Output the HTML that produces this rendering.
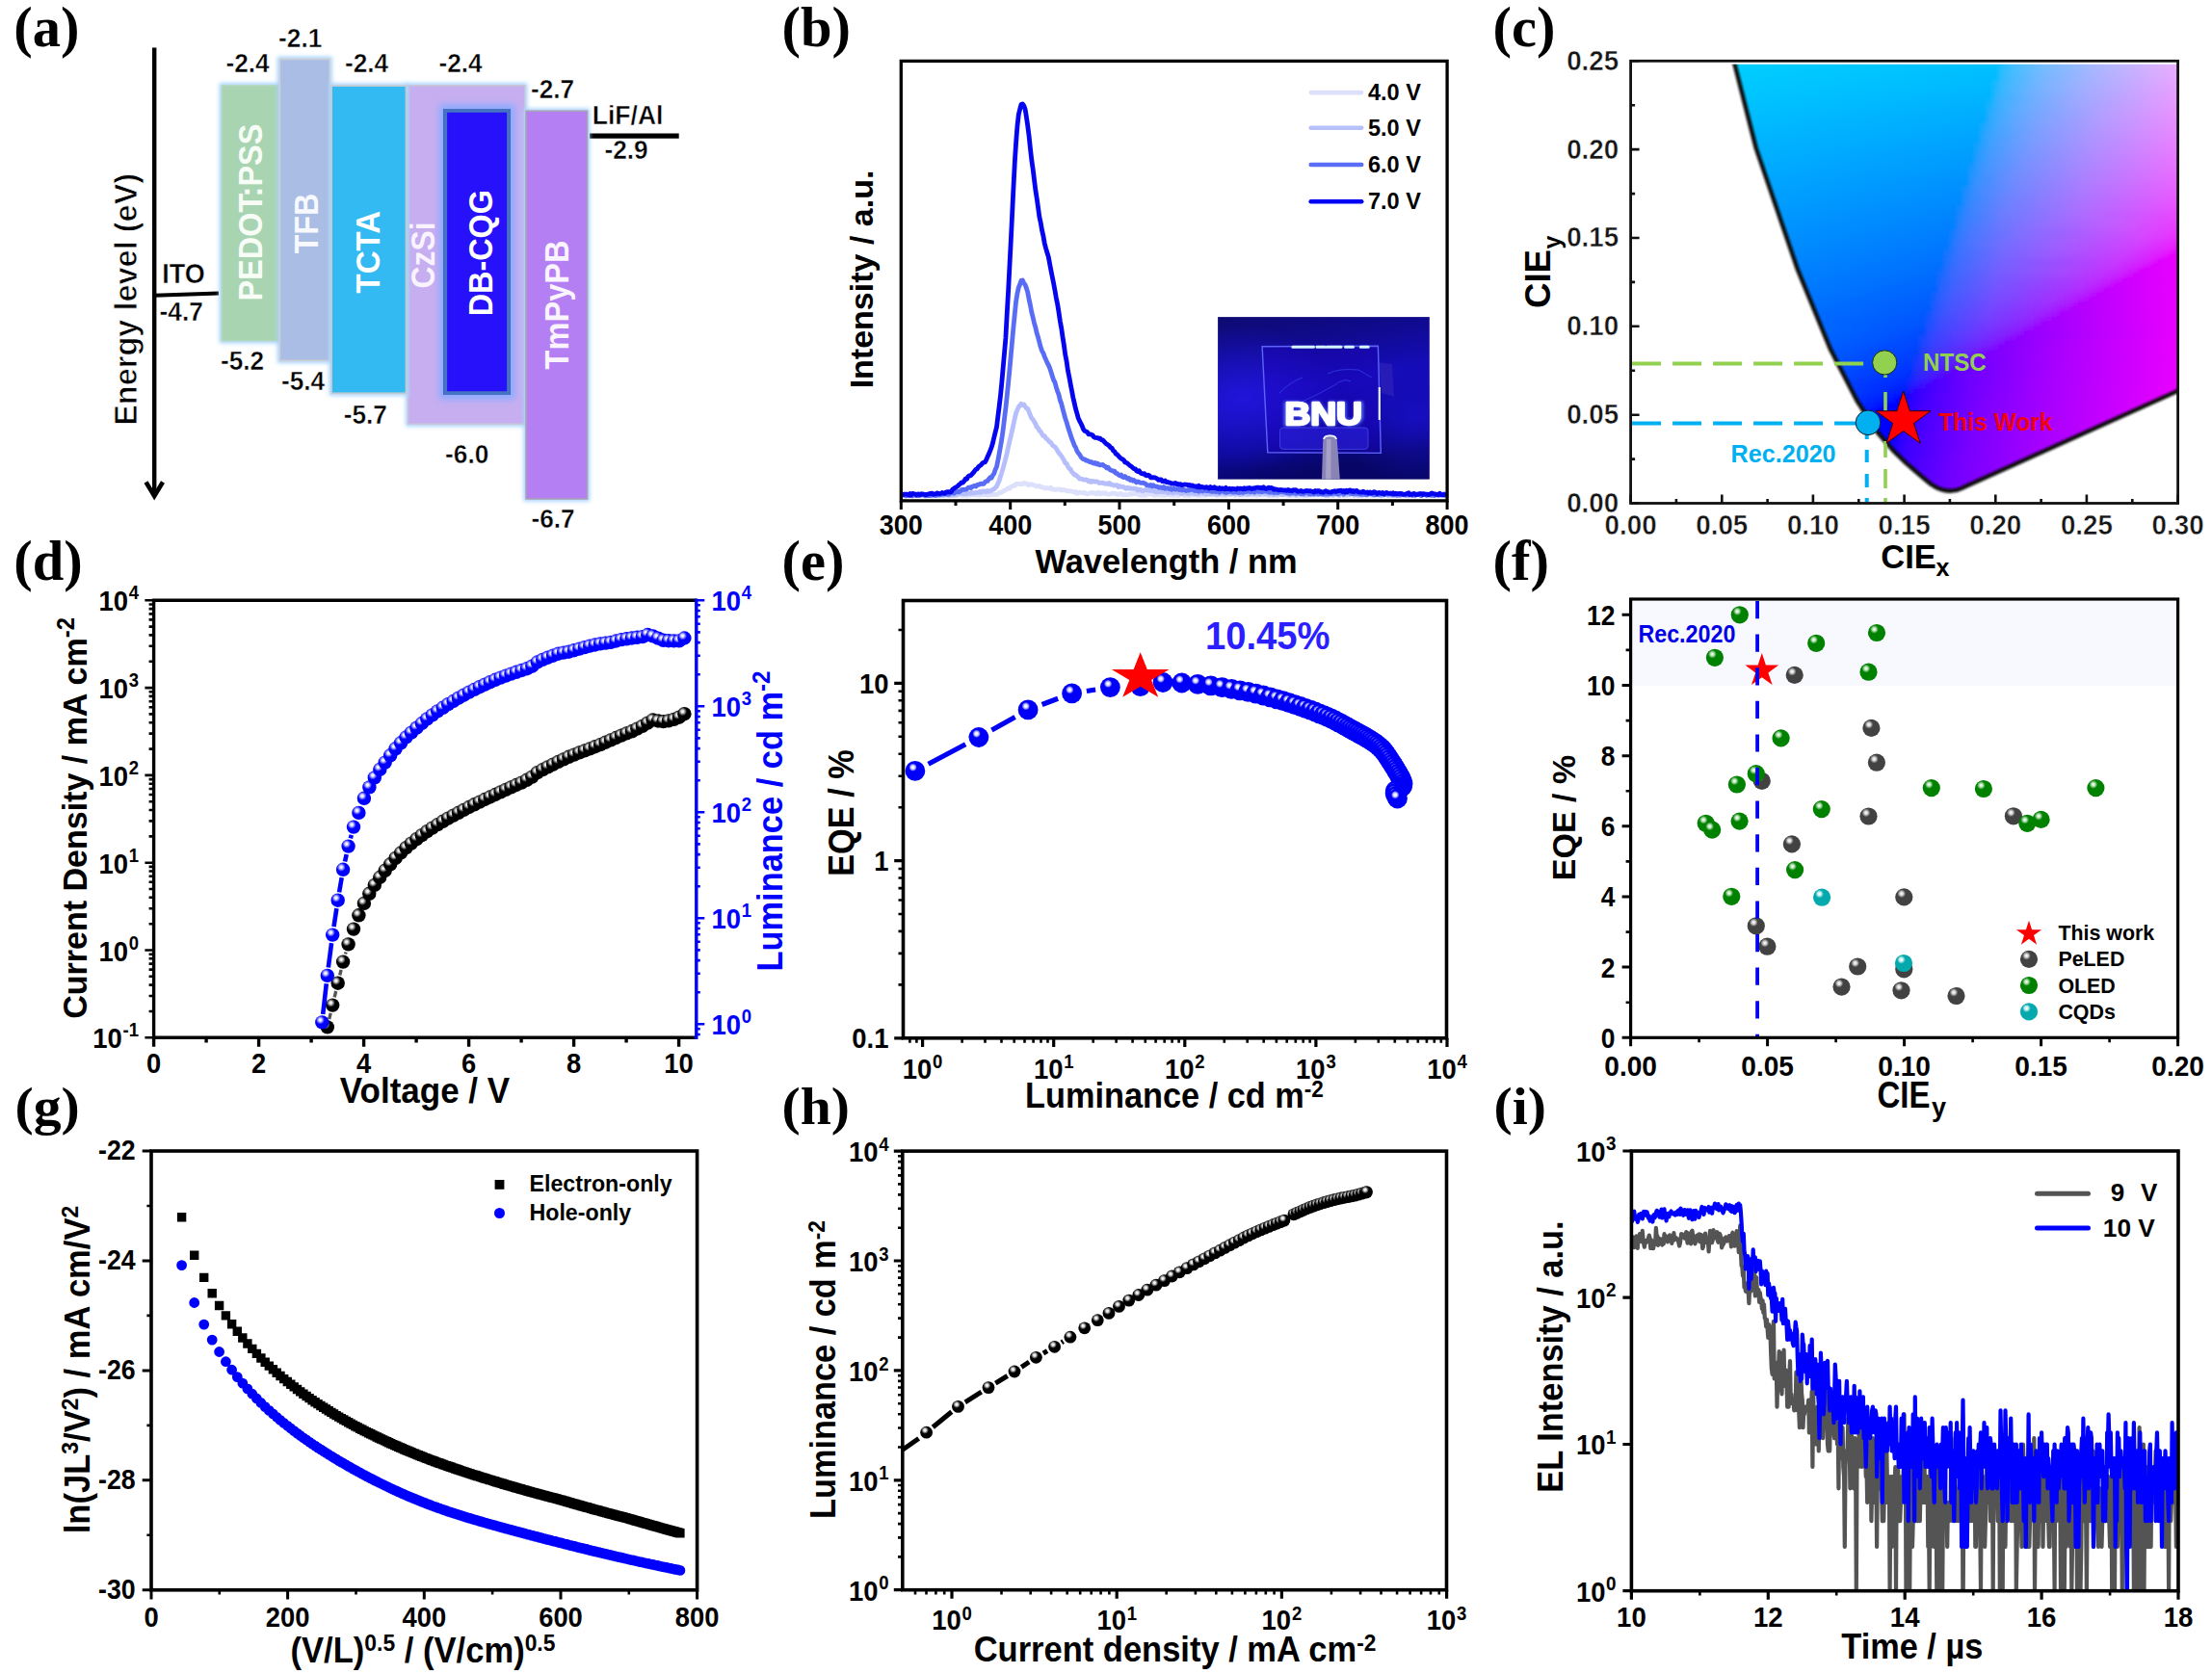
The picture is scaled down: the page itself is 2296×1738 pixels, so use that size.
<!DOCTYPE html>
<html><head><meta charset="utf-8"><title>Figure</title>
<style>
html,body{margin:0;padding:0;background:#fff;}
body{width:2296px;height:1738px;overflow:hidden;}
svg{display:block;font-family:"Liberation Sans", sans-serif;font-weight:bold;}
line{stroke:#000;}
</style></head><body>
<svg xmlns="http://www.w3.org/2000/svg" width="2296" height="1738" viewBox="0 0 2296 1738" text-anchor="middle">
<defs>
<filter id="glow" x="-20%" y="-20%" width="140%" height="140%"><feGaussianBlur stdDeviation="2.2"/></filter>
<filter id="glow2" x="-30%" y="-30%" width="160%" height="160%"><feGaussianBlur stdDeviation="3.5"/></filter>
<linearGradient id="ph" x1="0" y1="0" x2="0.25" y2="1"><stop offset="0" stop-color="#0e0b72"/><stop offset="0.18" stop-color="#0f0a86"/><stop offset="0.5" stop-color="#150cb6"/><stop offset="0.8" stop-color="#0d0896"/><stop offset="1" stop-color="#070666"/></linearGradient>
<radialGradient id="ph2" cx="0.12" cy="0.5" r="0.45"><stop offset="0" stop-color="#2418e6" stop-opacity="0.75"/><stop offset="1" stop-color="#2418e6" stop-opacity="0"/></radialGradient>
<radialGradient id="ph3" cx="0.95" cy="0.62" r="0.4"><stop offset="0" stop-color="#1c10d2" stop-opacity="0.7"/><stop offset="1" stop-color="#1c10d2" stop-opacity="0"/></radialGradient>
<filter id="b2" x="-20%" y="-20%" width="140%" height="140%"><feGaussianBlur stdDeviation="1.6"/></filter>
<filter id="b1" x="-20%" y="-20%" width="140%" height="140%"><feGaussianBlur stdDeviation="0.7"/></filter>
<filter id="vb" x="-2%" y="-2%" width="104%" height="104%"><feGaussianBlur stdDeviation="0 2.2"/></filter>
<filter id="eb" x="-5%" y="-5%" width="110%" height="110%"><feGaussianBlur stdDeviation="1.3"/></filter>
<clipPath id="cie"><path d="M2038.2 506.1Q2021.2 514.8 2003.9 502.5L1997.6 497.2L1989.1 490L1978.5 480.8L1965.2 467.9L1949.1 449.2L1927.6 416.3L1900.1 363.1L1865.5 278.8L1822.7 153.9L1778.6 -19.4L2300.6 -19.4L2300.6 387.9Z"/></clipPath>
<clipPath id="cfr"><rect x="1692.6" y="66.8" width="568" height="455.7"/></clipPath>
<linearGradient id="cg0"><stop offset="0" stop-color="#00d4ff"/><stop offset="0.607" stop-color="#00c3ff"/><stop offset="0.619" stop-color="#0cc3ff"/><stop offset="0.631" stop-color="#2fc2ff"/><stop offset="0.643" stop-color="#40c2ff"/><stop offset="0.714" stop-color="#7abfff"/><stop offset="0.81" stop-color="#abbbff"/><stop offset="1" stop-color="#f7b0ff"/></linearGradient>
<linearGradient id="cg1"><stop offset="0" stop-color="#00d2ff"/><stop offset="0.607" stop-color="#00c1ff"/><stop offset="0.631" stop-color="#34c0ff"/><stop offset="0.643" stop-color="#43c0ff"/><stop offset="0.702" stop-color="#74bdff"/><stop offset="0.821" stop-color="#b1b8ff"/><stop offset="1" stop-color="#f7adff"/></linearGradient>
<linearGradient id="cg2"><stop offset="0" stop-color="#00d1ff"/><stop offset="0.607" stop-color="#00bfff"/><stop offset="0.619" stop-color="#22bfff"/><stop offset="0.643" stop-color="#46beff"/><stop offset="0.702" stop-color="#75bbff"/><stop offset="0.798" stop-color="#a7b7ff"/><stop offset="1" stop-color="#f7aaff"/></linearGradient>
<linearGradient id="cg3"><stop offset="0" stop-color="#00cfff"/><stop offset="0.607" stop-color="#00bdff"/><stop offset="0.619" stop-color="#28bdff"/><stop offset="0.631" stop-color="#3bbcff"/><stop offset="0.69" stop-color="#6fbaff"/><stop offset="0.821" stop-color="#b2b3ff"/><stop offset="1" stop-color="#f6a7ff"/></linearGradient>
<linearGradient id="cg4"><stop offset="0" stop-color="#00ceff"/><stop offset="0.607" stop-color="#00bbff"/><stop offset="0.619" stop-color="#2dbbff"/><stop offset="0.631" stop-color="#3ebaff"/><stop offset="0.69" stop-color="#70b7ff"/><stop offset="0.798" stop-color="#a8b2ff"/><stop offset="1" stop-color="#f6a5ff"/></linearGradient>
<linearGradient id="cg5"><stop offset="0" stop-color="#00ccff"/><stop offset="0.595" stop-color="#00baff"/><stop offset="0.619" stop-color="#31b9ff"/><stop offset="0.631" stop-color="#41b8ff"/><stop offset="0.702" stop-color="#79b5ff"/><stop offset="0.774" stop-color="#9eb1ff"/><stop offset="1" stop-color="#f6a2ff"/></linearGradient>
<linearGradient id="cg6"><stop offset="0" stop-color="#00cbff"/><stop offset="0.595" stop-color="#00b8ff"/><stop offset="0.619" stop-color="#35b7ff"/><stop offset="0.631" stop-color="#44b6ff"/><stop offset="0.69" stop-color="#73b3ff"/><stop offset="0.786" stop-color="#a4aeff"/><stop offset="1" stop-color="#f69fff"/></linearGradient>
<linearGradient id="cg7"><stop offset="0" stop-color="#00caff"/><stop offset="0.595" stop-color="#00b6ff"/><stop offset="0.607" stop-color="#25b5ff"/><stop offset="0.619" stop-color="#39b5ff"/><stop offset="0.655" stop-color="#5cb3ff"/><stop offset="0.69" stop-color="#74b1ff"/><stop offset="0.774" stop-color="#9facff"/><stop offset="1" stop-color="#f69cff"/></linearGradient>
<linearGradient id="cg8"><stop offset="0" stop-color="#00c8ff"/><stop offset="0.595" stop-color="#00b4ff"/><stop offset="0.607" stop-color="#2ab3ff"/><stop offset="0.619" stop-color="#3cb2ff"/><stop offset="0.679" stop-color="#6eafff"/><stop offset="0.786" stop-color="#a5a9ff"/><stop offset="1" stop-color="#f699ff"/></linearGradient>
<linearGradient id="cg9"><stop offset="0" stop-color="#00c7ff"/><stop offset="0.583" stop-color="#00b2ff"/><stop offset="0.595" stop-color="#0fb2ff"/><stop offset="0.607" stop-color="#2fb1ff"/><stop offset="0.619" stop-color="#3fb0ff"/><stop offset="0.679" stop-color="#6fadff"/><stop offset="0.762" stop-color="#9ba8ff"/><stop offset="1" stop-color="#f697ff"/></linearGradient>
<linearGradient id="cg10"><stop offset="0" stop-color="#00c5ff"/><stop offset="0.583" stop-color="#00b0ff"/><stop offset="0.607" stop-color="#33afff"/><stop offset="0.631" stop-color="#4eaeff"/><stop offset="0.667" stop-color="#69acff"/><stop offset="0.774" stop-color="#a1a5ff"/><stop offset="1" stop-color="#f694ff"/></linearGradient>
<linearGradient id="cg11"><stop offset="0" stop-color="#00c4ff"/><stop offset="0.583" stop-color="#00aeff"/><stop offset="0.595" stop-color="#22adff"/><stop offset="0.607" stop-color="#36adff"/><stop offset="0.631" stop-color="#50acff"/><stop offset="0.679" stop-color="#72a9ff"/><stop offset="0.833" stop-color="#ba9fff"/><stop offset="1" stop-color="#f691ff"/></linearGradient>
<linearGradient id="cg12"><stop offset="0" stop-color="#00c2ff"/><stop offset="0.583" stop-color="#00acff"/><stop offset="0.595" stop-color="#27abff"/><stop offset="0.607" stop-color="#3aabff"/><stop offset="0.667" stop-color="#6ca7ff"/><stop offset="0.81" stop-color="#b19eff"/><stop offset="1" stop-color="#f68eff"/></linearGradient>
<linearGradient id="cg13"><stop offset="0" stop-color="#00c1ff"/><stop offset="0.583" stop-color="#01aaff"/><stop offset="0.595" stop-color="#2ca9ff"/><stop offset="0.607" stop-color="#3da9ff"/><stop offset="0.643" stop-color="#5da7ff"/><stop offset="0.69" stop-color="#7ba4ff"/><stop offset="0.821" stop-color="#b69bff"/><stop offset="1" stop-color="#f58bff"/></linearGradient>
<linearGradient id="cg14"><stop offset="0" stop-color="#00bfff"/><stop offset="0.571" stop-color="#00a9ff"/><stop offset="0.595" stop-color="#30a7ff"/><stop offset="0.607" stop-color="#40a7ff"/><stop offset="0.643" stop-color="#5fa5ff"/><stop offset="0.69" stop-color="#7ca2ff"/><stop offset="0.81" stop-color="#b299ff"/><stop offset="1" stop-color="#f588ff"/></linearGradient>
<linearGradient id="cg15"><stop offset="0" stop-color="#00beff"/><stop offset="0.571" stop-color="#00a7ff"/><stop offset="0.583" stop-color="#1fa6ff"/><stop offset="0.607" stop-color="#42a5ff"/><stop offset="0.69" stop-color="#7d9fff"/><stop offset="0.821" stop-color="#b796ff"/><stop offset="1" stop-color="#f585ff"/></linearGradient>
<linearGradient id="cg16"><stop offset="0" stop-color="#00bcff"/><stop offset="0.571" stop-color="#00a5ff"/><stop offset="0.583" stop-color="#25a4ff"/><stop offset="0.595" stop-color="#38a3ff"/><stop offset="0.667" stop-color="#719fff"/><stop offset="0.798" stop-color="#ae95ff"/><stop offset="1" stop-color="#f582ff"/></linearGradient>
<linearGradient id="cg17"><stop offset="0" stop-color="#00bbff"/><stop offset="0.571" stop-color="#00a3ff"/><stop offset="0.583" stop-color="#2aa2ff"/><stop offset="0.595" stop-color="#3ba1ff"/><stop offset="0.667" stop-color="#729dff"/><stop offset="0.786" stop-color="#aa94ff"/><stop offset="1" stop-color="#f57fff"/></linearGradient>
<linearGradient id="cg18"><stop offset="0" stop-color="#00b9ff"/><stop offset="0.56" stop-color="#00a1ff"/><stop offset="0.595" stop-color="#3e9fff"/><stop offset="0.631" stop-color="#5d9dff"/><stop offset="0.679" stop-color="#7a9aff"/><stop offset="0.798" stop-color="#af90ff"/><stop offset="1" stop-color="#f57bff"/></linearGradient>
<linearGradient id="cg19"><stop offset="0" stop-color="#00b8ff"/><stop offset="0.56" stop-color="#009fff"/><stop offset="0.583" stop-color="#329eff"/><stop offset="0.595" stop-color="#409dff"/><stop offset="0.679" stop-color="#7b97ff"/><stop offset="0.81" stop-color="#b48dff"/><stop offset="1" stop-color="#f578ff"/></linearGradient>
<linearGradient id="cg20"><stop offset="0" stop-color="#00b6ff"/><stop offset="0.56" stop-color="#009dff"/><stop offset="0.571" stop-color="#229cff"/><stop offset="0.595" stop-color="#439bff"/><stop offset="0.655" stop-color="#6f97ff"/><stop offset="0.798" stop-color="#b08bff"/><stop offset="1" stop-color="#f575ff"/></linearGradient>
<linearGradient id="cg21"><stop offset="0" stop-color="#00b5ff"/><stop offset="0.56" stop-color="#009bff"/><stop offset="0.571" stop-color="#279aff"/><stop offset="0.583" stop-color="#3999ff"/><stop offset="0.655" stop-color="#7094ff"/><stop offset="0.774" stop-color="#a78bff"/><stop offset="1" stop-color="#f571ff"/></linearGradient>
<linearGradient id="cg22"><stop offset="0" stop-color="#00b3ff"/><stop offset="0.548" stop-color="#009aff"/><stop offset="0.56" stop-color="#0a99ff"/><stop offset="0.571" stop-color="#2c98ff"/><stop offset="0.595" stop-color="#4897ff"/><stop offset="0.679" stop-color="#7e90ff"/><stop offset="0.81" stop-color="#b585ff"/><stop offset="1" stop-color="#f56eff"/></linearGradient>
<linearGradient id="cg23"><stop offset="0" stop-color="#00b2ff"/><stop offset="0.548" stop-color="#0098ff"/><stop offset="0.571" stop-color="#3096ff"/><stop offset="0.583" stop-color="#3e95ff"/><stop offset="0.655" stop-color="#7290ff"/><stop offset="0.774" stop-color="#a886ff"/><stop offset="1" stop-color="#f56bff"/></linearGradient>
<linearGradient id="cg24"><stop offset="0" stop-color="#00b0ff"/><stop offset="0.548" stop-color="#0096ff"/><stop offset="0.56" stop-color="#1f95ff"/><stop offset="0.583" stop-color="#4193ff"/><stop offset="0.643" stop-color="#6d8fff"/><stop offset="0.762" stop-color="#a484ff"/><stop offset="1" stop-color="#f567ff"/></linearGradient>
<linearGradient id="cg25"><stop offset="0" stop-color="#00afff"/><stop offset="0.548" stop-color="#0093ff"/><stop offset="0.56" stop-color="#2593ff"/><stop offset="0.571" stop-color="#3792ff"/><stop offset="0.643" stop-color="#6e8cff"/><stop offset="0.774" stop-color="#a981ff"/><stop offset="1" stop-color="#f563ff"/></linearGradient>
<linearGradient id="cg26"><stop offset="0" stop-color="#00adff"/><stop offset="0.548" stop-color="#0091ff"/><stop offset="0.56" stop-color="#2991ff"/><stop offset="0.571" stop-color="#3a90ff"/><stop offset="0.643" stop-color="#6f8aff"/><stop offset="0.786" stop-color="#ae7dff"/><stop offset="1" stop-color="#f45fff"/></linearGradient>
<linearGradient id="cg27"><stop offset="0" stop-color="#00acff"/><stop offset="0.536" stop-color="#0090ff"/><stop offset="0.56" stop-color="#2e8eff"/><stop offset="0.571" stop-color="#3c8dff"/><stop offset="0.643" stop-color="#7088ff"/><stop offset="0.774" stop-color="#aa7bff"/><stop offset="1" stop-color="#f45bff"/></linearGradient>
<linearGradient id="cg28"><stop offset="0" stop-color="#00aaff"/><stop offset="0.536" stop-color="#008eff"/><stop offset="0.548" stop-color="#1c8dff"/><stop offset="0.571" stop-color="#3f8bff"/><stop offset="0.631" stop-color="#6b86ff"/><stop offset="0.786" stop-color="#af77ff"/><stop offset="1" stop-color="#f457ff"/></linearGradient>
<linearGradient id="cg29"><stop offset="0" stop-color="#00a9ff"/><stop offset="0.536" stop-color="#008cff"/><stop offset="0.548" stop-color="#228bff"/><stop offset="0.56" stop-color="#358aff"/><stop offset="0.631" stop-color="#6c84ff"/><stop offset="0.774" stop-color="#ab76ff"/><stop offset="1" stop-color="#f453ff"/></linearGradient>
<linearGradient id="cg30"><stop offset="0" stop-color="#00a7ff"/><stop offset="0.536" stop-color="#008aff"/><stop offset="0.548" stop-color="#2789ff"/><stop offset="0.56" stop-color="#3888ff"/><stop offset="0.631" stop-color="#6d82ff"/><stop offset="0.762" stop-color="#a774ff"/><stop offset="1" stop-color="#f44eff"/></linearGradient>
<linearGradient id="cg31"><stop offset="0" stop-color="#00a6ff"/><stop offset="0.524" stop-color="#0088ff"/><stop offset="0.536" stop-color="#0d88ff"/><stop offset="0.548" stop-color="#2b87ff"/><stop offset="0.56" stop-color="#3b86ff"/><stop offset="0.631" stop-color="#6e7fff"/><stop offset="0.786" stop-color="#b06fff"/><stop offset="1" stop-color="#f449ff"/></linearGradient>
<linearGradient id="cg32"><stop offset="0" stop-color="#00a4ff"/><stop offset="0.524" stop-color="#0086ff"/><stop offset="0.548" stop-color="#2f84ff"/><stop offset="0.56" stop-color="#3d83ff"/><stop offset="0.619" stop-color="#697eff"/><stop offset="0.762" stop-color="#a86fff"/><stop offset="1" stop-color="#f444ff"/></linearGradient>
<linearGradient id="cg33"><stop offset="0" stop-color="#00a3ff"/><stop offset="0.524" stop-color="#0084ff"/><stop offset="0.536" stop-color="#1f83ff"/><stop offset="0.548" stop-color="#3382ff"/><stop offset="0.619" stop-color="#6a7cff"/><stop offset="0.786" stop-color="#b169ff"/><stop offset="1" stop-color="#f43eff"/></linearGradient>
<linearGradient id="cg34"><stop offset="0" stop-color="#00a1ff"/><stop offset="0.524" stop-color="#0082ff"/><stop offset="0.536" stop-color="#2581ff"/><stop offset="0.548" stop-color="#3680ff"/><stop offset="0.619" stop-color="#6b79ff"/><stop offset="0.714" stop-color="#976fff"/><stop offset="0.845" stop-color="#c55dff"/><stop offset="1" stop-color="#f438ff"/></linearGradient>
<linearGradient id="cg35"><stop offset="0" stop-color="#00a0ff"/><stop offset="0.524" stop-color="#0080ff"/><stop offset="0.536" stop-color="#297fff"/><stop offset="0.548" stop-color="#397eff"/><stop offset="0.607" stop-color="#6678ff"/><stop offset="0.69" stop-color="#8e6fff"/><stop offset="0.857" stop-color="#c957ff"/><stop offset="1" stop-color="#f431ff"/></linearGradient>
<linearGradient id="cg36"><stop offset="0" stop-color="#009eff"/><stop offset="0.512" stop-color="#007fff"/><stop offset="0.536" stop-color="#2d7cff"/><stop offset="0.56" stop-color="#477aff"/><stop offset="0.655" stop-color="#7f70ff"/><stop offset="0.857" stop-color="#c953ff"/><stop offset="0.952" stop-color="#e63cff"/><stop offset="1" stop-color="#f428ff"/></linearGradient>
<linearGradient id="cg37"><stop offset="0" stop-color="#009dff"/><stop offset="0.512" stop-color="#007cff"/><stop offset="0.536" stop-color="#317aff"/><stop offset="0.56" stop-color="#4978ff"/><stop offset="0.655" stop-color="#806eff"/><stop offset="0.881" stop-color="#d14aff"/><stop offset="0.952" stop-color="#e635ff"/><stop offset="1" stop-color="#f41dff"/></linearGradient>
<linearGradient id="cg38"><stop offset="0" stop-color="#009bff"/><stop offset="0.512" stop-color="#007aff"/><stop offset="0.524" stop-color="#2279ff"/><stop offset="0.536" stop-color="#3478ff"/><stop offset="0.56" stop-color="#4b75ff"/><stop offset="0.619" stop-color="#706fff"/><stop offset="0.738" stop-color="#a260ff"/><stop offset="0.893" stop-color="#d442ff"/><stop offset="0.976" stop-color="#ed21ff"/><stop offset="0.988" stop-color="#f018ff"/><stop offset="1" stop-color="#f400ff"/></linearGradient>
<linearGradient id="cg39"><stop offset="0" stop-color="#009aff"/><stop offset="0.512" stop-color="#0078ff"/><stop offset="0.524" stop-color="#2777ff"/><stop offset="0.536" stop-color="#3775ff"/><stop offset="0.571" stop-color="#5572ff"/><stop offset="0.619" stop-color="#716dff"/><stop offset="0.726" stop-color="#9e5eff"/><stop offset="0.881" stop-color="#d140ff"/><stop offset="0.952" stop-color="#e625ff"/><stop offset="0.988" stop-color="#f000ff"/><stop offset="1" stop-color="#f400ff"/></linearGradient>
<linearGradient id="cg40"><stop offset="0" stop-color="#0098ff"/><stop offset="0.5" stop-color="#0077ff"/><stop offset="0.536" stop-color="#3a73ff"/><stop offset="0.619" stop-color="#726aff"/><stop offset="0.738" stop-color="#a359ff"/><stop offset="0.869" stop-color="#cd3eff"/><stop offset="0.94" stop-color="#e321ff"/><stop offset="0.952" stop-color="#e618ff"/><stop offset="0.964" stop-color="#e900ff"/><stop offset="1" stop-color="#f400ff"/></linearGradient>
<linearGradient id="cg41"><stop offset="0" stop-color="#0097ff"/><stop offset="0.5" stop-color="#0074ff"/><stop offset="0.524" stop-color="#2f72ff"/><stop offset="0.536" stop-color="#3c71ff"/><stop offset="0.619" stop-color="#7367ff"/><stop offset="0.714" stop-color="#9b5aff"/><stop offset="0.857" stop-color="#ca3cff"/><stop offset="0.929" stop-color="#df1dff"/><stop offset="0.952" stop-color="#e600ff"/><stop offset="1" stop-color="#f400ff"/></linearGradient>
<linearGradient id="cg42"><stop offset="0" stop-color="#0095ff"/><stop offset="0.5" stop-color="#0072ff"/><stop offset="0.512" stop-color="#2071ff"/><stop offset="0.536" stop-color="#3f6eff"/><stop offset="0.619" stop-color="#7464ff"/><stop offset="0.845" stop-color="#c73aff"/><stop offset="0.905" stop-color="#d821ff"/><stop offset="0.917" stop-color="#dc18ff"/><stop offset="0.929" stop-color="#df00ff"/><stop offset="1" stop-color="#f300ff"/></linearGradient>
<linearGradient id="cg43"><stop offset="0" stop-color="#0094ff"/><stop offset="0.5" stop-color="#006fff"/><stop offset="0.512" stop-color="#256eff"/><stop offset="0.536" stop-color="#416cff"/><stop offset="0.619" stop-color="#7561ff"/><stop offset="0.833" stop-color="#c338ff"/><stop offset="0.893" stop-color="#d51dff"/><stop offset="0.917" stop-color="#dc00ff"/><stop offset="1" stop-color="#f300ff"/></linearGradient>
<linearGradient id="cg44"><stop offset="0" stop-color="#0092ff"/><stop offset="0.488" stop-color="#006eff"/><stop offset="0.5" stop-color="#086dff"/><stop offset="0.512" stop-color="#296cff"/><stop offset="0.536" stop-color="#4369ff"/><stop offset="0.619" stop-color="#765fff"/><stop offset="0.738" stop-color="#a54bff"/><stop offset="0.845" stop-color="#c72dff"/><stop offset="0.881" stop-color="#d218ff"/><stop offset="0.893" stop-color="#d500ff"/><stop offset="1" stop-color="#f300ff"/></linearGradient>
<linearGradient id="cg45"><stop offset="0" stop-color="#0090ff"/><stop offset="0.488" stop-color="#006cff"/><stop offset="0.512" stop-color="#2d69ff"/><stop offset="0.524" stop-color="#3b68ff"/><stop offset="0.607" stop-color="#715dff"/><stop offset="0.75" stop-color="#a944ff"/><stop offset="0.821" stop-color="#c02fff"/><stop offset="0.857" stop-color="#cb1dff"/><stop offset="0.881" stop-color="#d200ff"/><stop offset="1" stop-color="#f300ff"/></linearGradient>
<linearGradient id="cg46"><stop offset="0" stop-color="#008fff"/><stop offset="0.488" stop-color="#0069ff"/><stop offset="0.5" stop-color="#1d68ff"/><stop offset="0.524" stop-color="#3d65ff"/><stop offset="0.607" stop-color="#725aff"/><stop offset="0.798" stop-color="#b931ff"/><stop offset="0.845" stop-color="#c718ff"/><stop offset="0.857" stop-color="#cb04ff"/><stop offset="0.869" stop-color="#ce00ff"/><stop offset="1" stop-color="#f300ff"/></linearGradient>
<linearGradient id="cg47"><stop offset="0" stop-color="#008dff"/><stop offset="0.488" stop-color="#0067ff"/><stop offset="0.5" stop-color="#2265ff"/><stop offset="0.524" stop-color="#3f63ff"/><stop offset="0.607" stop-color="#7357ff"/><stop offset="0.774" stop-color="#b233ff"/><stop offset="0.821" stop-color="#c11dff"/><stop offset="0.845" stop-color="#c800ff"/><stop offset="1" stop-color="#f300ff"/></linearGradient>
<linearGradient id="cg48"><stop offset="0" stop-color="#008cff"/><stop offset="0.488" stop-color="#0064ff"/><stop offset="0.5" stop-color="#2763ff"/><stop offset="0.524" stop-color="#4260ff"/><stop offset="0.607" stop-color="#7454ff"/><stop offset="0.774" stop-color="#b22cff"/><stop offset="0.81" stop-color="#bd18ff"/><stop offset="0.821" stop-color="#c106ff"/><stop offset="0.833" stop-color="#c400ff"/><stop offset="1" stop-color="#f300ff"/></linearGradient>
<linearGradient id="cg49"><stop offset="0" stop-color="#008aff"/><stop offset="0.476" stop-color="#0063ff"/><stop offset="0.5" stop-color="#2b60ff"/><stop offset="0.524" stop-color="#445dff"/><stop offset="0.607" stop-color="#7550ff"/><stop offset="0.75" stop-color="#ab2eff"/><stop offset="0.786" stop-color="#b61dff"/><stop offset="0.81" stop-color="#bd00ff"/><stop offset="1" stop-color="#f300ff"/></linearGradient>
<linearGradient id="cg50"><stop offset="0" stop-color="#0088ff"/><stop offset="0.476" stop-color="#0060ff"/><stop offset="0.5" stop-color="#2e5dff"/><stop offset="0.524" stop-color="#465aff"/><stop offset="0.607" stop-color="#764dff"/><stop offset="0.726" stop-color="#a330ff"/><stop offset="0.762" stop-color="#af20ff"/><stop offset="0.798" stop-color="#ba00ff"/><stop offset="1" stop-color="#f300ff"/></linearGradient>
<linearGradient id="cg51"><stop offset="0" stop-color="#0087ff"/><stop offset="0.476" stop-color="#005eff"/><stop offset="0.488" stop-color="#205cff"/><stop offset="0.512" stop-color="#3e59ff"/><stop offset="0.595" stop-color="#714bff"/><stop offset="0.714" stop-color="#a02eff"/><stop offset="0.75" stop-color="#ab1cff"/><stop offset="0.774" stop-color="#b300ff"/><stop offset="1" stop-color="#f300ff"/></linearGradient>
<linearGradient id="cg52"><stop offset="0" stop-color="#0085ff"/><stop offset="0.476" stop-color="#005bff"/><stop offset="0.488" stop-color="#2559ff"/><stop offset="0.512" stop-color="#4056ff"/><stop offset="0.595" stop-color="#7248ff"/><stop offset="0.714" stop-color="#a026ff"/><stop offset="0.762" stop-color="#b000ff"/><stop offset="1" stop-color="#f300ff"/></linearGradient>
<linearGradient id="cg53"><stop offset="0" stop-color="#0083ff"/><stop offset="0.464" stop-color="#005aff"/><stop offset="0.476" stop-color="#0c58ff"/><stop offset="0.488" stop-color="#2956ff"/><stop offset="0.512" stop-color="#4253ff"/><stop offset="0.595" stop-color="#7344ff"/><stop offset="0.69" stop-color="#9829ff"/><stop offset="0.726" stop-color="#a513ff"/><stop offset="0.738" stop-color="#a800ff"/><stop offset="1" stop-color="#f300ff"/></linearGradient>
<linearGradient id="cg54"><stop offset="0" stop-color="#0082ff"/><stop offset="0.464" stop-color="#0057ff"/><stop offset="0.488" stop-color="#2c53ff"/><stop offset="0.5" stop-color="#3a51ff"/><stop offset="0.536" stop-color="#554bff"/><stop offset="0.595" stop-color="#7440ff"/><stop offset="0.679" stop-color="#9526ff"/><stop offset="0.726" stop-color="#a500ff"/><stop offset="1" stop-color="#f300ff"/></linearGradient>
<linearGradient id="cg55"><stop offset="0" stop-color="#0080ff"/><stop offset="0.464" stop-color="#0054ff"/><stop offset="0.476" stop-color="#1d52ff"/><stop offset="0.5" stop-color="#3c4eff"/><stop offset="0.595" stop-color="#753bff"/><stop offset="0.667" stop-color="#9123ff"/><stop offset="0.69" stop-color="#9a13ff"/><stop offset="0.702" stop-color="#9e00ff"/><stop offset="1" stop-color="#f300ff"/></linearGradient>
<linearGradient id="cg56"><stop offset="0" stop-color="#007eff"/><stop offset="0.25" stop-color="#006bff"/><stop offset="0.464" stop-color="#0051ff"/><stop offset="0.476" stop-color="#224fff"/><stop offset="0.5" stop-color="#3e4bff"/><stop offset="0.595" stop-color="#7636ff"/><stop offset="0.655" stop-color="#8d20ff"/><stop offset="0.69" stop-color="#9a00ff"/><stop offset="1" stop-color="#f300ff"/></linearGradient>
<linearGradient id="cg57"><stop offset="0" stop-color="#007dff"/><stop offset="0.286" stop-color="#0065ff"/><stop offset="0.464" stop-color="#004dff"/><stop offset="0.476" stop-color="#274bff"/><stop offset="0.488" stop-color="#3549ff"/><stop offset="0.524" stop-color="#5243ff"/><stop offset="0.571" stop-color="#6c37ff"/><stop offset="0.631" stop-color="#8523ff"/><stop offset="0.655" stop-color="#8e13ff"/><stop offset="0.667" stop-color="#9200ff"/><stop offset="1" stop-color="#f300ff"/></linearGradient>
<linearGradient id="cg58"><stop offset="0" stop-color="#007bff"/><stop offset="0.274" stop-color="#0064ff"/><stop offset="0.452" stop-color="#004cff"/><stop offset="0.476" stop-color="#2a48ff"/><stop offset="0.5" stop-color="#4343ff"/><stop offset="0.571" stop-color="#6d32ff"/><stop offset="0.619" stop-color="#8120ff"/><stop offset="0.655" stop-color="#8f00ff"/><stop offset="1" stop-color="#f300ff"/></linearGradient>
<linearGradient id="cg59"><stop offset="0" stop-color="#0079ff"/><stop offset="0.262" stop-color="#0063ff"/><stop offset="0.452" stop-color="#0049ff"/><stop offset="0.464" stop-color="#1b47ff"/><stop offset="0.488" stop-color="#3a42ff"/><stop offset="0.571" stop-color="#6e2cff"/><stop offset="0.607" stop-color="#7d1cff"/><stop offset="0.631" stop-color="#8600ff"/><stop offset="0.774" stop-color="#b600ff"/><stop offset="1" stop-color="#f300ff"/></linearGradient>
<linearGradient id="cg60"><stop offset="0" stop-color="#0077ff"/><stop offset="0.238" stop-color="#0063ff"/><stop offset="0.452" stop-color="#0045ff"/><stop offset="0.464" stop-color="#2043ff"/><stop offset="0.488" stop-color="#3d3eff"/><stop offset="0.571" stop-color="#6f25ff"/><stop offset="0.595" stop-color="#7918ff"/><stop offset="0.619" stop-color="#8300ff"/><stop offset="0.75" stop-color="#af00ff"/><stop offset="1" stop-color="#f300ff"/></linearGradient>
<linearGradient id="cg61"><stop offset="0" stop-color="#0076ff"/><stop offset="0.262" stop-color="#005eff"/><stop offset="0.452" stop-color="#0041ff"/><stop offset="0.464" stop-color="#253fff"/><stop offset="0.476" stop-color="#343cff"/><stop offset="0.512" stop-color="#5033ff"/><stop offset="0.571" stop-color="#701cff"/><stop offset="0.595" stop-color="#7a00ff"/><stop offset="0.738" stop-color="#ac00ff"/><stop offset="1" stop-color="#f200ff"/></linearGradient>
<linearGradient id="cg62"><stop offset="0" stop-color="#0074ff"/><stop offset="0.25" stop-color="#005dff"/><stop offset="0.44" stop-color="#0040ff"/><stop offset="0.452" stop-color="#0e3dff"/><stop offset="0.464" stop-color="#293bff"/><stop offset="0.488" stop-color="#4135ff"/><stop offset="0.548" stop-color="#6520ff"/><stop offset="0.571" stop-color="#710dff"/><stop offset="0.583" stop-color="#7600ff"/><stop offset="0.714" stop-color="#a500ff"/><stop offset="1" stop-color="#f200ff"/></linearGradient>
<linearGradient id="cg63"><stop offset="0" stop-color="#0072ff"/><stop offset="0.238" stop-color="#005cff"/><stop offset="0.44" stop-color="#003cff"/><stop offset="0.464" stop-color="#2c36ff"/><stop offset="0.488" stop-color="#4330ff"/><stop offset="0.536" stop-color="#601cff"/><stop offset="0.548" stop-color="#6614ff"/><stop offset="0.56" stop-color="#6c00ff"/><stop offset="0.583" stop-color="#7700ff"/><stop offset="0.726" stop-color="#a900ff"/><stop offset="1" stop-color="#f200ff"/></linearGradient>
<linearGradient id="cg64"><stop offset="0" stop-color="#0070ff"/><stop offset="0.274" stop-color="#0055ff"/><stop offset="0.44" stop-color="#0037ff"/><stop offset="0.452" stop-color="#1e34ff"/><stop offset="0.476" stop-color="#3b2eff"/><stop offset="0.524" stop-color="#5b18ff"/><stop offset="0.548" stop-color="#6800ff"/><stop offset="0.738" stop-color="#ad00ff"/><stop offset="1" stop-color="#f200ff"/></linearGradient>
<linearGradient id="cg65"><stop offset="0" stop-color="#006eff"/><stop offset="0.238" stop-color="#0057ff"/><stop offset="0.44" stop-color="#0033ff"/><stop offset="0.452" stop-color="#232fff"/><stop offset="0.464" stop-color="#322bff"/><stop offset="0.512" stop-color="#5614ff"/><stop offset="0.524" stop-color="#5d00ff"/><stop offset="0.548" stop-color="#6900ff"/><stop offset="0.714" stop-color="#a600ff"/><stop offset="1" stop-color="#f200ff"/></linearGradient>
<linearGradient id="cg66"><stop offset="0" stop-color="#006cff"/><stop offset="0.262" stop-color="#0051ff"/><stop offset="0.429" stop-color="#0031ff"/><stop offset="0.44" stop-color="#072dff"/><stop offset="0.452" stop-color="#2729ff"/><stop offset="0.464" stop-color="#3525ff"/><stop offset="0.488" stop-color="#4819ff"/><stop offset="0.512" stop-color="#5700ff"/><stop offset="0.548" stop-color="#6a00ff"/><stop offset="0.702" stop-color="#a300ff"/><stop offset="1" stop-color="#f200ff"/></linearGradient>
<linearGradient id="cg67"><stop offset="0" stop-color="#006bff"/><stop offset="0.25" stop-color="#0050ff"/><stop offset="0.429" stop-color="#002bff"/><stop offset="0.452" stop-color="#2a22ff"/><stop offset="0.464" stop-color="#371cff"/><stop offset="0.476" stop-color="#4114ff"/><stop offset="0.488" stop-color="#4a00ff"/><stop offset="0.548" stop-color="#6b00ff"/><stop offset="0.714" stop-color="#a700ff"/><stop offset="1" stop-color="#f200ff"/></linearGradient>
<linearGradient id="cg68"><stop offset="0" stop-color="#0069ff"/><stop offset="0.25" stop-color="#004dff"/><stop offset="0.429" stop-color="#0025ff"/><stop offset="0.44" stop-color="#1b1fff"/><stop offset="0.464" stop-color="#3a0eff"/><stop offset="0.476" stop-color="#4300ff"/><stop offset="0.548" stop-color="#6c00ff"/><stop offset="0.69" stop-color="#a000ff"/><stop offset="1" stop-color="#f200ff"/></linearGradient>
<linearGradient id="cg69"><stop offset="0" stop-color="#0067ff"/><stop offset="0.298" stop-color="#0042ff"/><stop offset="0.381" stop-color="#002fff"/><stop offset="0.429" stop-color="#001cff"/><stop offset="0.44" stop-color="#2014ff"/><stop offset="0.452" stop-color="#3000ff"/><stop offset="0.464" stop-color="#3c00ff"/><stop offset="0.56" stop-color="#7200ff"/><stop offset="0.75" stop-color="#b200ff"/><stop offset="1" stop-color="#f200ff"/></linearGradient>
<linearGradient id="cg70"><stop offset="0" stop-color="#0065ff"/><stop offset="0.31" stop-color="#003cff"/><stop offset="0.381" stop-color="#0029ff"/><stop offset="0.429" stop-color="#000eff"/><stop offset="0.44" stop-color="#2500ff"/><stop offset="0.452" stop-color="#3300ff"/><stop offset="0.488" stop-color="#4f00ff"/><stop offset="0.536" stop-color="#6800ff"/><stop offset="0.69" stop-color="#a100ff"/><stop offset="1" stop-color="#f200ff"/></linearGradient>
<linearGradient id="cg71"><stop offset="0" stop-color="#0063ff"/><stop offset="0.19" stop-color="#004dff"/><stop offset="0.321" stop-color="#0035ff"/><stop offset="0.393" stop-color="#001cff"/><stop offset="0.405" stop-color="#0014ff"/><stop offset="0.417" stop-color="#0000ff"/><stop offset="0.44" stop-color="#2800ff"/><stop offset="0.476" stop-color="#4900ff"/><stop offset="0.583" stop-color="#7d00ff"/><stop offset="0.726" stop-color="#ac00ff"/><stop offset="1" stop-color="#f200ff"/></linearGradient>
<linearGradient id="cg72"><stop offset="0" stop-color="#0060ff"/><stop offset="0.286" stop-color="#0039ff"/><stop offset="0.369" stop-color="#001fff"/><stop offset="0.405" stop-color="#0000ff"/><stop offset="0.417" stop-color="#0000ff"/><stop offset="0.44" stop-color="#2c00ff"/><stop offset="0.464" stop-color="#4200ff"/><stop offset="0.571" stop-color="#7900ff"/><stop offset="0.75" stop-color="#b300ff"/><stop offset="1" stop-color="#f200ff"/></linearGradient>
<linearGradient id="cg73"><stop offset="0" stop-color="#005eff"/><stop offset="0.262" stop-color="#003aff"/><stop offset="0.345" stop-color="#0022ff"/><stop offset="0.369" stop-color="#0015ff"/><stop offset="0.381" stop-color="#0000ff"/><stop offset="0.417" stop-color="#0000ff"/><stop offset="0.429" stop-color="#1e00ff"/><stop offset="0.464" stop-color="#4400ff"/><stop offset="0.571" stop-color="#7a00ff"/><stop offset="0.738" stop-color="#b000ff"/><stop offset="1" stop-color="#f200ff"/></linearGradient>
<linearGradient id="cg74"><stop offset="0" stop-color="#005cff"/><stop offset="0.238" stop-color="#003bff"/><stop offset="0.333" stop-color="#001fff"/><stop offset="0.369" stop-color="#0000ff"/><stop offset="0.417" stop-color="#0000ff"/><stop offset="0.429" stop-color="#2300ff"/><stop offset="0.452" stop-color="#3d00ff"/><stop offset="0.56" stop-color="#7600ff"/><stop offset="0.726" stop-color="#ad00ff"/><stop offset="1" stop-color="#f200ff"/></linearGradient>
<linearGradient id="cg75"><stop offset="0" stop-color="#005aff"/><stop offset="0.238" stop-color="#0037ff"/><stop offset="0.31" stop-color="#0022ff"/><stop offset="0.357" stop-color="#0000ff"/><stop offset="0.405" stop-color="#0000ff"/><stop offset="0.417" stop-color="#0b00ff"/><stop offset="0.429" stop-color="#2700ff"/><stop offset="0.452" stop-color="#3f00ff"/><stop offset="0.56" stop-color="#7700ff"/><stop offset="0.75" stop-color="#b400ff"/><stop offset="1" stop-color="#f200ff"/></linearGradient>
<linearGradient id="cg76"><stop offset="0" stop-color="#0058ff"/><stop offset="0.262" stop-color="#002cff"/><stop offset="0.31" stop-color="#0019ff"/><stop offset="0.333" stop-color="#0000ff"/><stop offset="0.405" stop-color="#0000ff"/><stop offset="0.429" stop-color="#2a00ff"/><stop offset="0.44" stop-color="#3700ff"/><stop offset="0.488" stop-color="#5700ff"/><stop offset="0.548" stop-color="#7300ff"/><stop offset="0.738" stop-color="#b100ff"/><stop offset="1" stop-color="#f200ff"/></linearGradient>
<linearGradient id="cg77"><stop offset="0" stop-color="#0055ff"/><stop offset="0.226" stop-color="#0031ff"/><stop offset="0.286" stop-color="#001cff"/><stop offset="0.321" stop-color="#0000ff"/><stop offset="0.405" stop-color="#0000ff"/><stop offset="0.417" stop-color="#1c00ff"/><stop offset="0.44" stop-color="#3900ff"/><stop offset="0.536" stop-color="#6f00ff"/><stop offset="0.726" stop-color="#ae00ff"/><stop offset="1" stop-color="#f200ff"/></linearGradient>
<linearGradient id="cg78"><stop offset="0" stop-color="#0053ff"/><stop offset="0.226" stop-color="#002cff"/><stop offset="0.274" stop-color="#0019ff"/><stop offset="0.298" stop-color="#0000ff"/><stop offset="0.405" stop-color="#0000ff"/><stop offset="0.417" stop-color="#2100ff"/><stop offset="0.44" stop-color="#3b00ff"/><stop offset="0.488" stop-color="#5a00ff"/><stop offset="0.56" stop-color="#7900ff"/><stop offset="0.714" stop-color="#ab00ff"/><stop offset="1" stop-color="#f200ff"/></linearGradient>
<linearGradient id="cg79"><stop offset="0" stop-color="#0051ff"/><stop offset="0.214" stop-color="#002aff"/><stop offset="0.25" stop-color="#001cff"/><stop offset="0.286" stop-color="#0000ff"/><stop offset="0.405" stop-color="#0000ff"/><stop offset="0.417" stop-color="#2500ff"/><stop offset="0.44" stop-color="#3d00ff"/><stop offset="0.488" stop-color="#5b00ff"/><stop offset="0.56" stop-color="#7a00ff"/><stop offset="0.75" stop-color="#b500ff"/><stop offset="1" stop-color="#f200ff"/></linearGradient>
<linearGradient id="cg80"><stop offset="0" stop-color="#004eff"/><stop offset="0.202" stop-color="#0028ff"/><stop offset="0.238" stop-color="#0019ff"/><stop offset="0.262" stop-color="#0000ff"/><stop offset="0.393" stop-color="#0000ff"/><stop offset="0.417" stop-color="#2800ff"/><stop offset="0.44" stop-color="#3f00ff"/><stop offset="0.548" stop-color="#7600ff"/><stop offset="0.69" stop-color="#a500ff"/><stop offset="1" stop-color="#f200ff"/></linearGradient>
<linearGradient id="cg81"><stop offset="0" stop-color="#004bff"/><stop offset="0.179" stop-color="#002aff"/><stop offset="0.214" stop-color="#001cff"/><stop offset="0.25" stop-color="#0000ff"/><stop offset="0.393" stop-color="#0000ff"/><stop offset="0.417" stop-color="#2b00ff"/><stop offset="0.44" stop-color="#4100ff"/><stop offset="0.548" stop-color="#7700ff"/><stop offset="0.714" stop-color="#ac00ff"/><stop offset="1" stop-color="#f200ff"/></linearGradient>
<linearGradient id="cg82"><stop offset="0" stop-color="#0049ff"/><stop offset="0.167" stop-color="#0028ff"/><stop offset="0.202" stop-color="#0019ff"/><stop offset="0.226" stop-color="#0000ff"/><stop offset="0.393" stop-color="#0000ff"/><stop offset="0.405" stop-color="#1e00ff"/><stop offset="0.429" stop-color="#3a00ff"/><stop offset="0.536" stop-color="#7300ff"/><stop offset="0.702" stop-color="#a900ff"/><stop offset="1" stop-color="#f200ff"/></linearGradient>
<linearGradient id="cg83"><stop offset="0" stop-color="#0046ff"/><stop offset="0.155" stop-color="#0026ff"/><stop offset="0.19" stop-color="#0015ff"/><stop offset="0.214" stop-color="#0000ff"/><stop offset="0.393" stop-color="#0000ff"/><stop offset="0.405" stop-color="#2300ff"/><stop offset="0.429" stop-color="#3c00ff"/><stop offset="0.536" stop-color="#7400ff"/><stop offset="0.738" stop-color="#b300ff"/><stop offset="1" stop-color="#f200ff"/></linearGradient>
<linearGradient id="cg84"><stop offset="0" stop-color="#0043ff"/><stop offset="0.155" stop-color="#001fff"/><stop offset="0.179" stop-color="#0011ff"/><stop offset="0.19" stop-color="#0000ff"/><stop offset="0.381" stop-color="#0000ff"/><stop offset="0.393" stop-color="#0d00ff"/><stop offset="0.405" stop-color="#2600ff"/><stop offset="0.429" stop-color="#3e00ff"/><stop offset="0.524" stop-color="#7000ff"/><stop offset="0.714" stop-color="#ad00ff"/><stop offset="1" stop-color="#f100ff"/></linearGradient>
<linearGradient id="cg85"><stop offset="0" stop-color="#0040ff"/><stop offset="0.131" stop-color="#0021ff"/><stop offset="0.179" stop-color="#0000ff"/><stop offset="0.381" stop-color="#0000ff"/><stop offset="0.405" stop-color="#2a00ff"/><stop offset="0.429" stop-color="#4000ff"/><stop offset="0.548" stop-color="#7a00ff"/><stop offset="0.702" stop-color="#aa00ff"/><stop offset="1" stop-color="#f100ff"/></linearGradient>
<linearGradient id="cg86"><stop offset="0" stop-color="#003dff"/><stop offset="0.119" stop-color="#001fff"/><stop offset="0.143" stop-color="#0011ff"/><stop offset="0.155" stop-color="#0000ff"/><stop offset="0.381" stop-color="#0000ff"/><stop offset="0.393" stop-color="#1c00ff"/><stop offset="0.417" stop-color="#3800ff"/><stop offset="0.512" stop-color="#6d00ff"/><stop offset="0.69" stop-color="#a700ff"/><stop offset="1" stop-color="#f100ff"/></linearGradient>
<linearGradient id="cg87"><stop offset="0" stop-color="#0039ff"/><stop offset="0.095" stop-color="#0021ff"/><stop offset="0.143" stop-color="#0000ff"/><stop offset="0.381" stop-color="#0000ff"/><stop offset="0.393" stop-color="#2100ff"/><stop offset="0.417" stop-color="#3a00ff"/><stop offset="0.452" stop-color="#5200ff"/><stop offset="0.536" stop-color="#7700ff"/><stop offset="0.726" stop-color="#b100ff"/><stop offset="1" stop-color="#f100ff"/></linearGradient>
<linearGradient id="cg88"><stop offset="0" stop-color="#0036ff"/><stop offset="0.083" stop-color="#001fff"/><stop offset="0.107" stop-color="#0011ff"/><stop offset="0.119" stop-color="#0000ff"/><stop offset="0.369" stop-color="#0000ff"/><stop offset="0.381" stop-color="#0500ff"/><stop offset="0.393" stop-color="#2500ff"/><stop offset="0.429" stop-color="#4500ff"/><stop offset="0.524" stop-color="#7300ff"/><stop offset="0.702" stop-color="#ab00ff"/><stop offset="1" stop-color="#f100ff"/></linearGradient>
<linearGradient id="cg89"><stop offset="0" stop-color="#0032ff"/><stop offset="0.071" stop-color="#001cff"/><stop offset="0.107" stop-color="#0000ff"/><stop offset="0.369" stop-color="#0000ff"/><stop offset="0.393" stop-color="#2800ff"/><stop offset="0.417" stop-color="#3e00ff"/><stop offset="0.524" stop-color="#7400ff"/><stop offset="0.69" stop-color="#a800ff"/><stop offset="1" stop-color="#f100ff"/></linearGradient>
<linearGradient id="cg90"><stop offset="0" stop-color="#002dff"/><stop offset="0.06" stop-color="#0019ff"/><stop offset="0.083" stop-color="#0000ff"/><stop offset="0.369" stop-color="#0000ff"/><stop offset="0.381" stop-color="#1a00ff"/><stop offset="0.405" stop-color="#3700ff"/><stop offset="0.512" stop-color="#7000ff"/><stop offset="0.738" stop-color="#b500ff"/><stop offset="1" stop-color="#f100ff"/></linearGradient>
<linearGradient id="cg91"><stop offset="0" stop-color="#0029ff"/><stop offset="0.048" stop-color="#0016ff"/><stop offset="0.071" stop-color="#0000ff"/><stop offset="0.369" stop-color="#0000ff"/><stop offset="0.381" stop-color="#1f00ff"/><stop offset="0.405" stop-color="#3900ff"/><stop offset="0.452" stop-color="#5700ff"/><stop offset="0.512" stop-color="#7100ff"/><stop offset="0.702" stop-color="#ac00ff"/><stop offset="1" stop-color="#f100ff"/></linearGradient>
<linearGradient id="cg92"><stop offset="0" stop-color="#0025ff"/><stop offset="0.036" stop-color="#0016ff"/><stop offset="0.06" stop-color="#0000ff"/><stop offset="0.369" stop-color="#0000ff"/><stop offset="0.381" stop-color="#2100ff"/><stop offset="0.405" stop-color="#3a00ff"/><stop offset="0.5" stop-color="#6d00ff"/><stop offset="0.69" stop-color="#a900ff"/><stop offset="1" stop-color="#f100ff"/></linearGradient>
<linearGradient id="cg93"><stop offset="0" stop-color="#0025ff"/><stop offset="0.036" stop-color="#0016ff"/><stop offset="0.06" stop-color="#0000ff"/><stop offset="0.369" stop-color="#0000ff"/><stop offset="0.381" stop-color="#2100ff"/><stop offset="0.405" stop-color="#3a00ff"/><stop offset="0.5" stop-color="#6d00ff"/><stop offset="0.69" stop-color="#a900ff"/><stop offset="1" stop-color="#f100ff"/></linearGradient>
<radialGradient id="sk" cx="0.37" cy="0.33" r="0.31"><stop offset="0" stop-color="#fff"/><stop offset="0.3" stop-color="#e4e4e4"/><stop offset="1" stop-color="#000"/></radialGradient>
<radialGradient id="sb" cx="0.37" cy="0.33" r="0.31"><stop offset="0" stop-color="#fff"/><stop offset="0.3" stop-color="#e6e6ff"/><stop offset="1" stop-color="#0000ff"/></radialGradient>
<circle id="mk" r="7.2" fill="url(#sk)"/>
<circle id="mb" r="7.2" fill="url(#sb)"/>
<radialGradient id="se" cx="0.39" cy="0.32" r="0.2"><stop offset="0" stop-color="#fff"/><stop offset="0.35" stop-color="#ececff"/><stop offset="0.7" stop-color="#8c8cff"/><stop offset="1" stop-color="#0000f8"/></radialGradient>
<circle id="me" r="10.4" fill="url(#se)"/>
<radialGradient id="fg" cx="0.36" cy="0.3" r="0.24"><stop offset="0" stop-color="#fff"/><stop offset="0.4" stop-color="#bfe6bf"/><stop offset="1" stop-color="#008200"/></radialGradient>
<radialGradient id="fk" cx="0.36" cy="0.3" r="0.24"><stop offset="0" stop-color="#fff"/><stop offset="0.4" stop-color="#d8d8d8"/><stop offset="1" stop-color="#424242"/></radialGradient>
<radialGradient id="fc" cx="0.36" cy="0.3" r="0.24"><stop offset="0" stop-color="#fff"/><stop offset="0.4" stop-color="#d0f2f4"/><stop offset="1" stop-color="#04a9ad"/></radialGradient>
<circle id="bg" r="9.1" fill="url(#fg)"/>
<circle id="bk" r="9.1" fill="url(#fk)"/>
<circle id="bc" r="9.1" fill="url(#fc)"/>
<radialGradient id="sh" cx="0.38" cy="0.32" r="0.3"><stop offset="0" stop-color="#fff"/><stop offset="0.35" stop-color="#e0e0e0"/><stop offset="1" stop-color="#000"/></radialGradient>
<circle id="mh" r="6.4" fill="url(#sh)"/>
<clipPath id="ci"><rect x="1693.4" y="1195" width="567.6" height="456.7"/></clipPath>
</defs>
<line x1="160.2" y1="49.5" x2="160.2" y2="514" stroke-width="4.4"/>
<path d="M151.5 500.5L160.2 515L169 500.5" fill="none" stroke="#000" stroke-width="4.6" stroke-linejoin="miter"/>
<path d="M160 306.8L227 304.6" stroke="#000" stroke-width="4" fill="none"/>
<line x1="612" y1="141.2" x2="704.7" y2="141.2" stroke-width="5.2"/>
<rect x="227.7" y="86.3" width="64.4" height="270" fill="#a5d2ff" filter="url(#glow)"/>
<rect x="230.2" y="88.8" width="59.4" height="265" fill="#a9d4b1" stroke="#b5d9c2" stroke-width="1.6"/>
<rect x="421.1" y="86.3" width="126.2" height="356.4" fill="#a5d2ff" filter="url(#glow)"/>
<rect x="423.6" y="88.8" width="121.2" height="351.4" fill="#c6aef0" stroke="#c9c6d8" stroke-width="1.6"/>
<rect x="287.9" y="58.9" width="56.8" height="318" fill="#a5d2ff" filter="url(#glow)"/>
<rect x="290.4" y="61.4" width="51.8" height="313" fill="#a9bde5" stroke="#d0d0d4" stroke-width="1.6"/>
<rect x="341.7" y="86.7" width="82.2" height="324" fill="#a5d2ff" filter="url(#glow)"/>
<rect x="344.2" y="89.2" width="77.2" height="319" fill="#33baf3" stroke="#c2c9cf" stroke-width="1.6"/>
<rect x="543.5" y="112.7" width="68.6" height="407.8" fill="#a5d2ff" filter="url(#glow)"/>
<rect x="546" y="115.2" width="63.6" height="402.8" fill="#b57ff4" stroke="#a9a3b5" stroke-width="1.6"/>
<rect x="456" y="108.5" width="78.5" height="306" fill="#8aabff" filter="url(#glow2)"/>
<rect x="460.3" y="113" width="69.6" height="297" fill="#2710fa" stroke="#4a70c4" stroke-width="0"/>
<rect x="462.2" y="114.9" width="65.8" height="293.2" fill="#2710fa" stroke="#4672c2" stroke-width="3.8"/>
<text x="257" y="75" font-size="28" textLength="45.2" lengthAdjust="spacingAndGlyphs" stroke="#fff" stroke-width="0.45">-2.4</text>
<text x="311.7" y="49" font-size="28" textLength="45.2" lengthAdjust="spacingAndGlyphs" stroke="#fff" stroke-width="0.45">-2.1</text>
<text x="380.5" y="75" font-size="28" textLength="45.2" lengthAdjust="spacingAndGlyphs" stroke="#fff" stroke-width="0.45">-2.4</text>
<text x="478" y="75" font-size="28" textLength="45.2" lengthAdjust="spacingAndGlyphs" stroke="#fff" stroke-width="0.45">-2.4</text>
<text x="573.5" y="101.5" font-size="28" textLength="45.2" lengthAdjust="spacingAndGlyphs" stroke="#fff" stroke-width="0.45">-2.7</text>
<text x="650" y="164.8" font-size="28" textLength="45.2" lengthAdjust="spacingAndGlyphs" stroke="#fff" stroke-width="0.45">-2.9</text>
<text x="188.2" y="332.5" font-size="28" textLength="45.2" lengthAdjust="spacingAndGlyphs" stroke="#fff" stroke-width="0.45">-4.7</text>
<text x="251.5" y="384" font-size="28" textLength="45.2" lengthAdjust="spacingAndGlyphs" stroke="#fff" stroke-width="0.45">-5.2</text>
<text x="314.5" y="405.2" font-size="28" textLength="45.2" lengthAdjust="spacingAndGlyphs" stroke="#fff" stroke-width="0.45">-5.4</text>
<text x="379.3" y="440" font-size="28" textLength="45.2" lengthAdjust="spacingAndGlyphs" stroke="#fff" stroke-width="0.45">-5.7</text>
<text x="484.7" y="480.8" font-size="28" textLength="45.2" lengthAdjust="spacingAndGlyphs" stroke="#fff" stroke-width="0.45">-6.0</text>
<text x="574" y="547.6" font-size="28" textLength="45.2" lengthAdjust="spacingAndGlyphs" stroke="#fff" stroke-width="0.45">-6.7</text>
<text x="190.4" y="294.2" font-size="30" textLength="44.5" lengthAdjust="spacingAndGlyphs" stroke="#fff" stroke-width="0.45">ITO</text>
<text x="651.6" y="128.6" font-size="27" textLength="73.6" lengthAdjust="spacingAndGlyphs" stroke="#fff" stroke-width="0.45">LiF/Al</text>
<text x="142.2" y="310.8" font-size="33.5" transform="rotate(-90 142.2 310.8)" textLength="262" lengthAdjust="spacingAndGlyphs" stroke="#fff" stroke-width="0.8">Energy level (eV)</text>
<text x="272.3" y="220.6" font-size="34.6" fill="#f7fcf7" transform="rotate(-90 272.3 220.6)" textLength="184" lengthAdjust="spacingAndGlyphs">PEDOT:PSS</text>
<text x="329.6" y="232" font-size="35" fill="#f8f9fe" transform="rotate(-90 329.6 232)" textLength="62.6" lengthAdjust="spacingAndGlyphs">TFB</text>
<text x="393.8" y="261.6" font-size="35" fill="#ffffff" transform="rotate(-90 393.8 261.6)" textLength="85.7" lengthAdjust="spacingAndGlyphs">TCTA</text>
<text x="450.8" y="265" font-size="35" fill="#f8f3fe" transform="rotate(-90 450.8 265)" textLength="69" lengthAdjust="spacingAndGlyphs">CzSi</text>
<text x="510.6" y="262.7" font-size="35" fill="#ffffff" transform="rotate(-90 510.6 262.7)" textLength="131.3" lengthAdjust="spacingAndGlyphs">DB-CQG</text>
<text x="590.2" y="316.4" font-size="35" fill="#faf4ff" transform="rotate(-90 590.2 316.4)" textLength="134" lengthAdjust="spacingAndGlyphs">TmPyPB</text>
<text x="14.2" y="48.4" font-size="58.5" text-anchor="start" font-family='"Liberation Serif", serif'>(a)</text>
<text x="811.5" y="48.4" font-size="58.5" text-anchor="start" font-family='"Liberation Serif", serif'>(b)</text>
<text x="1549.5" y="48.4" font-size="58.5" text-anchor="start" font-family='"Liberation Serif", serif'>(c)</text>
<text x="14.2" y="602" font-size="58.5" text-anchor="start" font-family='"Liberation Serif", serif'>(d)</text>
<text x="811.5" y="602" font-size="58.5" text-anchor="start" font-family='"Liberation Serif", serif'>(e)</text>
<text x="1549.5" y="602" font-size="58.5" text-anchor="start" font-family='"Liberation Serif", serif'>(f)</text>
<text x="15.5" y="1167.4" font-size="55.5" text-anchor="start" font-family='"Liberation Serif", serif' textLength="67.3" lengthAdjust="spacingAndGlyphs">(g)</text>
<text x="811.5" y="1167.4" font-size="55.5" text-anchor="start" font-family='"Liberation Serif", serif' textLength="70.5" lengthAdjust="spacingAndGlyphs">(h)</text>
<text x="1550.5" y="1167.4" font-size="55.5" text-anchor="start" font-family='"Liberation Serif", serif' textLength="54.5" lengthAdjust="spacingAndGlyphs">(i)</text>
<path d="M936.3 513.7L937.6 513.4L939 514.3L940.3 513.3L941.7 514.1L943 513.8L944.4 513.2L945.7 514.1L947.1 513.2L948.4 513.9L949.7 513.3L951.1 513.3L952.4 513.9L953.8 514.6L955.1 513.4L956.5 513.5L957.8 514.3L959.2 514.8L960.5 514.2L961.9 513.9L963.2 514.9L964.5 513.2L965.9 514.7L967.2 513.7L968.6 513.4L969.9 513.3L971.3 513.7L972.6 514.6L974 513.5L975.3 514.2L976.6 514.3L978 513.8L979.3 514.1L980.7 513.2L982 513.2L983.4 513.5L984.7 514.3L986.1 513.9L987.4 513.7L988.7 514.1L990.1 513.9L991.4 513.6L992.8 514.5L994.1 514.3L995.5 513.4L996.8 514L998.2 513.9L999.5 514.5L1000.8 514.2L1002.2 513.4L1003.5 514.7L1004.9 513.1L1006.2 513.6L1007.6 514.2L1008.9 513.1L1010.3 513.7L1011.6 512.9L1013 514L1014.3 514.1L1015.6 513.8L1017 514.3L1018.3 513.3L1019.7 513.9L1021 513.7L1022.4 513.7L1023.7 513.4L1025.1 514.1L1026.4 514.2L1027.7 513.3L1029.1 513.6L1030.4 512.5L1031.8 513.5L1033.1 513.2L1034.5 513.6L1035.8 513L1037.2 511.6L1038.5 511.4L1039.8 511.4L1041.2 509.6L1042.5 509.7L1043.9 508.6L1045.2 507.7L1046.6 506.9L1047.9 507.4L1049.3 505.5L1050.6 504.9L1051.9 504.3L1053.3 504.4L1054.6 502.3L1056 502.5L1057.3 502.3L1058.7 502.7L1060 502.5L1061.4 502.5L1062.7 501.5L1064.1 501.9L1065.4 502L1066.7 503.2L1068.1 503.7L1069.4 502.6L1070.8 503L1072.1 503.4L1073.5 503.7L1074.8 504.5L1076.2 505L1077.5 504.7L1078.8 504.5L1080.2 505.5L1081.5 505.6L1082.9 506.1L1084.2 507L1085.6 506.7L1086.9 506.5L1088.3 506.9L1089.6 507.2L1090.9 506.3L1092.3 508L1093.6 508L1095 508.4L1096.3 508.4L1097.7 507.9L1099 508.2L1100.4 507.9L1101.7 509.1L1103.1 508.4L1104.4 508.6L1105.7 509.1L1107.1 509.3L1108.4 509.9L1109.8 509.6L1111.1 509.7L1112.5 510.2L1113.8 510.3L1115.2 511L1116.5 510.5L1117.8 512.2L1119.2 511.9L1120.5 511.1L1121.9 511.4L1123.2 511.6L1124.6 511.8L1125.9 511.4L1127.3 512.7L1128.6 513L1129.9 512.1L1131.3 512.1L1132.6 511.4L1134 511.5L1135.3 512L1136.7 511.8L1138 512.9L1139.4 511.7L1140.7 511.4L1142 513.1L1143.4 512.4L1144.7 511.7L1146.1 512.5L1147.4 511.6L1148.8 512.5L1150.1 513.4L1151.5 513.2L1152.8 512.9L1154.2 512.2L1155.5 512.4L1156.8 512.1L1158.2 513.2L1159.5 512.9L1160.9 513.4L1162.2 512.6L1163.6 512.4L1164.9 513.5L1166.3 513.9L1167.6 513.7L1168.9 513.6L1170.3 513.7L1171.6 513.6L1173 512.7L1174.3 513.2L1175.7 512.9L1177 512.4L1178.4 512.4L1179.7 512.9L1181 512.9L1182.4 513.7L1183.7 514.2L1185.1 513.3L1186.4 514.2L1187.8 514.3L1189.1 514.2L1190.5 513.2L1191.8 513L1193.1 513L1194.5 512.9L1195.8 513L1197.2 513.7L1198.5 514.3L1199.9 514.2L1201.2 513.5L1202.6 513.9L1203.9 514.1L1205.3 512.9L1206.6 513.9L1207.9 514.4L1209.3 514.1L1210.6 514.1L1212 513.6L1213.3 513.1L1214.7 514.2L1216 513.4L1217.4 514.2L1218.7 514.5L1220 513.5L1221.4 513.5L1222.7 514.5L1224.1 514.1L1225.4 513.1L1226.8 513.1L1228.1 513.1L1229.5 514.5L1230.8 514.3L1232.1 513.1L1233.5 514.4L1234.8 514.6L1236.2 514.1L1237.5 513.5L1238.9 513.9L1240.2 513.1L1241.6 512.9L1242.9 514.6L1244.3 514.1L1245.6 513.8L1246.9 514.6L1248.3 513.7L1249.6 514.5L1251 514.4L1252.3 513.3L1253.7 513.4L1255 513.5L1256.4 513.4L1257.7 514L1259 513.4L1260.4 513.7L1261.7 513.2L1263.1 514.6L1264.4 513.6L1265.8 513.8L1267.1 514L1268.5 514.6L1269.8 513.7L1271.1 514.6L1272.5 513.9L1273.8 513.9L1275.2 513.9L1276.5 513L1277.9 513.8L1279.2 513.3L1280.6 513L1281.9 514.4L1283.2 513.3L1284.6 513.8L1285.9 514.3L1287.3 514L1288.6 513.5L1290 513.9L1291.3 514L1292.7 514.4L1294 513.1L1295.4 514L1296.7 513.4L1298 513.4L1299.4 514.3L1300.7 513.9L1302.1 514L1303.4 514.3L1304.8 514.6L1306.1 513.7L1307.5 514L1308.8 513.8L1310.1 513.9L1311.5 514.2L1312.8 513.8L1314.2 513.9L1315.5 513.8L1316.9 514.6L1318.2 514.2L1319.6 514.5L1320.9 514.7L1322.2 513.4L1323.6 514L1324.9 514.7L1326.3 514.5L1327.6 513.2L1329 513.2L1330.3 513.8L1331.7 513.1L1333 513.4L1334.3 513.1L1335.7 514.2L1337 514.4L1338.4 514.6L1339.7 513.3L1341.1 514.3L1342.4 514.2L1343.8 513.3L1345.1 514.6L1346.5 514.8L1347.8 513.4L1349.1 514.7L1350.5 513.7L1351.8 513.9L1353.2 514.8L1354.5 514.5L1355.9 513.3L1357.2 513.8L1358.6 514L1359.9 513.7L1361.2 513.4L1362.6 513.6L1363.9 514.3L1365.3 513.1L1366.6 514L1368 513.8L1369.3 513.1L1370.7 513.7L1372 514.2L1373.3 514L1374.7 513.2L1376 514.8L1377.4 514.5L1378.7 514.8L1380.1 513.2L1381.4 513.5L1382.8 513.1L1384.1 514.5L1385.5 513.5L1386.8 513.3L1388.1 513.8L1389.5 514.7L1390.8 514.5L1392.2 513.5L1393.5 513.3L1394.9 514.7L1396.2 514.1L1397.6 514.3L1398.9 513.2L1400.2 513.1L1401.6 514.3L1402.9 513.8L1404.3 513.2L1405.6 514.7L1407 514.2L1408.3 514.5L1409.7 513.2L1411 514.6L1412.3 513.2L1413.7 514.6L1415 513.9L1416.4 513.7L1417.7 514.1L1419.1 514.7L1420.4 513.6L1421.8 513.3L1423.1 514L1424.4 513.5L1425.8 513.3L1427.1 513.4L1428.5 513.2L1429.8 513.5L1431.2 513.7L1432.5 513.7L1433.9 514.5L1435.2 513.6L1436.6 514L1437.9 513.4L1439.2 513.7L1440.6 513.1L1441.9 513.6L1443.3 513.1L1444.6 514.4L1446 514.1L1447.3 513.5L1448.7 514L1450 514.8L1451.3 513.3L1452.7 514.6L1454 513.9L1455.4 514L1456.7 514.6L1458.1 513.8L1459.4 514L1460.8 514.4L1462.1 514.9L1463.4 513.7L1464.8 514.6L1466.1 514.4L1467.5 514.3L1468.8 513.9L1470.2 513.8L1471.5 513.2L1472.9 513.4L1474.2 513.3L1475.5 514.5L1476.9 513.6L1478.2 513.4L1479.6 513.3L1480.9 514.6L1482.3 514.7L1483.6 514.3L1485 513.6L1486.3 513.6L1487.7 513.7L1489 514L1490.3 513.4L1491.7 513.9L1493 513.6L1494.4 514.9L1495.7 514.9L1497.1 514.1L1498.4 513.6L1499.8 514.9L1501.1 513.7" fill="none" stroke="#dde0fb" stroke-width="4.8" stroke-linejoin="round"/>
<path d="M936.3 513.8L937.6 513.1L939 513.8L940.3 514L941.7 514L943 513.5L944.4 514L945.7 513.1L947.1 513.6L948.4 513.3L949.7 513.8L951.1 513.2L952.4 513.2L953.8 513.7L955.1 513.5L956.5 514.2L957.8 514.1L959.2 514.5L960.5 514.3L961.9 514.4L963.2 514.7L964.5 513.8L965.9 513.7L967.2 514.8L968.6 513.3L969.9 514.4L971.3 514.2L972.6 513.1L974 514.5L975.3 514.6L976.6 514.1L978 514.3L979.3 514.5L980.7 513.2L982 513.9L983.4 513.8L984.7 514.4L986.1 514.3L987.4 514.3L988.7 513.7L990.1 514.2L991.4 513.7L992.8 513.6L994.1 512.7L995.5 512.2L996.8 512.2L998.2 512.5L999.5 511.9L1000.8 513.1L1002.2 512.5L1003.5 512.5L1004.9 512.4L1006.2 512.4L1007.6 511.9L1008.9 510.9L1010.3 512.2L1011.6 512L1013 511.4L1014.3 511.3L1015.6 511.4L1017 510.2L1018.3 511.3L1019.7 510.3L1021 509.8L1022.4 510.1L1023.7 510.7L1025.1 509.4L1026.4 510.1L1027.7 510.2L1029.1 509L1030.4 508.3L1031.8 507.8L1033.1 506.5L1034.5 504.9L1035.8 502.1L1037.2 499L1038.5 494.5L1039.8 490.7L1041.2 485.8L1042.5 481.1L1043.9 475.8L1045.2 470.7L1046.6 464.1L1047.9 458.3L1049.3 452.4L1050.6 446.9L1051.9 440.7L1053.3 434.4L1054.6 428.9L1056 425.4L1057.3 422.5L1058.7 421L1060 419.3L1061.4 420.6L1062.7 419.9L1064.1 422.1L1065.4 423.9L1066.7 424.3L1068.1 427.6L1069.4 431.1L1070.8 434.2L1072.1 435.6L1073.5 437.7L1074.8 440L1076.2 443.5L1077.5 444.3L1078.8 447L1080.2 448.1L1081.5 450.4L1082.9 452.7L1084.2 452.7L1085.6 455.2L1086.9 455.8L1088.3 457.7L1089.6 458.8L1090.9 459.5L1092.3 462.3L1093.6 463.1L1095 464L1096.3 465.6L1097.7 468.2L1099 470.1L1100.4 471.8L1101.7 473.4L1103.1 475.8L1104.4 477.8L1105.7 480.8L1107.1 481.2L1108.4 484.4L1109.8 486.3L1111.1 486.9L1112.5 489.9L1113.8 491.1L1115.2 493L1116.5 493L1117.8 494.2L1119.2 495.3L1120.5 497.2L1121.9 497.1L1123.2 497.4L1124.6 498.1L1125.9 498.1L1127.3 498L1128.6 498.4L1129.9 500L1131.3 499.2L1132.6 500.5L1134 499.4L1135.3 499.6L1136.7 500.2L1138 499.8L1139.4 500.2L1140.7 501.3L1142 501.3L1143.4 501.3L1144.7 501.2L1146.1 502L1147.4 502.3L1148.8 501.9L1150.1 502.5L1151.5 501.6L1152.8 503.1L1154.2 503L1155.5 503.8L1156.8 504L1158.2 503.7L1159.5 503.6L1160.9 505.6L1162.2 504.5L1163.6 505.4L1164.9 505.4L1166.3 505.5L1167.6 506.6L1168.9 507.3L1170.3 506.2L1171.6 507.2L1173 506.7L1174.3 507.4L1175.7 507.3L1177 507.1L1178.4 507.3L1179.7 507.6L1181 509.1L1182.4 508.5L1183.7 508.1L1185.1 509.5L1186.4 509.9L1187.8 509L1189.1 508.6L1190.5 508.9L1191.8 508.8L1193.1 509.4L1194.5 509L1195.8 509.4L1197.2 509.6L1198.5 510.3L1199.9 510.9L1201.2 510.8L1202.6 510.3L1203.9 510.4L1205.3 510.6L1206.6 510.5L1207.9 510.5L1209.3 510L1210.6 510.5L1212 511.8L1213.3 510.4L1214.7 511.2L1216 511.5L1217.4 511.9L1218.7 510.8L1220 511L1221.4 511L1222.7 511.3L1224.1 511.4L1225.4 512.4L1226.8 512.2L1228.1 512.3L1229.5 510.9L1230.8 510.9L1232.1 512.2L1233.5 512.6L1234.8 511.9L1236.2 512.1L1237.5 511.1L1238.9 511.8L1240.2 512.8L1241.6 512.6L1242.9 512.7L1244.3 513L1245.6 511.7L1246.9 511.5L1248.3 511.6L1249.6 512.3L1251 512.6L1252.3 513.1L1253.7 512.7L1255 512.6L1256.4 512.9L1257.7 512.3L1259 512.5L1260.4 511.6L1261.7 513L1263.1 512L1264.4 513.3L1265.8 512.8L1267.1 512.2L1268.5 511.9L1269.8 512.1L1271.1 512.8L1272.5 513L1273.8 511.9L1275.2 511.9L1276.5 512.7L1277.9 512.8L1279.2 512.5L1280.6 512.2L1281.9 512.9L1283.2 511.8L1284.6 512.3L1285.9 512.6L1287.3 513.5L1288.6 512.9L1290 513.3L1291.3 512.5L1292.7 512.1L1294 512.1L1295.4 513.4L1296.7 512.9L1298 512.2L1299.4 511.6L1300.7 512.5L1302.1 512.8L1303.4 512.3L1304.8 512L1306.1 512.7L1307.5 513.2L1308.8 511.9L1310.1 511.6L1311.5 512.1L1312.8 512.3L1314.2 512.8L1315.5 512L1316.9 513.1L1318.2 513L1319.6 512.6L1320.9 512.1L1322.2 513.5L1323.6 512.4L1324.9 513.3L1326.3 512.3L1327.6 512.3L1329 513.3L1330.3 512.5L1331.7 513.7L1333 512.9L1334.3 512.4L1335.7 512.5L1337 512.9L1338.4 513.4L1339.7 513.9L1341.1 512.4L1342.4 512.9L1343.8 512.6L1345.1 514L1346.5 512.5L1347.8 512.3L1349.1 512.4L1350.5 513L1351.8 513.9L1353.2 513.9L1354.5 513.6L1355.9 514.1L1357.2 514L1358.6 512.9L1359.9 512.7L1361.2 514L1362.6 513.7L1363.9 512.4L1365.3 513.6L1366.6 513.1L1368 513.1L1369.3 513L1370.7 512.8L1372 512.5L1373.3 513L1374.7 513.1L1376 514.2L1377.4 512.7L1378.7 514.2L1380.1 512.8L1381.4 513.1L1382.8 513.9L1384.1 513.9L1385.5 513.2L1386.8 512.5L1388.1 513.2L1389.5 513.1L1390.8 514L1392.2 512.7L1393.5 513L1394.9 514L1396.2 512.4L1397.6 513.1L1398.9 513.8L1400.2 513.7L1401.6 512.4L1402.9 512.4L1404.3 512.5L1405.6 514L1407 512.9L1408.3 513.8L1409.7 514.1L1411 513.1L1412.3 513L1413.7 514.2L1415 513.6L1416.4 513L1417.7 513.9L1419.1 513.2L1420.4 513.1L1421.8 512.7L1423.1 514L1424.4 514.3L1425.8 513.9L1427.1 514.4L1428.5 512.8L1429.8 513.2L1431.2 513.7L1432.5 514.5L1433.9 514.5L1435.2 513.5L1436.6 513.3L1437.9 513.6L1439.2 513.7L1440.6 514.5L1441.9 513.2L1443.3 514.3L1444.6 514.2L1446 514.4L1447.3 514.3L1448.7 514L1450 513.5L1451.3 513.5L1452.7 513.6L1454 514.3L1455.4 513.1L1456.7 513.3L1458.1 514.3L1459.4 513.4L1460.8 513.1L1462.1 513L1463.4 514L1464.8 513.6L1466.1 514.7L1467.5 514.6L1468.8 514.8L1470.2 513.5L1471.5 513.1L1472.9 513.2L1474.2 513.9L1475.5 514.3L1476.9 513.8L1478.2 513.4L1479.6 513.8L1480.9 514.1L1482.3 514.2L1483.6 514.4L1485 514.5L1486.3 514.2L1487.7 513.2L1489 514.5L1490.3 513.6L1491.7 514.1L1493 513.7L1494.4 514.4L1495.7 513.4L1497.1 513.5L1498.4 513.5L1499.8 513.3L1501.1 514.7" fill="none" stroke="#b6bffb" stroke-width="4.8" stroke-linejoin="round"/>
<path d="M936.3 514.2L937.6 513.7L939 513.8L940.3 514.9L941.7 514L943 513.5L944.4 514.6L945.7 514.3L947.1 514.9L948.4 513.3L949.7 513.9L951.1 514.5L952.4 514.6L953.8 514.7L955.1 513.1L956.5 513.6L957.8 513.2L959.2 513.4L960.5 514.8L961.9 514L963.2 514.6L964.5 513.6L965.9 514.5L967.2 513.7L968.6 513.3L969.9 514.2L971.3 514.5L972.6 512.9L974 513.8L975.3 513.8L976.6 513L978 513.3L979.3 512.8L980.7 512.9L982 512.8L983.4 513.4L984.7 513.4L986.1 512.4L987.4 511.8L988.7 512L990.1 512.2L991.4 510.9L992.8 510.8L994.1 510.2L995.5 510.8L996.8 509.9L998.2 508.6L999.5 508.2L1000.8 508.3L1002.2 508.1L1003.5 507.8L1004.9 506.4L1006.2 506L1007.6 506.5L1008.9 505.5L1010.3 504.8L1011.6 504.4L1013 505.1L1014.3 503.4L1015.6 503.4L1017 502.6L1018.3 502.2L1019.7 502.5L1021 502.3L1022.4 500.7L1023.7 499.6L1025.1 499.4L1026.4 497.3L1027.7 495.8L1029.1 496.3L1030.4 493.5L1031.8 491.8L1033.1 487.6L1034.5 484.7L1035.8 478.2L1037.2 470.8L1038.5 463.3L1039.8 456L1041.2 445.7L1042.5 435.1L1043.9 423.8L1045.2 411.5L1046.6 397.8L1047.9 384.2L1049.3 368.8L1050.6 354.4L1051.9 340L1053.3 326L1054.6 313.1L1056 304.5L1057.3 298.5L1058.7 295.2L1060 291.4L1061.4 291L1062.7 293.8L1064.1 295.7L1065.4 299.2L1066.7 303.2L1068.1 310.9L1069.4 316.6L1070.8 324.1L1072.1 329.2L1073.5 335.3L1074.8 339.8L1076.2 346.1L1077.5 350L1078.8 355.2L1080.2 360.5L1081.5 364.1L1082.9 366.7L1084.2 370.2L1085.6 373.4L1086.9 376.4L1088.3 379L1089.6 382L1090.9 385.9L1092.3 390.5L1093.6 394.5L1095 397L1096.3 401.9L1097.7 406.3L1099 409.6L1100.4 415.7L1101.7 419L1103.1 424.6L1104.4 429.4L1105.7 434.3L1107.1 438.3L1108.4 442.8L1109.8 447.3L1111.1 451.3L1112.5 455.4L1113.8 458.7L1115.2 462.4L1116.5 464.5L1117.8 468L1119.2 470.2L1120.5 471.7L1121.9 474.2L1123.2 475.8L1124.6 476.7L1125.9 476.9L1127.3 478.1L1128.6 478.1L1129.9 478.8L1131.3 479.7L1132.6 479.5L1134 480.5L1135.3 481L1136.7 480.5L1138 481.9L1139.4 481.1L1140.7 482.5L1142 482.8L1143.4 482.6L1144.7 482.4L1146.1 483.8L1147.4 484.2L1148.8 485.9L1150.1 485.2L1151.5 487.2L1152.8 488.2L1154.2 488.5L1155.5 489.4L1156.8 489.1L1158.2 491.4L1159.5 491.4L1160.9 493L1162.2 493.8L1163.6 493L1164.9 494.8L1166.3 495.6L1167.6 494.6L1168.9 495.7L1170.3 497.1L1171.6 496.5L1173 498.4L1174.3 497.7L1175.7 499.2L1177 498.5L1178.4 499.7L1179.7 500.9L1181 500L1182.4 500.5L1183.7 501.3L1185.1 501.3L1186.4 501.2L1187.8 501.8L1189.1 502.2L1190.5 503.9L1191.8 503.8L1193.1 504.4L1194.5 503.4L1195.8 504.8L1197.2 503.8L1198.5 504.8L1199.9 505.3L1201.2 505.1L1202.6 506.2L1203.9 505.8L1205.3 506L1206.6 506.8L1207.9 505.6L1209.3 507.3L1210.6 506.9L1212 506.6L1213.3 507.5L1214.7 506.8L1216 508.3L1217.4 507.6L1218.7 507.4L1220 508.2L1221.4 507.7L1222.7 507.4L1224.1 508.5L1225.4 507.4L1226.8 508.9L1228.1 508L1229.5 508.8L1230.8 509.5L1232.1 508.9L1233.5 509.2L1234.8 508.7L1236.2 508.2L1237.5 508.3L1238.9 508.6L1240.2 509.5L1241.6 509.2L1242.9 509.5L1244.3 510.2L1245.6 508.9L1246.9 509.2L1248.3 510L1249.6 508.9L1251 509L1252.3 509.7L1253.7 509.3L1255 509.8L1256.4 509.7L1257.7 510.3L1259 510.4L1260.4 509.7L1261.7 510.5L1263.1 510.3L1264.4 509.7L1265.8 511.2L1267.1 510L1268.5 509.9L1269.8 509.8L1271.1 510.9L1272.5 511.3L1273.8 511.2L1275.2 510.6L1276.5 510.4L1277.9 509.9L1279.2 511.1L1280.6 511L1281.9 510.6L1283.2 511.1L1284.6 510.7L1285.9 511.5L1287.3 511.1L1288.6 510.2L1290 511.4L1291.3 509.8L1292.7 510.6L1294 510.4L1295.4 510L1296.7 509.7L1298 510.9L1299.4 509.5L1300.7 510.4L1302.1 511.1L1303.4 509.6L1304.8 509.7L1306.1 510.4L1307.5 510.2L1308.8 510.4L1310.1 510.7L1311.5 509.7L1312.8 510L1314.2 510L1315.5 509.7L1316.9 511.2L1318.2 511.1L1319.6 511.1L1320.9 509.9L1322.2 511.5L1323.6 511.3L1324.9 510.9L1326.3 511.5L1327.6 511L1329 510.7L1330.3 510.6L1331.7 510.9L1333 510.6L1334.3 511.2L1335.7 512L1337 512L1338.4 512.3L1339.7 512.1L1341.1 511.3L1342.4 511.9L1343.8 511.7L1345.1 512.4L1346.5 511.9L1347.8 511.5L1349.1 512.2L1350.5 512.8L1351.8 511.5L1353.2 512.7L1354.5 511.2L1355.9 511.7L1357.2 511.6L1358.6 512.6L1359.9 513L1361.2 512.6L1362.6 511.9L1363.9 512.9L1365.3 512L1366.6 511.8L1368 513.1L1369.3 512.6L1370.7 512.8L1372 512.7L1373.3 513.3L1374.7 512.4L1376 513.1L1377.4 512.8L1378.7 513L1380.1 512.3L1381.4 512.8L1382.8 512.5L1384.1 512L1385.5 511.8L1386.8 512.5L1388.1 511.5L1389.5 513L1390.8 511.6L1392.2 511.4L1393.5 511.5L1394.9 513L1396.2 511.9L1397.6 511.5L1398.9 511.3L1400.2 511.3L1401.6 512.4L1402.9 512.3L1404.3 512.5L1405.6 512.6L1407 511.5L1408.3 512.5L1409.7 512.1L1411 513L1412.3 513.1L1413.7 513.3L1415 511.8L1416.4 513.3L1417.7 513.5L1419.1 513.6L1420.4 512.1L1421.8 512.3L1423.1 512.2L1424.4 512.2L1425.8 513.7L1427.1 513.7L1428.5 513.4L1429.8 513.8L1431.2 513.5L1432.5 512.9L1433.9 512.6L1435.2 512.6L1436.6 513.8L1437.9 512.8L1439.2 513L1440.6 513.2L1441.9 512.5L1443.3 513L1444.6 513L1446 513.8L1447.3 513.2L1448.7 513.1L1450 514.3L1451.3 513.5L1452.7 514.1L1454 513.7L1455.4 512.7L1456.7 513.4L1458.1 513.4L1459.4 514.1L1460.8 513.3L1462.1 514L1463.4 513.7L1464.8 513.1L1466.1 514.3L1467.5 512.9L1468.8 514.2L1470.2 513.1L1471.5 512.8L1472.9 513.1L1474.2 514.2L1475.5 514.6L1476.9 512.8L1478.2 513.7L1479.6 513.7L1480.9 514.3L1482.3 513.2L1483.6 513.7L1485 513.5L1486.3 514.4L1487.7 513.3L1489 514.6L1490.3 513.4L1491.7 513.3L1493 514.2L1494.4 513.8L1495.7 513.1L1497.1 514.1L1498.4 513.1L1499.8 514.4L1501.1 514.2" fill="none" stroke="#586cf6" stroke-width="4.8" stroke-linejoin="round"/>
<path d="M936.3 513.9L937.6 513.6L939 513.1L940.3 513.2L941.7 513.2L943 514L944.4 512.6L945.7 514L947.1 512.4L948.4 512.7L949.7 512.8L951.1 513.9L952.4 513.2L953.8 513L955.1 513.9L956.5 512.7L957.8 513.1L959.2 513.2L960.5 513.6L961.9 513.5L963.2 513.2L964.5 512.6L965.9 512.5L967.2 512.1L968.6 513.3L969.9 512.9L971.3 512.9L972.6 511.8L974 512.2L975.3 512.7L976.6 512.3L978 511.4L979.3 511.9L980.7 512.4L982 511L983.4 510.6L984.7 510.6L986.1 511L987.4 510.5L988.7 508.2L990.1 507.2L991.4 506.3L992.8 505.5L994.1 504.8L995.5 503.1L996.8 502.2L998.2 500.8L999.5 501L1000.8 499.4L1002.2 497.1L1003.5 497.4L1004.9 494.7L1006.2 493.9L1007.6 493.8L1008.9 492.2L1010.3 490.8L1011.6 489L1013 487.3L1014.3 486.9L1015.6 484.7L1017 483.6L1018.3 482.7L1019.7 480.9L1021 480.3L1022.4 479.8L1023.7 477.5L1025.1 474.1L1026.4 471.4L1027.7 468.1L1029.1 464.5L1030.4 460.3L1031.8 454.2L1033.1 448.9L1034.5 443.4L1035.8 432.8L1037.2 421.6L1038.5 410.6L1039.8 397.5L1041.2 381.5L1042.5 366.7L1043.9 350.9L1045.2 326.5L1046.6 302.1L1047.9 277.2L1049.3 250L1050.6 223L1051.9 195.8L1053.3 168.6L1054.6 148.2L1056 130.4L1057.3 118.9L1058.7 113.2L1060 108.5L1061.4 107.9L1062.7 109.6L1064.1 113.4L1065.4 121.4L1066.7 130.4L1068.1 141.2L1069.4 153.8L1070.8 166.2L1072.1 175.2L1073.5 186.4L1074.8 197L1076.2 205.8L1077.5 215L1078.8 224.8L1080.2 231.2L1081.5 238.9L1082.9 244.9L1084.2 252.5L1085.6 257.9L1086.9 262.3L1088.3 266.8L1089.6 273.9L1090.9 280.6L1092.3 287.6L1093.6 294.1L1095 301.6L1096.3 309.2L1097.7 316L1099 324.2L1100.4 333.6L1101.7 340.7L1103.1 350.3L1104.4 358.5L1105.7 368L1107.1 375.2L1108.4 384.5L1109.8 391.2L1111.1 398.4L1112.5 405.6L1113.8 412.5L1115.2 418.6L1116.5 424.4L1117.8 428.9L1119.2 433.9L1120.5 436.8L1121.9 439.5L1123.2 442.2L1124.6 445.8L1125.9 447.4L1127.3 448L1128.6 448.7L1129.9 450.9L1131.3 450.9L1132.6 451.2L1134 451.7L1135.3 453.6L1136.7 454.3L1138 454.5L1139.4 454.6L1140.7 455.3L1142 455.1L1143.4 456.9L1144.7 456.9L1146.1 458.5L1147.4 459.9L1148.8 461.2L1150.1 461.9L1151.5 463L1152.8 464.8L1154.2 465.3L1155.5 468L1156.8 468.7L1158.2 471.2L1159.5 471.7L1160.9 473.4L1162.2 474.7L1163.6 476.1L1164.9 476.7L1166.3 477.5L1167.6 479.8L1168.9 480.1L1170.3 481.1L1171.6 482.3L1173 483.5L1174.3 484.3L1175.7 485.6L1177 486.6L1178.4 486.9L1179.7 488.9L1181 489.5L1182.4 488.7L1183.7 490.8L1185.1 491.6L1186.4 492L1187.8 491.6L1189.1 493.5L1190.5 493.8L1191.8 493.2L1193.1 493.7L1194.5 495.9L1195.8 495.8L1197.2 495.6L1198.5 495.8L1199.9 496.4L1201.2 497.1L1202.6 498.4L1203.9 498L1205.3 498L1206.6 499.7L1207.9 499.8L1209.3 499L1210.6 500.6L1212 500.5L1213.3 501.1L1214.7 501.2L1216 502L1217.4 502L1218.7 502.3L1220 501.4L1221.4 502.5L1222.7 502.4L1224.1 503L1225.4 502.7L1226.8 503.7L1228.1 503.3L1229.5 503L1230.8 503.2L1232.1 503.2L1233.5 504.1L1234.8 503.4L1236.2 504.3L1237.5 503.9L1238.9 504.6L1240.2 504.8L1241.6 505L1242.9 505.7L1244.3 504.3L1245.6 505.9L1246.9 505.4L1248.3 505.7L1249.6 506L1251 506.4L1252.3 505.7L1253.7 506L1255 507.1L1256.4 505.6L1257.7 506.7L1259 506.7L1260.4 505.7L1261.7 506.8L1263.1 507L1264.4 507.6L1265.8 506.6L1267.1 507.8L1268.5 507L1269.8 507.1L1271.1 507.9L1272.5 506.4L1273.8 507.7L1275.2 507.6L1276.5 507.2L1277.9 508.2L1279.2 507.4L1280.6 507.7L1281.9 507.7L1283.2 508.1L1284.6 507L1285.9 507.3L1287.3 507.2L1288.6 507.4L1290 507.8L1291.3 506.8L1292.7 507.7L1294 506.9L1295.4 507L1296.7 506.5L1298 506.8L1299.4 507.6L1300.7 507L1302.1 507.2L1303.4 506.3L1304.8 506.2L1306.1 506.1L1307.5 506.5L1308.8 506.5L1310.1 506.9L1311.5 505.7L1312.8 507L1314.2 507.5L1315.5 507L1316.9 506.2L1318.2 506.8L1319.6 506.4L1320.9 506.9L1322.2 508.3L1323.6 507.9L1324.9 508.1L1326.3 508.5L1327.6 508.9L1329 508.5L1330.3 508.6L1331.7 508.8L1333 509L1334.3 509L1335.7 509.3L1337 508.5L1338.4 509.5L1339.7 509.1L1341.1 509.7L1342.4 508.6L1343.8 508.8L1345.1 508.6L1346.5 510L1347.8 510.3L1349.1 509.9L1350.5 509.4L1351.8 510.3L1353.2 510.3L1354.5 509.9L1355.9 509.4L1357.2 509.6L1358.6 509.8L1359.9 509.7L1361.2 510L1362.6 510.4L1363.9 511L1365.3 509.4L1366.6 510.4L1368 509.5L1369.3 509.7L1370.7 511L1372 510.6L1373.3 511.3L1374.7 510.5L1376 509.6L1377.4 510.3L1378.7 510.6L1380.1 511.2L1381.4 511.2L1382.8 510.3L1384.1 510.2L1385.5 509.6L1386.8 510.5L1388.1 509.7L1389.5 509.6L1390.8 509.3L1392.2 509.2L1393.5 510.4L1394.9 509.4L1396.2 510.9L1397.6 509.2L1398.9 510.6L1400.2 509.2L1401.6 509L1402.9 510.3L1404.3 509.5L1405.6 510.5L1407 509.6L1408.3 509.5L1409.7 510.9L1411 510.9L1412.3 511.2L1413.7 511.1L1415 510.1L1416.4 511.1L1417.7 511.4L1419.1 511L1420.4 512L1421.8 510.9L1423.1 512.3L1424.4 511.9L1425.8 510.7L1427.1 510.8L1428.5 512.1L1429.8 512.5L1431.2 511.3L1432.5 511.7L1433.9 512.5L1435.2 511.5L1436.6 512.8L1437.9 512.1L1439.2 511.4L1440.6 512L1441.9 512.4L1443.3 512.1L1444.6 512.6L1446 511.7L1447.3 512.9L1448.7 512.1L1450 512.7L1451.3 512.7L1452.7 512.3L1454 512.3L1455.4 513L1456.7 513.3L1458.1 513.1L1459.4 512.7L1460.8 512.2L1462.1 511.8L1463.4 513.5L1464.8 513.1L1466.1 513.3L1467.5 512.4L1468.8 512.9L1470.2 513.6L1471.5 513.4L1472.9 513L1474.2 512.5L1475.5 512.7L1476.9 513.5L1478.2 512.6L1479.6 513.2L1480.9 513.1L1482.3 513.6L1483.6 513.5L1485 512.5L1486.3 512L1487.7 512.5L1489 512.8L1490.3 513.1L1491.7 513.6L1493 513.7L1494.4 512.2L1495.7 513.6L1497.1 513.6L1498.4 513.7L1499.8 513.2L1501.1 512.7" fill="none" stroke="#0505f0" stroke-width="4.8" stroke-linejoin="round"/>
<rect x="1264.1" y="329.1" width="219.7" height="168.5" fill="url(#ph)"/>
<rect x="1264.1" y="329.1" width="219.7" height="168.5" fill="url(#ph2)"/>
<rect x="1264.1" y="329.1" width="219.7" height="168.5" fill="url(#ph3)"/>
<g filter="url(#b1)">
<path d="M1431 376L1445 378L1447 412L1434 408Z" fill="#3424b8" fill-opacity="0.55"/>
<path d="M1310.1 359.7L1430.4 359.2L1433.3 470.4L1315.8 469.8Z" fill="#1a10c4" fill-opacity="0.3" stroke="#5e62fa" stroke-width="1.4"/>
<rect x="1328.5" y="444" width="91.5" height="22.4" rx="3.5" fill="#2a22da" fill-opacity="0.6" stroke="#4644ea" stroke-width="0.8"/>
<path d="M1328 408Q1340 396 1352 392M1345 420Q1368 410 1385 400Q1395 392 1402 396M1378 388Q1390 382 1410 384L1424 392" stroke="#3c3cf0" stroke-width="1" fill="none" stroke-opacity="0.7"/>
<path d="M1341.8 360.3H1363.5M1367 360.3H1375M1377.2 360.3H1392M1396.5 360.3H1404.5M1412.3 360.3H1420.2" stroke="#d4f6ff" stroke-width="3" stroke-linecap="round"/>
<path d="M1431.8 402V436" stroke="#e8ecff" stroke-width="2.2"/>
<path d="M1373.2 458Q1373 451.5 1380.5 451.5Q1388 451.5 1387.9 458L1390.8 497.6H1372Z" fill="#8a84b6"/>
<path d="M1377 456L1376 497.6H1381.5L1381.5 456Z" fill="#b2aed2" fill-opacity="0.7"/>
<path d="M1374 456Q1374.5 452.3 1380.5 452.3Q1386.5 452.3 1387 456" stroke="#eef4ff" stroke-width="1.8" fill="none"/>
</g>
<text x="1373.7" y="440.9" font-size="34" text-anchor="middle" fill="#5f7cff" filter="url(#b2)" textLength="84" lengthAdjust="spacingAndGlyphs" stroke="#5f7cff" stroke-width="3" stroke-linejoin="round" fill-opacity="0.8" stroke-opacity="0.8">BNU</text>
<text x="1373.7" y="440.9" font-size="34" text-anchor="middle" fill="#fff" textLength="80.5" lengthAdjust="spacingAndGlyphs" stroke="#fff" stroke-width="2.4" stroke-linejoin="round" filter="url(#b1)">BNU</text>
<rect x="935.3" y="63.4" width="566.8" height="456.5" fill="none" stroke="#000" stroke-width="3.3"/>
<text x="935.3" y="555.2" font-size="30" textLength="45" lengthAdjust="spacingAndGlyphs">300</text>
<text x="1048.7" y="555.2" font-size="30" textLength="45" lengthAdjust="spacingAndGlyphs">400</text>
<text x="1162" y="555.2" font-size="30" textLength="45" lengthAdjust="spacingAndGlyphs">500</text>
<text x="1275.4" y="555.2" font-size="30" textLength="45" lengthAdjust="spacingAndGlyphs">600</text>
<text x="1388.7" y="555.2" font-size="30" textLength="45" lengthAdjust="spacingAndGlyphs">700</text>
<text x="1502.1" y="555.2" font-size="30" textLength="45" lengthAdjust="spacingAndGlyphs">800</text>
<path d="M935.3 519.9L935.3 528.9M992 519.9L992 524.9M1048.7 519.9L1048.7 528.9M1105.3 519.9L1105.3 524.9M1162 519.9L1162 528.9M1218.7 519.9L1218.7 524.9M1275.4 519.9L1275.4 528.9M1332.1 519.9L1332.1 524.9M1388.7 519.9L1388.7 528.9M1445.4 519.9L1445.4 524.9M1502.1 519.9L1502.1 528.9" stroke="#000" stroke-width="3" fill="none"/>
<text x="1210.5" y="595.3" font-size="34.4">Wavelength / nm</text>
<text x="905.8" y="290" font-size="34" transform="rotate(-90 905.8 290)">Intensity / a.u.</text>
<path d="M1360.7 96.1H1413.2" stroke="#dde0fb" stroke-width="4.6" stroke-linecap="round"/>
<text x="1420" y="104.1" font-size="23.5" text-anchor="start">4.0 V</text>
<path d="M1360.7 132.8H1413.2" stroke="#b8c0fb" stroke-width="4.6" stroke-linecap="round"/>
<text x="1420" y="140.6" font-size="23.5" text-anchor="start">5.0 V</text>
<path d="M1360.7 171H1413.2" stroke="#596df6" stroke-width="4.6" stroke-linecap="round"/>
<text x="1420" y="178.9" font-size="23.5" text-anchor="start">6.0 V</text>
<path d="M1360.7 209.2H1413.2" stroke="#0000f5" stroke-width="4.6" stroke-linecap="round"/>
<text x="1420" y="217.1" font-size="23.5" text-anchor="start">7.0 V</text>
<g clip-path="url(#cfr)"><g clip-path="url(#cie)"><g filter="url(#vb)"><rect x="1749.4" y="57.8" width="530.1" height="6" fill="url(#cg0)"/><rect x="1749.4" y="62.8" width="530.1" height="6" fill="url(#cg1)"/><rect x="1749.4" y="67.8" width="530.1" height="6" fill="url(#cg2)"/><rect x="1749.4" y="72.8" width="530.1" height="6" fill="url(#cg3)"/><rect x="1749.4" y="77.8" width="530.1" height="6" fill="url(#cg4)"/><rect x="1749.4" y="82.8" width="530.1" height="6" fill="url(#cg5)"/><rect x="1749.4" y="87.8" width="530.1" height="6" fill="url(#cg6)"/><rect x="1749.4" y="92.8" width="530.1" height="6" fill="url(#cg7)"/><rect x="1749.4" y="97.8" width="530.1" height="6" fill="url(#cg8)"/><rect x="1749.4" y="102.8" width="530.1" height="6" fill="url(#cg9)"/><rect x="1749.4" y="107.8" width="530.1" height="6" fill="url(#cg10)"/><rect x="1749.4" y="112.8" width="530.1" height="6" fill="url(#cg11)"/><rect x="1749.4" y="117.8" width="530.1" height="6" fill="url(#cg12)"/><rect x="1749.4" y="122.8" width="530.1" height="6" fill="url(#cg13)"/><rect x="1749.4" y="127.8" width="530.1" height="6" fill="url(#cg14)"/><rect x="1749.4" y="132.8" width="530.1" height="6" fill="url(#cg15)"/><rect x="1749.4" y="137.8" width="530.1" height="6" fill="url(#cg16)"/><rect x="1749.4" y="142.8" width="530.1" height="6" fill="url(#cg17)"/><rect x="1749.4" y="147.8" width="530.1" height="6" fill="url(#cg18)"/><rect x="1749.4" y="152.8" width="530.1" height="6" fill="url(#cg19)"/><rect x="1749.4" y="157.8" width="530.1" height="6" fill="url(#cg20)"/><rect x="1749.4" y="162.8" width="530.1" height="6" fill="url(#cg21)"/><rect x="1749.4" y="167.8" width="530.1" height="6" fill="url(#cg22)"/><rect x="1749.4" y="172.8" width="530.1" height="6" fill="url(#cg23)"/><rect x="1749.4" y="177.8" width="530.1" height="6" fill="url(#cg24)"/><rect x="1749.4" y="182.8" width="530.1" height="6" fill="url(#cg25)"/><rect x="1749.4" y="187.8" width="530.1" height="6" fill="url(#cg26)"/><rect x="1749.4" y="192.8" width="530.1" height="6" fill="url(#cg27)"/><rect x="1749.4" y="197.8" width="530.1" height="6" fill="url(#cg28)"/><rect x="1749.4" y="202.8" width="530.1" height="6" fill="url(#cg29)"/><rect x="1749.4" y="207.8" width="530.1" height="6" fill="url(#cg30)"/><rect x="1749.4" y="212.8" width="530.1" height="6" fill="url(#cg31)"/><rect x="1749.4" y="217.8" width="530.1" height="6" fill="url(#cg32)"/><rect x="1749.4" y="222.8" width="530.1" height="6" fill="url(#cg33)"/><rect x="1749.4" y="227.8" width="530.1" height="6" fill="url(#cg34)"/><rect x="1749.4" y="232.8" width="530.1" height="6" fill="url(#cg35)"/><rect x="1749.4" y="237.8" width="530.1" height="6" fill="url(#cg36)"/><rect x="1749.4" y="242.8" width="530.1" height="6" fill="url(#cg37)"/><rect x="1749.4" y="247.8" width="530.1" height="6" fill="url(#cg38)"/><rect x="1749.4" y="252.8" width="530.1" height="6" fill="url(#cg39)"/><rect x="1749.4" y="257.8" width="530.1" height="6" fill="url(#cg40)"/><rect x="1749.4" y="262.8" width="530.1" height="6" fill="url(#cg41)"/><rect x="1749.4" y="267.8" width="530.1" height="6" fill="url(#cg42)"/><rect x="1749.4" y="272.8" width="530.1" height="6" fill="url(#cg43)"/><rect x="1749.4" y="277.8" width="530.1" height="6" fill="url(#cg44)"/><rect x="1749.4" y="282.8" width="530.1" height="6" fill="url(#cg45)"/><rect x="1749.4" y="287.8" width="530.1" height="6" fill="url(#cg46)"/><rect x="1749.4" y="292.8" width="530.1" height="6" fill="url(#cg47)"/><rect x="1749.4" y="297.8" width="530.1" height="6" fill="url(#cg48)"/><rect x="1749.4" y="302.8" width="530.1" height="6" fill="url(#cg49)"/><rect x="1749.4" y="307.8" width="530.1" height="6" fill="url(#cg50)"/><rect x="1749.4" y="312.8" width="530.1" height="6" fill="url(#cg51)"/><rect x="1749.4" y="317.8" width="530.1" height="6" fill="url(#cg52)"/><rect x="1749.4" y="322.8" width="530.1" height="6" fill="url(#cg53)"/><rect x="1749.4" y="327.8" width="530.1" height="6" fill="url(#cg54)"/><rect x="1749.4" y="332.8" width="530.1" height="6" fill="url(#cg55)"/><rect x="1749.4" y="337.8" width="530.1" height="6" fill="url(#cg56)"/><rect x="1749.4" y="342.8" width="530.1" height="6" fill="url(#cg57)"/><rect x="1749.4" y="347.8" width="530.1" height="6" fill="url(#cg58)"/><rect x="1749.4" y="352.8" width="530.1" height="6" fill="url(#cg59)"/><rect x="1749.4" y="357.8" width="530.1" height="6" fill="url(#cg60)"/><rect x="1749.4" y="362.8" width="530.1" height="6" fill="url(#cg61)"/><rect x="1749.4" y="367.8" width="530.1" height="6" fill="url(#cg62)"/><rect x="1749.4" y="372.8" width="530.1" height="6" fill="url(#cg63)"/><rect x="1749.4" y="377.8" width="530.1" height="6" fill="url(#cg64)"/><rect x="1749.4" y="382.8" width="530.1" height="6" fill="url(#cg65)"/><rect x="1749.4" y="387.8" width="530.1" height="6" fill="url(#cg66)"/><rect x="1749.4" y="392.8" width="530.1" height="6" fill="url(#cg67)"/><rect x="1749.4" y="397.8" width="530.1" height="6" fill="url(#cg68)"/><rect x="1749.4" y="402.8" width="530.1" height="6" fill="url(#cg69)"/><rect x="1749.4" y="407.8" width="530.1" height="6" fill="url(#cg70)"/><rect x="1749.4" y="412.8" width="530.1" height="6" fill="url(#cg71)"/><rect x="1749.4" y="417.8" width="530.1" height="6" fill="url(#cg72)"/><rect x="1749.4" y="422.8" width="530.1" height="6" fill="url(#cg73)"/><rect x="1749.4" y="427.8" width="530.1" height="6" fill="url(#cg74)"/><rect x="1749.4" y="432.8" width="530.1" height="6" fill="url(#cg75)"/><rect x="1749.4" y="437.8" width="530.1" height="6" fill="url(#cg76)"/><rect x="1749.4" y="442.8" width="530.1" height="6" fill="url(#cg77)"/><rect x="1749.4" y="447.8" width="530.1" height="6" fill="url(#cg78)"/><rect x="1749.4" y="452.8" width="530.1" height="6" fill="url(#cg79)"/><rect x="1749.4" y="457.8" width="530.1" height="6" fill="url(#cg80)"/><rect x="1749.4" y="462.8" width="530.1" height="6" fill="url(#cg81)"/><rect x="1749.4" y="467.8" width="530.1" height="6" fill="url(#cg82)"/><rect x="1749.4" y="472.8" width="530.1" height="6" fill="url(#cg83)"/><rect x="1749.4" y="477.8" width="530.1" height="6" fill="url(#cg84)"/><rect x="1749.4" y="482.8" width="530.1" height="6" fill="url(#cg85)"/><rect x="1749.4" y="487.8" width="530.1" height="6" fill="url(#cg86)"/><rect x="1749.4" y="492.8" width="530.1" height="6" fill="url(#cg87)"/><rect x="1749.4" y="497.8" width="530.1" height="6" fill="url(#cg88)"/><rect x="1749.4" y="502.8" width="530.1" height="6" fill="url(#cg89)"/><rect x="1749.4" y="507.8" width="530.1" height="6" fill="url(#cg90)"/><rect x="1749.4" y="512.8" width="530.1" height="6" fill="url(#cg91)"/><rect x="1749.4" y="517.8" width="530.1" height="6" fill="url(#cg92)"/><rect x="1749.4" y="522.8" width="530.1" height="6" fill="url(#cg93)"/></g></g>
<path d="M2280.6 396.9L2038.2 506.1Q2021.2 514.8 2003.9 502.5L1997.6 497.2L1989.1 490L1978.5 480.8L1965.2 467.9L1949.1 449.2L1927.6 416.3L1900.1 363.1L1865.5 278.8L1822.7 153.9L1778.6 -19.4" fill="none" stroke="#111" stroke-width="4.4" filter="url(#eb)" stroke-linejoin="round"/>
</g>
<path d="M1694.1 377.6H1944" stroke="#92d050" stroke-width="4" stroke-dasharray="30 12" fill="none"/>
<path d="M1694.1 439.4H1927" stroke="#00b0f0" stroke-width="4" stroke-dasharray="30 12" fill="none"/>
<path d="M1957 389V522" stroke="#92d050" stroke-width="3.6" stroke-dasharray="3 15 24 27 17 12 20 10 4 99" fill="none"/>
<path d="M1937.7 451V522" stroke="#00b0f0" stroke-width="4" stroke-dasharray="5 11 13 12 14 11 4 99" fill="none"/>
<circle cx="1956.2" cy="376.4" r="12.6" fill="#92d050" stroke="#1a2a10" stroke-width="1"/>
<circle cx="1939" cy="438.8" r="12.8" fill="#00b0f0" stroke="#10202a" stroke-width="1"/>
<polygon points="1975.6,406 1982.3,426.7 2004.1,426.7 1986.5,439.5 1993.2,460.3 1975.6,447.5 1958,460.3 1964.7,439.5 1947.1,426.7 1968.9,426.7" fill="#ff0000" stroke="#300" stroke-width="1"/>
<text x="1996" y="384.6" font-size="25" text-anchor="start" fill="#92d050" textLength="65.8" lengthAdjust="spacingAndGlyphs">NTSC</text>
<text x="2012" y="447.4" font-size="25.4" text-anchor="start" fill="#f0000c" textLength="118.5" lengthAdjust="spacingAndGlyphs">This Work</text>
<text x="1796.6" y="480.2" font-size="25.4" text-anchor="start" fill="#00b0f0" textLength="109" lengthAdjust="spacingAndGlyphs">Rec.2020</text>
<rect x="1692.6" y="63.3" width="568" height="459.2" fill="none" stroke="#111" stroke-width="2.8"/>
<text x="1692.6" y="555.4" font-size="30" fill="#151515" textLength="54" lengthAdjust="spacingAndGlyphs" stroke="#fff" stroke-width="0.5">0.00</text>
<text x="1787.3" y="555.4" font-size="30" fill="#151515" textLength="54" lengthAdjust="spacingAndGlyphs" stroke="#fff" stroke-width="0.5">0.05</text>
<text x="1881.9" y="555.4" font-size="30" fill="#151515" textLength="54" lengthAdjust="spacingAndGlyphs" stroke="#fff" stroke-width="0.5">0.10</text>
<text x="1976.6" y="555.4" font-size="30" fill="#151515" textLength="54" lengthAdjust="spacingAndGlyphs" stroke="#fff" stroke-width="0.5">0.15</text>
<text x="2071.3" y="555.4" font-size="30" fill="#151515" textLength="54" lengthAdjust="spacingAndGlyphs" stroke="#fff" stroke-width="0.5">0.20</text>
<text x="2165.9" y="555.4" font-size="30" fill="#151515" textLength="54" lengthAdjust="spacingAndGlyphs" stroke="#fff" stroke-width="0.5">0.25</text>
<text x="2260.6" y="555.4" font-size="30" fill="#151515" textLength="54" lengthAdjust="spacingAndGlyphs" stroke="#fff" stroke-width="0.5">0.30</text>
<text x="1680.2" y="531.9" font-size="30" text-anchor="end" fill="#151515" textLength="54" lengthAdjust="spacingAndGlyphs" stroke="#fff" stroke-width="0.5">0.00</text>
<text x="1680.2" y="440.1" font-size="30" text-anchor="end" fill="#151515" textLength="54" lengthAdjust="spacingAndGlyphs" stroke="#fff" stroke-width="0.5">0.05</text>
<text x="1680.2" y="348.2" font-size="30" text-anchor="end" fill="#151515" textLength="54" lengthAdjust="spacingAndGlyphs" stroke="#fff" stroke-width="0.5">0.10</text>
<text x="1680.2" y="256.4" font-size="30" text-anchor="end" fill="#151515" textLength="54" lengthAdjust="spacingAndGlyphs" stroke="#fff" stroke-width="0.5">0.15</text>
<text x="1680.2" y="164.5" font-size="30" text-anchor="end" fill="#151515" textLength="54" lengthAdjust="spacingAndGlyphs" stroke="#fff" stroke-width="0.5">0.20</text>
<text x="1680.2" y="72.7" font-size="30" text-anchor="end" fill="#151515" textLength="54" lengthAdjust="spacingAndGlyphs" stroke="#fff" stroke-width="0.5">0.25</text>
<path d="M1692.6 522.5L1692.6 513.5M1739.9 522.5L1739.9 518M1787.3 522.5L1787.3 513.5M1834.6 522.5L1834.6 518M1881.9 522.5L1881.9 513.5M1929.3 522.5L1929.3 518M1976.6 522.5L1976.6 513.5M2023.9 522.5L2023.9 518M2071.3 522.5L2071.3 513.5M2118.6 522.5L2118.6 518M2165.9 522.5L2165.9 513.5M2213.3 522.5L2213.3 518M2260.6 522.5L2260.6 513.5M1692.6 522.5L1701.6 522.5M1692.6 476.6L1697.1 476.6M1692.6 430.7L1701.6 430.7M1692.6 384.7L1697.1 384.7M1692.6 338.8L1701.6 338.8M1692.6 292.9L1697.1 292.9M1692.6 247L1701.6 247M1692.6 201.1L1697.1 201.1M1692.6 155.1L1701.6 155.1M1692.6 109.2L1697.1 109.2M1692.6 63.3L1701.6 63.3" stroke="#111" stroke-width="2.6" fill="none"/>
<text x="1608.5" y="289.5" font-size="36" transform="rotate(-90 1608.5 289.5)" textLength="61" lengthAdjust="spacingAndGlyphs">CIE</text>
<text x="1619.5" y="251.5" font-size="25" transform="rotate(-90 1619.5 251.5)">y</text>
<text x="1981" y="590" font-size="35" textLength="57.5" lengthAdjust="spacingAndGlyphs">CIE</text>
<text x="2016.5" y="598" font-size="25">x</text>
<clipPath id="cd"><rect x="159.6" y="623.3" width="563.2" height="454"/></clipPath>
<path d="M341.7 1058.2L343.2 1051.8M347.2 1035.3L348.7 1029M352.7 1012.5L354.1 1006.9M358.5 990.5L359.1 988.5" fill="none" stroke="#555" stroke-width="3.4"/>
<use href="#mk" x="339.8" y="1066.4"/><use href="#mk" x="345.2" y="1043.6"/><use href="#mk" x="350.7" y="1020.7"/><use href="#mk" x="356.1" y="998.6"/><use href="#mk" x="361.6" y="980.4"/><use href="#mk" x="367" y="964.6"/><use href="#mk" x="372.4" y="950.3"/><use href="#mk" x="377.9" y="937.9"/><use href="#mk" x="383.3" y="927.8"/><use href="#mk" x="388.8" y="918.9"/><use href="#mk" x="394.2" y="911"/><use href="#mk" x="399.7" y="903.8"/><use href="#mk" x="405.2" y="897.3"/><use href="#mk" x="410.6" y="890.9"/><use href="#mk" x="416.1" y="885.5"/><use href="#mk" x="421.5" y="880.2"/><use href="#mk" x="426.9" y="875.6"/><use href="#mk" x="432.4" y="871.2"/><use href="#mk" x="437.8" y="867.2"/><use href="#mk" x="443.3" y="863.2"/><use href="#mk" x="448.7" y="859.6"/><use href="#mk" x="454.2" y="856.1"/><use href="#mk" x="459.7" y="852.8"/><use href="#mk" x="465.1" y="849.6"/><use href="#mk" x="470.6" y="846.7"/><use href="#mk" x="476" y="843.8"/><use href="#mk" x="481.4" y="840.9"/><use href="#mk" x="486.9" y="838"/><use href="#mk" x="492.3" y="835.3"/><use href="#mk" x="497.8" y="832.6"/><use href="#mk" x="503.2" y="830"/><use href="#mk" x="508.7" y="827.5"/><use href="#mk" x="514.1" y="825"/><use href="#mk" x="519.6" y="822.4"/><use href="#mk" x="525" y="819.9"/><use href="#mk" x="530.5" y="817.4"/><use href="#mk" x="535.9" y="815"/><use href="#mk" x="541.4" y="812.6"/><use href="#mk" x="546.8" y="809.8"/><use href="#mk" x="552.3" y="806.6"/><use href="#mk" x="557.7" y="802.2"/><use href="#mk" x="563.2" y="799.1"/><use href="#mk" x="568.6" y="796.4"/><use href="#mk" x="574.1" y="793.7"/><use href="#mk" x="579.5" y="790.9"/><use href="#mk" x="585" y="788.4"/><use href="#mk" x="590.4" y="785.8"/><use href="#mk" x="595.9" y="783.6"/><use href="#mk" x="601.4" y="781.4"/><use href="#mk" x="606.8" y="779.4"/><use href="#mk" x="612.2" y="777.4"/><use href="#mk" x="617.7" y="775.2"/><use href="#mk" x="623.1" y="773.1"/><use href="#mk" x="628.6" y="770.7"/><use href="#mk" x="634" y="768.4"/><use href="#mk" x="639.5" y="766"/><use href="#mk" x="644.9" y="763.6"/><use href="#mk" x="650.4" y="761.4"/><use href="#mk" x="655.9" y="759.3"/><use href="#mk" x="661.3" y="756.6"/><use href="#mk" x="666.8" y="753.9"/><use href="#mk" x="672.2" y="750.6"/><use href="#mk" x="677.6" y="747.5"/><use href="#mk" x="683.1" y="748.5"/><use href="#mk" x="688.5" y="749.1"/><use href="#mk" x="694" y="748.4"/><use href="#mk" x="699.5" y="746.9"/><use href="#mk" x="704.9" y="744.7"/><use href="#mk" x="710.4" y="741.2"/>
<path d="M335.2 1052.9L338.8 1021.3M340.8 1004.5L344.1 979.1M346.5 962.2L349.4 943.1M352.1 926.3L354.7 911.2M358 894.6L359.7 886.9M363.8 870.4L364.8 866.8" fill="none" stroke="#0000ff" stroke-width="4.6"/>
<use href="#mb" x="334.3" y="1061.4"/><use href="#mb" x="339.8" y="1012.9"/><use href="#mb" x="345.2" y="970.6"/><use href="#mb" x="350.7" y="934.7"/><use href="#mb" x="356.1" y="902.8"/><use href="#mb" x="361.6" y="878.6"/><use href="#mb" x="367" y="858.6"/><use href="#mb" x="372.4" y="843.9"/><use href="#mb" x="377.9" y="828.8"/><use href="#mb" x="383.4" y="817.4"/><use href="#mb" x="388.8" y="807.4"/><use href="#mb" x="394.3" y="798.9"/><use href="#mb" x="399.7" y="791.6"/><use href="#mb" x="405.2" y="784.3"/><use href="#mb" x="410.6" y="777.3"/><use href="#mb" x="416.1" y="771.3"/><use href="#mb" x="421.5" y="765.5"/><use href="#mb" x="426.9" y="760.6"/><use href="#mb" x="432.4" y="755.7"/><use href="#mb" x="437.9" y="751"/><use href="#mb" x="443.3" y="746.4"/><use href="#mb" x="448.8" y="742.4"/><use href="#mb" x="454.2" y="738.4"/><use href="#mb" x="459.7" y="734.8"/><use href="#mb" x="465.1" y="731.2"/><use href="#mb" x="470.6" y="728"/><use href="#mb" x="476" y="724.7"/><use href="#mb" x="481.4" y="721.7"/><use href="#mb" x="486.9" y="718.6"/><use href="#mb" x="492.4" y="715.9"/><use href="#mb" x="497.8" y="713.2"/><use href="#mb" x="503.3" y="710.7"/><use href="#mb" x="508.7" y="708.2"/><use href="#mb" x="514.1" y="705.8"/><use href="#mb" x="519.6" y="703.6"/><use href="#mb" x="525" y="701.6"/><use href="#mb" x="530.5" y="699.6"/><use href="#mb" x="535.9" y="697.8"/><use href="#mb" x="541.4" y="696"/><use href="#mb" x="546.9" y="694.2"/><use href="#mb" x="552.3" y="691.7"/><use href="#mb" x="557.8" y="687.5"/><use href="#mb" x="563.2" y="684.9"/><use href="#mb" x="568.6" y="682.7"/><use href="#mb" x="574.1" y="680.7"/><use href="#mb" x="579.5" y="678.7"/><use href="#mb" x="585" y="677.6"/><use href="#mb" x="590.4" y="676.7"/><use href="#mb" x="595.9" y="675.2"/><use href="#mb" x="601.4" y="673.6"/><use href="#mb" x="606.8" y="672.1"/><use href="#mb" x="612.2" y="670.6"/><use href="#mb" x="617.7" y="669.5"/><use href="#mb" x="623.1" y="668.4"/><use href="#mb" x="628.6" y="667.6"/><use href="#mb" x="634" y="666.9"/><use href="#mb" x="639.5" y="665.5"/><use href="#mb" x="644.9" y="664.1"/><use href="#mb" x="650.4" y="663.3"/><use href="#mb" x="655.9" y="662.5"/><use href="#mb" x="661.3" y="661.8"/><use href="#mb" x="666.8" y="661.1"/><use href="#mb" x="672.2" y="659"/><use href="#mb" x="677.6" y="660.4"/><use href="#mb" x="683.1" y="662.6"/><use href="#mb" x="688.5" y="664.8"/><use href="#mb" x="694" y="665.2"/><use href="#mb" x="699.5" y="665.4"/><use href="#mb" x="704.9" y="665.4"/><use href="#mb" x="710.4" y="662.5"/>
<text x="159.6" y="1113.8" font-size="30.1" textLength="15.2" lengthAdjust="spacingAndGlyphs">0</text>
<text x="268.6" y="1113.8" font-size="30.1" textLength="15.2" lengthAdjust="spacingAndGlyphs">2</text>
<text x="377.6" y="1113.8" font-size="30.1" textLength="15.2" lengthAdjust="spacingAndGlyphs">4</text>
<text x="486.6" y="1113.8" font-size="30.1" textLength="15.2" lengthAdjust="spacingAndGlyphs">6</text>
<text x="595.6" y="1113.8" font-size="30.1" textLength="15.2" lengthAdjust="spacingAndGlyphs">8</text>
<text x="704.6" y="1113.8" font-size="30.1" textLength="30.5" lengthAdjust="spacingAndGlyphs">10</text>
<path d="M159.6 623.3L159.6 1079M157.9 1077.3L722.8 1077.3M157.9 623.3L722.8 623.3M159.6 1077.3L159.6 1086.8M214.1 1077.3L214.1 1082.5M268.6 1077.3L268.6 1086.8M323.1 1077.3L323.1 1082.5M377.6 1077.3L377.6 1086.8M432.1 1077.3L432.1 1082.5M486.6 1077.3L486.6 1086.8M541.1 1077.3L541.1 1082.5M595.6 1077.3L595.6 1086.8M650.1 1077.3L650.1 1082.5M704.6 1077.3L704.6 1086.8" stroke="#000" stroke-width="3.4" fill="none"/>
<text x="96.2" y="1088.3" font-size="29.6" text-anchor="start" textLength="30.5" lengthAdjust="spacingAndGlyphs">10</text>
<text x="127.5" y="1076.3" font-size="20.1" text-anchor="start" textLength="16.5" lengthAdjust="spacingAndGlyphs">-1</text>
<text x="102.4" y="997.5" font-size="29.6" text-anchor="start" textLength="30.5" lengthAdjust="spacingAndGlyphs">10</text>
<text x="133.7" y="985.5" font-size="20.1" text-anchor="start" textLength="10.3" lengthAdjust="spacingAndGlyphs">0</text>
<text x="102.4" y="906.7" font-size="29.6" text-anchor="start" textLength="30.5" lengthAdjust="spacingAndGlyphs">10</text>
<text x="133.7" y="894.7" font-size="20.1" text-anchor="start" textLength="10.3" lengthAdjust="spacingAndGlyphs">1</text>
<text x="102.4" y="815.9" font-size="29.6" text-anchor="start" textLength="30.5" lengthAdjust="spacingAndGlyphs">10</text>
<text x="133.7" y="803.9" font-size="20.1" text-anchor="start" textLength="10.3" lengthAdjust="spacingAndGlyphs">2</text>
<text x="102.4" y="725.1" font-size="29.6" text-anchor="start" textLength="30.5" lengthAdjust="spacingAndGlyphs">10</text>
<text x="133.7" y="713.1" font-size="20.1" text-anchor="start" textLength="10.3" lengthAdjust="spacingAndGlyphs">3</text>
<text x="102.4" y="634.3" font-size="29.6" text-anchor="start" textLength="30.5" lengthAdjust="spacingAndGlyphs">10</text>
<text x="133.7" y="622.3" font-size="20.1" text-anchor="start" textLength="10.3" lengthAdjust="spacingAndGlyphs">4</text>
<path d="M150.4 1077.3L159.6 1077.3M154.6 1050L159.6 1050M154.6 1034L159.6 1034M154.6 1022.6L159.6 1022.6M154.6 1013.8L159.6 1013.8M154.6 1006.6L159.6 1006.6M154.6 1000.6L159.6 1000.6M154.6 995.3L159.6 995.3M154.6 990.7L159.6 990.7M150.4 986.5L159.6 986.5M154.6 959.2L159.6 959.2M154.6 943.2L159.6 943.2M154.6 931.8L159.6 931.8M154.6 923L159.6 923M154.6 915.8L159.6 915.8M154.6 909.8L159.6 909.8M154.6 904.5L159.6 904.5M154.6 899.9L159.6 899.9M150.4 895.7L159.6 895.7M154.6 868.4L159.6 868.4M154.6 852.4L159.6 852.4M154.6 841L159.6 841M154.6 832.2L159.6 832.2M154.6 825L159.6 825M154.6 819L159.6 819M154.6 813.7L159.6 813.7M154.6 809.1L159.6 809.1M150.4 804.9L159.6 804.9M154.6 777.6L159.6 777.6M154.6 761.6L159.6 761.6M154.6 750.2L159.6 750.2M154.6 741.4L159.6 741.4M154.6 734.2L159.6 734.2M154.6 728.2L159.6 728.2M154.6 722.9L159.6 722.9M154.6 718.3L159.6 718.3M150.4 714.1L159.6 714.1M154.6 686.8L159.6 686.8M154.6 670.8L159.6 670.8M154.6 659.4L159.6 659.4M154.6 650.6L159.6 650.6M154.6 643.4L159.6 643.4M154.6 637.4L159.6 637.4M154.6 632.1L159.6 632.1M154.6 627.5L159.6 627.5M150.4 623.3L159.6 623.3" stroke="#000" stroke-width="2.6" fill="none"/>
<path d="M722.8 621.6L722.8 1079" stroke="#0000ff" stroke-width="3.4" fill="none"/>
<text x="738.4" y="1074.3" font-size="29.6" text-anchor="start" fill="#0000ff" textLength="30.5" lengthAdjust="spacingAndGlyphs">10</text>
<text x="769.7" y="1062.2" font-size="20.1" text-anchor="start" fill="#0000ff" textLength="10.3" lengthAdjust="spacingAndGlyphs">0</text>
<text x="738.4" y="964.3" font-size="29.6" text-anchor="start" fill="#0000ff" textLength="30.5" lengthAdjust="spacingAndGlyphs">10</text>
<text x="769.7" y="952.2" font-size="20.1" text-anchor="start" fill="#0000ff" textLength="10.3" lengthAdjust="spacingAndGlyphs">1</text>
<text x="738.4" y="854.3" font-size="29.6" text-anchor="start" fill="#0000ff" textLength="30.5" lengthAdjust="spacingAndGlyphs">10</text>
<text x="769.7" y="842.2" font-size="20.1" text-anchor="start" fill="#0000ff" textLength="10.3" lengthAdjust="spacingAndGlyphs">2</text>
<text x="738.4" y="744.3" font-size="29.6" text-anchor="start" fill="#0000ff" textLength="30.5" lengthAdjust="spacingAndGlyphs">10</text>
<text x="769.7" y="732.2" font-size="20.1" text-anchor="start" fill="#0000ff" textLength="10.3" lengthAdjust="spacingAndGlyphs">3</text>
<text x="738.4" y="634.3" font-size="29.6" text-anchor="start" fill="#0000ff" textLength="30.5" lengthAdjust="spacingAndGlyphs">10</text>
<text x="769.7" y="622.2" font-size="20.1" text-anchor="start" fill="#0000ff" textLength="10.3" lengthAdjust="spacingAndGlyphs">4</text>
<path d="M722.8 1063.3L731.3 1063.3M722.8 1030.2L726.8 1030.2M722.8 1010.8L726.8 1010.8M722.8 997.1L726.8 997.1M722.8 986.4L726.8 986.4M722.8 977.7L726.8 977.7M722.8 970.3L726.8 970.3M722.8 964L726.8 964M722.8 958.3L726.8 958.3M722.8 953.3L731.3 953.3M722.8 920.2L726.8 920.2M722.8 900.8L726.8 900.8M722.8 887.1L726.8 887.1M722.8 876.4L726.8 876.4M722.8 867.7L726.8 867.7M722.8 860.3L726.8 860.3M722.8 854L726.8 854M722.8 848.3L726.8 848.3M722.8 843.3L731.3 843.3M722.8 810.2L726.8 810.2M722.8 790.8L726.8 790.8M722.8 777.1L726.8 777.1M722.8 766.4L726.8 766.4M722.8 757.7L726.8 757.7M722.8 750.3L726.8 750.3M722.8 744L726.8 744M722.8 738.3L726.8 738.3M722.8 733.3L731.3 733.3M722.8 700.2L726.8 700.2M722.8 680.8L726.8 680.8M722.8 667.1L726.8 667.1M722.8 656.4L726.8 656.4M722.8 647.7L726.8 647.7M722.8 640.3L726.8 640.3M722.8 634L726.8 634M722.8 628.3L726.8 628.3M722.8 623.3L731.3 623.3M722.8 1074L726.8 1074M722.8 1068.3L726.8 1068.3" stroke="#0000ff" stroke-width="2.6" fill="none"/>
<text x="441" y="1145.2" font-size="36.1" textLength="176.3" lengthAdjust="spacingAndGlyphs">Voltage / V</text>
<text x="89.6" y="849.4" font-size="35.7" transform="rotate(-90 89.6 849.4)" textLength="416.7" lengthAdjust="spacingAndGlyphs">Current Density / mA cm<tspan dy="-12.9" font-size="25">-2</tspan></text>
<text x="811.6" y="852.5" font-size="36.1" fill="#0000ff" transform="rotate(-90 811.6 852.5)" textLength="312" lengthAdjust="spacingAndGlyphs">Luminance / cd m<tspan dy="-13" font-size="25.3">-2</tspan></text>
<path d="M963.6 793.2L1002.2 772.7M1029.4 757.9L1053.6 744.5M1081.6 731.5L1098.1 725.3M1127.9 717.5L1137.1 716" fill="none" stroke="#0000f5" stroke-width="5.2"/>
<use href="#me" x="949.9" y="800.4"/><use href="#me" x="1015.9" y="765.5"/><use href="#me" x="1067.1" y="736.9"/><use href="#me" x="1112.6" y="719.9"/><use href="#me" x="1152.4" y="713.6"/><use href="#me" x="1183.7" y="712.6"/><use href="#me" x="1207.1" y="708.5"/><use href="#me" x="1226.7" y="709"/><use href="#me" x="1243.2" y="710.3"/><use href="#me" x="1256.8" y="711.8"/><use href="#me" x="1268.3" y="713.6"/><use href="#me" x="1278.3" y="715.3"/><use href="#me" x="1287.1" y="716.9"/><use href="#me" x="1295.6" y="718.4"/><use href="#me" x="1303.6" y="720.1"/><use href="#me" x="1311.2" y="722"/><use href="#me" x="1318.5" y="723.9"/><use href="#me" x="1325.4" y="725.8"/><use href="#me" x="1331.9" y="727.7"/><use href="#me" x="1338.1" y="729.6"/><use href="#me" x="1344.1" y="731.6"/><use href="#me" x="1349.7" y="733.5"/><use href="#me" x="1355.1" y="735.3"/><use href="#me" x="1360.2" y="737.2"/><use href="#me" x="1365" y="739"/><use href="#me" x="1369.6" y="740.8"/><use href="#me" x="1374" y="742.6"/><use href="#me" x="1378.1" y="744.4"/><use href="#me" x="1382.1" y="746.2"/><use href="#me" x="1385.8" y="748"/><use href="#me" x="1389.2" y="749.8"/><use href="#me" x="1392.5" y="751.5"/><use href="#me" x="1395.7" y="753.3"/><use href="#me" x="1398.7" y="755"/><use href="#me" x="1401.5" y="756.6"/><use href="#me" x="1404.2" y="758.1"/><use href="#me" x="1406.8" y="759.5"/><use href="#me" x="1409.4" y="760.9"/><use href="#me" x="1411.9" y="762.3"/><use href="#me" x="1414.5" y="763.7"/><use href="#me" x="1417" y="765.1"/><use href="#me" x="1419.5" y="766.6"/><use href="#me" x="1422" y="768.1"/><use href="#me" x="1424.4" y="769.7"/><use href="#me" x="1426.8" y="771.3"/><use href="#me" x="1429.2" y="773"/><use href="#me" x="1431.4" y="774.8"/><use href="#me" x="1433.6" y="776.8"/><use href="#me" x="1435.5" y="778.9"/><use href="#me" x="1437.3" y="781.2"/><use href="#me" x="1439" y="783.5"/><use href="#me" x="1440.6" y="785.9"/><use href="#me" x="1442.2" y="788.4"/><use href="#me" x="1443.8" y="790.8"/><use href="#me" x="1445.4" y="793.2"/><use href="#me" x="1446.9" y="795.7"/><use href="#me" x="1448.4" y="798.2"/><use href="#me" x="1449.9" y="800.7"/><use href="#me" x="1451.4" y="803.2"/><use href="#me" x="1452.8" y="805.7"/><use href="#me" x="1454.2" y="808.2"/><use href="#me" x="1455.3" y="810.9"/><use href="#me" x="1456.1" y="813.7"/><use href="#me" x="1455.6" y="816.5"/><use href="#me" x="1453.3" y="818.2"/><use href="#me" x="1450.7" y="819.5"/><use href="#me" x="1448.3" y="821"/><use href="#me" x="1448.1" y="823.7"/><use href="#me" x="1449.2" y="826.4"/><use href="#me" x="1450.5" y="829"/>
<polygon points="0,-31.4 7.1,-9.7 29.9,-9.7 11.4,3.7 18.5,25.4 0,12 -18.5,25.4 -11.4,3.7 -29.9,-9.7 -7.1,-9.7" fill="#ff0000" transform="translate(1183.7 703) scale(1 0.82)"/>
<text x="1251" y="673.6" font-size="40.9" text-anchor="start" fill="#2b1fff" textLength="129.6" lengthAdjust="spacingAndGlyphs">10.45%</text>
<rect x="937.5" y="623.5" width="564" height="454.3" fill="none" stroke="#000" stroke-width="3.6"/>
<text x="936.8" y="1119.5" font-size="30.1" text-anchor="start" textLength="30.5" lengthAdjust="spacingAndGlyphs">10</text>
<text x="968.1" y="1108.5" font-size="20.5" text-anchor="start" textLength="10.3" lengthAdjust="spacingAndGlyphs">0</text>
<text x="1072.9" y="1119.5" font-size="30.1" text-anchor="start" textLength="30.5" lengthAdjust="spacingAndGlyphs">10</text>
<text x="1104.2" y="1108.5" font-size="20.5" text-anchor="start" textLength="10.3" lengthAdjust="spacingAndGlyphs">1</text>
<text x="1209" y="1119.5" font-size="30.1" text-anchor="start" textLength="30.5" lengthAdjust="spacingAndGlyphs">10</text>
<text x="1240.3" y="1108.5" font-size="20.5" text-anchor="start" textLength="10.3" lengthAdjust="spacingAndGlyphs">2</text>
<text x="1345.1" y="1119.5" font-size="30.1" text-anchor="start" textLength="30.5" lengthAdjust="spacingAndGlyphs">10</text>
<text x="1376.4" y="1108.5" font-size="20.5" text-anchor="start" textLength="10.3" lengthAdjust="spacingAndGlyphs">3</text>
<text x="1481.2" y="1119.5" font-size="30.1" text-anchor="start" textLength="30.5" lengthAdjust="spacingAndGlyphs">10</text>
<text x="1512.5" y="1108.5" font-size="20.5" text-anchor="start" textLength="10.3" lengthAdjust="spacingAndGlyphs">4</text>
<text x="922.4" y="1088" font-size="30.1" text-anchor="end" textLength="38.1" lengthAdjust="spacingAndGlyphs">0.1</text>
<text x="922.4" y="903.8" font-size="30.1" text-anchor="end" textLength="15.2" lengthAdjust="spacingAndGlyphs">1</text>
<text x="922.4" y="719.6" font-size="30.1" text-anchor="end" textLength="30.5" lengthAdjust="spacingAndGlyphs">10</text>
<path d="M957.6 1077.8L957.6 1087.1M1093.7 1077.8L1093.7 1087.1M1229.8 1077.8L1229.8 1087.1M1365.9 1077.8L1365.9 1087.1M1502 1077.8L1502 1087.1M928.2 1077.8L937.5 1077.8M928.2 893.6L937.5 893.6M928.2 709.4L937.5 709.4" stroke="#000" stroke-width="3.2" fill="none"/>
<path d="M944.4 1077.8L944.4 1082.8M951.4 1077.8L951.4 1082.8M998.6 1077.8L998.6 1082.8M1022.5 1077.8L1022.5 1082.8M1039.5 1077.8L1039.5 1082.8M1052.7 1077.8L1052.7 1082.8M1063.5 1077.8L1063.5 1082.8M1072.6 1077.8L1072.6 1082.8M1080.5 1077.8L1080.5 1082.8M1087.5 1077.8L1087.5 1082.8M1134.7 1077.8L1134.7 1082.8M1158.6 1077.8L1158.6 1082.8M1175.6 1077.8L1175.6 1082.8M1188.8 1077.8L1188.8 1082.8M1199.6 1077.8L1199.6 1082.8M1208.7 1077.8L1208.7 1082.8M1216.6 1077.8L1216.6 1082.8M1223.6 1077.8L1223.6 1082.8M1270.8 1077.8L1270.8 1082.8M1294.7 1077.8L1294.7 1082.8M1311.7 1077.8L1311.7 1082.8M1324.9 1077.8L1324.9 1082.8M1335.7 1077.8L1335.7 1082.8M1344.8 1077.8L1344.8 1082.8M1352.7 1077.8L1352.7 1082.8M1359.7 1077.8L1359.7 1082.8M1406.9 1077.8L1406.9 1082.8M1430.8 1077.8L1430.8 1082.8M1447.8 1077.8L1447.8 1082.8M1461 1077.8L1461 1082.8M1471.8 1077.8L1471.8 1082.8M1480.9 1077.8L1480.9 1082.8M1488.8 1077.8L1488.8 1082.8M1495.8 1077.8L1495.8 1082.8M932.5 1022.4L937.5 1022.4M932.5 989.9L937.5 989.9M932.5 966.9L937.5 966.9M932.5 949L937.5 949M932.5 934.5L937.5 934.5M932.5 922.1L937.5 922.1M932.5 911.5L937.5 911.5M932.5 902L937.5 902M932.5 838.2L937.5 838.2M932.5 805.7L937.5 805.7M932.5 782.7L937.5 782.7M932.5 764.8L937.5 764.8M932.5 750.3L937.5 750.3M932.5 737.9L937.5 737.9M932.5 727.3L937.5 727.3M932.5 717.8L937.5 717.8M932.5 654L937.5 654" stroke="#000" stroke-width="2.6" fill="none"/>
<text x="1219" y="1150.4" font-size="36.7" textLength="309.8" lengthAdjust="spacingAndGlyphs">Luminance / cd m<tspan dy="-11" font-size="24.2">-2</tspan></text>
<text x="886.4" y="844" font-size="36" transform="rotate(-90 886.4 844)" textLength="131.5" lengthAdjust="spacingAndGlyphs">EQE / %</text>
<rect x="1692.6" y="622" width="568" height="90" fill="#f8f8ff"/>
<use href="#bk" x="1862.7" y="700.9"/><use href="#bk" x="1942.4" y="755.9"/><use href="#bk" x="1947.9" y="791.7"/><use href="#bk" x="1828.8" y="810.9"/><use href="#bk" x="1939.5" y="847.5"/><use href="#bk" x="2089.9" y="847.3"/><use href="#bk" x="1859.9" y="876.4"/><use href="#bk" x="1976.3" y="931.4"/><use href="#bk" x="1822.8" y="961.3"/><use href="#bk" x="1834.4" y="982.7"/><use href="#bk" x="1928.2" y="1003.5"/><use href="#bk" x="1976.3" y="1006.3"/><use href="#bk" x="1911.5" y="1024.6"/><use href="#bk" x="1973.5" y="1028.3"/><use href="#bk" x="2030.5" y="1034"/>
<use href="#bg" x="1805.8" y="638.3"/><use href="#bg" x="1779.9" y="682.8"/><use href="#bg" x="1885.2" y="667.8"/><use href="#bg" x="1948" y="657"/><use href="#bg" x="1939.5" y="697.7"/><use href="#bg" x="1848.6" y="766.4"/><use href="#bg" x="1822.8" y="803.2"/><use href="#bg" x="1802.9" y="814.5"/><use href="#bg" x="1890.8" y="840.1"/><use href="#bg" x="1770.7" y="854.8"/><use href="#bg" x="1777.2" y="861.6"/><use href="#bg" x="1805.6" y="852.6"/><use href="#bg" x="1863.1" y="903.1"/><use href="#bg" x="1797.3" y="930.8"/><use href="#bg" x="2004.8" y="818.1"/><use href="#bg" x="2058.9" y="819"/><use href="#bg" x="2175.4" y="818.1"/><use href="#bg" x="2118.6" y="850.9"/><use href="#bg" x="2104.3" y="854.8"/>
<use href="#bc" x="1891.1" y="931.7"/><use href="#bc" x="1976" y="1000"/>
<polygon points="1828.8,678 1832.9,690.6 1846.2,690.6 1835.4,698.5 1839.6,711.1 1828.8,703.3 1818,711.1 1822.2,698.5 1811.4,690.6 1824.7,690.6" fill="#ff0000"/>
<path d="M1824.1 624V1076" stroke="#0000ee" stroke-width="3.8" stroke-dasharray="18.2 16.4" fill="none"/>
<text x="1700.4" y="667" font-size="25.3" text-anchor="start" fill="#0000e6" textLength="101" lengthAdjust="spacingAndGlyphs">Rec.2020</text>
<polygon points="2106,955.7 2109.1,965.2 2119.1,965.2 2111,971.1 2114.1,980.7 2106,974.8 2097.9,980.7 2101,971.1 2092.9,965.2 2102.9,965.2" fill="#ff0000"/>
<use href="#bk" x="2106" y="995.9"/><use href="#bg" x="2106" y="1023"/><use href="#bc" x="2106" y="1050.4"/>
<text x="2136.4" y="976.4" font-size="21.4" text-anchor="start">This work</text>
<text x="2136.4" y="1003.3" font-size="21.4" text-anchor="start">PeLED</text>
<text x="2136.4" y="1030.5" font-size="21.4" text-anchor="start">OLED</text>
<text x="2136.4" y="1057.7" font-size="21.4" text-anchor="start">CQDs</text>
<rect x="1692.6" y="622" width="568" height="455.3" fill="none" stroke="#000" stroke-width="3.2"/>
<text x="1692.6" y="1116.6" font-size="30" textLength="54.6" lengthAdjust="spacingAndGlyphs">0.00</text>
<text x="1834.6" y="1116.6" font-size="30" textLength="54.6" lengthAdjust="spacingAndGlyphs">0.05</text>
<text x="1976.6" y="1116.6" font-size="30" textLength="54.6" lengthAdjust="spacingAndGlyphs">0.10</text>
<text x="2118.6" y="1116.6" font-size="30" textLength="54.6" lengthAdjust="spacingAndGlyphs">0.15</text>
<text x="2260.6" y="1116.6" font-size="30" textLength="54.6" lengthAdjust="spacingAndGlyphs">0.20</text>
<text x="1676.4" y="1087.7" font-size="29.5" text-anchor="end" textLength="14.7" lengthAdjust="spacingAndGlyphs">0</text>
<text x="1676.4" y="1014.5" font-size="29.5" text-anchor="end" textLength="14.7" lengthAdjust="spacingAndGlyphs">2</text>
<text x="1676.4" y="941.4" font-size="29.5" text-anchor="end" textLength="14.7" lengthAdjust="spacingAndGlyphs">4</text>
<text x="1676.4" y="868.2" font-size="29.5" text-anchor="end" textLength="14.7" lengthAdjust="spacingAndGlyphs">6</text>
<text x="1676.4" y="795.1" font-size="29.5" text-anchor="end" textLength="14.7" lengthAdjust="spacingAndGlyphs">8</text>
<text x="1676.4" y="721.9" font-size="29.5" text-anchor="end" textLength="29.4" lengthAdjust="spacingAndGlyphs">10</text>
<text x="1676.4" y="648.7" font-size="29.5" text-anchor="end" textLength="29.4" lengthAdjust="spacingAndGlyphs">12</text>
<path d="M1692.6 1077.3L1692.6 1086.3M1834.6 1077.3L1834.6 1086.3M1976.6 1077.3L1976.6 1086.3M2118.6 1077.3L2118.6 1086.3M2260.6 1077.3L2260.6 1086.3M1683.6 1077.3L1692.6 1077.3M1683.6 1004.1L1692.6 1004.1M1683.6 931L1692.6 931M1683.6 857.8L1692.6 857.8M1683.6 784.7L1692.6 784.7M1683.6 711.5L1692.6 711.5M1683.6 638.3L1692.6 638.3" stroke="#000" stroke-width="3" fill="none"/>
<path d="M1763.6 1077.3L1763.6 1082.3M1905.6 1077.3L1905.6 1082.3M2047.6 1077.3L2047.6 1082.3M2189.6 1077.3L2189.6 1082.3M1687.6 1040.7L1692.6 1040.7M1687.6 967.6L1692.6 967.6M1687.6 894.4L1692.6 894.4M1687.6 821.2L1692.6 821.2M1687.6 748.1L1692.6 748.1M1687.6 674.9L1692.6 674.9" stroke="#000" stroke-width="2.6" fill="none"/>
<text x="1976" y="1150.3" font-size="38.5" textLength="55" lengthAdjust="spacingAndGlyphs">CIE</text>
<text x="2012.5" y="1158.6" font-size="27">y</text>
<text x="1634.5" y="849" font-size="34" transform="rotate(-90 1634.5 849)">EQE / %</text>
<path d="M188.6 1263.8h0M201.7 1303.3h0M211.7 1326.4h0M220.2 1342.8h0M227.6 1355.5h0M234.4 1365.9h0M240.6 1374.7h0M246.3 1382.3h0M251.8 1389h0M256.9 1395h0M261.8 1400.4h0M266.4 1405.4h0M270.9 1410h0M275.2 1414.2h0M279.3 1418.1h0M283.4 1421.8h0M287.2 1425.2h0M291 1428.5h0M294.7 1431.6h0M298.3 1434.5h0M301.8 1437.3h0M305.2 1439.9h0M308.5 1442.5h0M311.7 1444.9h0M314.9 1447.2h0M318.1 1449.5h0M321.1 1451.6h0M324.1 1453.7h0M327.1 1455.7h0M330 1457.6h0M332.9 1459.5h0M335.7 1461.3h0M338.5 1463h0M341.2 1464.7h0M343.9 1466.4h0M346.5 1468h0M349.1 1469.6h0M351.7 1471.1h0M354.3 1472.6h0M356.8 1474h0M359.3 1475.4h0M361.7 1476.8h0M364.1 1478.1h0M366.5 1479.4h0M368.9 1480.7h0M371.2 1481.9h0M373.6 1483.2h0M375.8 1484.3h0M378.1 1485.5h0M380.4 1486.6h0M382.6 1487.7h0M384.8 1488.8h0M387 1489.9h0M389.1 1490.9h0M391.3 1492h0M393.4 1493h0M395.5 1494h0M397.6 1494.9h0M399.6 1495.9h0M401.7 1496.8h0M403.7 1497.8h0M405.7 1498.7h0M407.7 1499.6h0M409.7 1500.5h0M411.7 1501.3h0M413.6 1502.2h0M415.6 1503h0M417.5 1503.8h0M419.4 1504.7h0M421.3 1505.5h0M423.2 1506.3h0M425 1507h0M426.9 1507.8h0M428.7 1508.6h0M430.6 1509.3h0M432.4 1510.1h0M434.2 1510.8h0M436 1511.5h0M437.8 1512.2h0M439.5 1512.9h0M441.3 1513.6h0M443 1514.3h0M444.8 1514.9h0M446.5 1515.6h0M448.2 1516.2h0M449.9 1516.8h0M451.6 1517.5h0M453.3 1518.1h0M455 1518.7h0M456.7 1519.3h0M458.3 1519.9h0M460 1520.5h0M461.6 1521.1h0M463.3 1521.6h0M464.9 1522.2h0M466.5 1522.8h0M468.1 1523.3h0M469.7 1523.9h0M471.3 1524.4h0M472.9 1525h0M474.5 1525.5h0M476 1526h0M477.6 1526.6h0M479.1 1527.1h0M480.7 1527.6h0M482.2 1528.1h0M483.7 1528.6h0M485.3 1529.1h0M486.8 1529.6h0M488.3 1530.1h0M489.8 1530.6h0M491.3 1531.1h0M492.8 1531.5h0M494.3 1532h0M495.7 1532.5h0M497.2 1532.9h0M498.7 1533.4h0M500.1 1533.9h0M501.6 1534.3h0M503 1534.8h0M504.5 1535.2h0M505.9 1535.6h0M507.3 1536.1h0M508.7 1536.5h0M510.2 1536.9h0M511.6 1537.4h0M513 1537.8h0M514.4 1538.2h0M515.8 1538.7h0M517.2 1539.1h0M518.5 1539.5h0M519.9 1539.9h0M521.3 1540.3h0M522.7 1540.7h0M524 1541.2h0M525.4 1541.6h0M526.7 1542h0M528.1 1542.4h0M529.4 1542.8h0M530.8 1543.1h0M532.1 1543.5h0M533.4 1543.9h0M534.7 1544.3h0M536.1 1544.7h0M537.4 1545.1h0M538.7 1545.4h0M540 1545.8h0M541.3 1546.2h0M542.6 1546.6h0M543.9 1546.9h0M545.2 1547.3h0M546.4 1547.6h0M547.7 1548h0M549 1548.4h0M550.3 1548.7h0M551.5 1549.1h0M552.8 1549.4h0M554.1 1549.8h0M555.3 1550.1h0M556.6 1550.4h0M557.8 1550.8h0M559 1551.1h0M560.3 1551.5h0M561.5 1551.8h0M562.8 1552.1h0M564 1552.4h0M565.2 1552.8h0M566.4 1553.1h0M567.6 1553.4h0M568.9 1553.7h0M570.1 1554.1h0M571.3 1554.4h0M572.5 1554.7h0M573.7 1555h0M574.9 1555.3h0M576.1 1555.6h0M577.3 1555.9h0M578.4 1556.3h0M579.6 1556.6h0M580.8 1556.9h0M582 1557.2h0M583.1 1557.5h0M584.3 1557.9h0M585.5 1558.2h0M586.6 1558.5h0M587.8 1558.9h0M589 1559.2h0M590.1 1559.6h0M591.3 1559.9h0M592.4 1560.2h0M593.6 1560.6h0M594.7 1560.9h0M595.8 1561.2h0M597 1561.5h0M598.1 1561.9h0M599.2 1562.2h0M600.4 1562.5h0M601.5 1562.8h0M602.6 1563.1h0M603.7 1563.5h0M604.8 1563.8h0M605.9 1564.1h0M607.1 1564.4h0M608.2 1564.7h0M609.3 1565h0M610.4 1565.3h0M611.5 1565.6h0M612.6 1565.9h0M613.7 1566.2h0M614.8 1566.6h0M615.8 1566.9h0M616.9 1567.2h0M618 1567.5h0M619.1 1567.7h0M620.2 1568h0M621.2 1568.3h0M622.3 1568.6h0M623.4 1568.9h0M624.5 1569.2h0M625.5 1569.5h0M626.6 1569.8h0M627.6 1570.1h0M628.7 1570.4h0M629.8 1570.7h0M630.8 1570.9h0M631.9 1571.2h0M632.9 1571.5h0M634 1571.8h0M635 1572.1h0M636.1 1572.3h0M637.1 1572.6h0M638.1 1572.9h0M639.2 1573.2h0M640.2 1573.4h0M641.2 1573.7h0M642.3 1574h0M643.3 1574.2h0M644.3 1574.5h0M645.3 1574.8h0M646.4 1575h0M647.4 1575.3h0M648.4 1575.6h0M649.4 1575.8h0M650.4 1576.1h0M651.4 1576.4h0M652.4 1576.6h0M653.4 1576.9h0M654.4 1577.2h0M655.4 1577.5h0M656.4 1577.8h0M657.4 1578.1h0M658.4 1578.4h0M659.4 1578.7h0M660.4 1579h0M661.4 1579.2h0M662.4 1579.5h0M663.4 1579.8h0M664.4 1580.1h0M665.4 1580.4h0M666.3 1580.7h0M667.3 1580.9h0M668.3 1581.2h0M669.3 1581.5h0M670.2 1581.8h0M671.2 1582.1h0M672.2 1582.3h0M673.2 1582.6h0M674.1 1582.9h0M675.1 1583.2h0M676 1583.4h0M677 1583.7h0M678 1584h0M678.9 1584.3h0M679.9 1584.5h0M680.8 1584.8h0M681.8 1585.1h0M682.7 1585.3h0M683.7 1585.6h0M684.6 1585.9h0M685.6 1586.1h0M686.5 1586.4h0M687.5 1586.7h0M688.4 1586.9h0M689.3 1587.2h0M690.3 1587.4h0M691.2 1587.7h0M692.1 1588h0M693.1 1588.2h0M694 1588.5h0M694.9 1588.7h0M695.9 1589h0M696.8 1589.2h0M697.7 1589.5h0M698.6 1589.7h0M699.5 1590h0M700.5 1590.2h0M701.4 1590.5h0M702.3 1590.7h0M703.2 1591h0M704.1 1591.2h0M705 1591.5h0M705.9 1591.7h0" stroke="#000" stroke-width="9.4" stroke-linecap="square" fill="none"/>
<path d="M188.6 1313.6h0M201.7 1352.5h0M211.7 1375.1h0M220.2 1391.1h0M227.6 1403.5h0M234.4 1413.7h0M240.6 1422.2h0M246.3 1429.6h0M251.8 1436.1h0M256.9 1441.9h0M261.8 1447.2h0M266.4 1452h0M270.9 1456.5h0M275.2 1460.6h0M279.3 1464.4h0M283.4 1467.9h0M287.2 1471.3h0M291 1474.5h0M294.7 1477.5h0M298.3 1480.3h0M301.8 1483h0M305.2 1485.6h0M308.5 1488.1h0M311.7 1490.5h0M314.9 1492.8h0M318.1 1495h0M321.1 1497.1h0M324.1 1499.2h0M327.1 1501.1h0M330 1503.1h0M332.9 1504.9h0M335.7 1506.7h0M338.5 1508.5h0M341.2 1510.2h0M343.9 1511.8h0M346.5 1513.5h0M349.1 1515h0M351.7 1516.6h0M354.3 1518.1h0M356.8 1519.5h0M359.3 1521h0M361.7 1522.4h0M364.1 1523.7h0M366.5 1525.1h0M368.9 1526.4h0M371.2 1527.7h0M373.6 1529h0M375.8 1530.2h0M378.1 1531.4h0M380.4 1532.6h0M382.6 1533.8h0M384.8 1534.9h0M387 1536h0M389.1 1537.1h0M391.3 1538.2h0M393.4 1539.3h0M395.5 1540.3h0M397.6 1541.3h0M399.6 1542.3h0M401.7 1543.3h0M403.7 1544.3h0M405.7 1545.3h0M407.7 1546.2h0M409.7 1547.1h0M411.7 1548h0M413.6 1548.9h0M415.6 1549.8h0M417.5 1550.6h0M419.4 1551.5h0M421.3 1552.3h0M423.2 1553.1h0M425 1553.9h0M426.9 1554.7h0M428.7 1555.5h0M430.6 1556.2h0M432.4 1557h0M434.2 1557.7h0M436 1558.4h0M437.8 1559.1h0M439.5 1559.8h0M441.3 1560.5h0M443 1561.2h0M444.8 1561.9h0M446.5 1562.5h0M448.2 1563.2h0M449.9 1563.8h0M451.6 1564.4h0M453.3 1565h0M455 1565.6h0M456.7 1566.2h0M458.3 1566.8h0M460 1567.4h0M461.6 1568h0M463.3 1568.5h0M464.9 1569.1h0M466.5 1569.6h0M468.1 1570.1h0M469.7 1570.7h0M471.3 1571.2h0M472.9 1571.7h0M474.5 1572.2h0M476 1572.7h0M477.6 1573.2h0M479.1 1573.7h0M480.7 1574.2h0M482.2 1574.7h0M483.7 1575.1h0M485.3 1575.6h0M486.8 1576.1h0M488.3 1576.5h0M489.8 1577h0M491.3 1577.4h0M492.8 1577.9h0M494.3 1578.3h0M495.7 1578.7h0M497.2 1579.2h0M498.7 1579.6h0M500.1 1580h0M501.6 1580.4h0M503 1580.8h0M504.5 1581.3h0M505.9 1581.7h0M507.3 1582.1h0M508.7 1582.5h0M510.2 1582.9h0M511.6 1583.3h0M513 1583.7h0M514.4 1584h0M515.8 1584.4h0M517.2 1584.8h0M518.5 1585.2h0M519.9 1585.6h0M521.3 1586h0M522.7 1586.3h0M524 1586.7h0M525.4 1587.1h0M526.7 1587.4h0M528.1 1587.8h0M529.4 1588.2h0M530.8 1588.5h0M532.1 1588.9h0M533.4 1589.2h0M534.7 1589.6h0M536.1 1590h0M537.4 1590.3h0M538.7 1590.7h0M540 1591h0M541.3 1591.3h0M542.6 1591.7h0M543.9 1592h0M545.2 1592.4h0M546.4 1592.7h0M547.7 1593.1h0M549 1593.4h0M550.3 1593.7h0M551.5 1594.1h0M552.8 1594.4h0M554.1 1594.7h0M555.3 1595.1h0M556.6 1595.4h0M557.8 1595.7h0M559 1596h0M560.3 1596.4h0M561.5 1596.7h0M562.8 1597h0M564 1597.3h0M565.2 1597.6h0M566.4 1598h0M567.6 1598.3h0M568.9 1598.6h0M570.1 1598.9h0M571.3 1599.2h0M572.5 1599.5h0M573.7 1599.8h0M574.9 1600.1h0M576.1 1600.4h0M577.3 1600.7h0M578.4 1601h0M579.6 1601.3h0M580.8 1601.6h0M582 1601.9h0M583.1 1602.2h0M584.3 1602.5h0M585.5 1602.8h0M586.6 1603.1h0M587.8 1603.4h0M589 1603.7h0M590.1 1604h0M591.3 1604.3h0M592.4 1604.6h0M593.6 1604.9h0M594.7 1605.1h0M595.8 1605.4h0M597 1605.7h0M598.1 1606h0M599.2 1606.3h0M600.4 1606.6h0M601.5 1606.8h0M602.6 1607.1h0M603.7 1607.4h0M604.8 1607.7h0M605.9 1607.9h0M607.1 1608.2h0M608.2 1608.5h0M609.3 1608.7h0M610.4 1609h0M611.5 1609.3h0M612.6 1609.6h0M613.7 1609.8h0M614.8 1610.1h0M615.8 1610.3h0M616.9 1610.6h0M618 1610.9h0M619.1 1611.1h0M620.2 1611.4h0M621.2 1611.6h0M622.3 1611.9h0M623.4 1612.2h0M624.5 1612.4h0M625.5 1612.7h0M626.6 1612.9h0M627.6 1613.2h0M628.7 1613.4h0M629.8 1613.7h0M630.8 1613.9h0M631.9 1614.2h0M632.9 1614.4h0M634 1614.7h0M635 1614.9h0M636.1 1615.1h0M637.1 1615.4h0M638.1 1615.6h0M639.2 1615.9h0M640.2 1616.1h0M641.2 1616.3h0M642.3 1616.6h0M643.3 1616.8h0M644.3 1617h0M645.3 1617.3h0M646.4 1617.5h0M647.4 1617.7h0M648.4 1618h0M649.4 1618.2h0M650.4 1618.4h0M651.4 1618.7h0M652.4 1618.9h0M653.4 1619.1h0M654.4 1619.3h0M655.4 1619.6h0M656.4 1619.8h0M657.4 1620h0M658.4 1620.2h0M659.4 1620.5h0M660.4 1620.7h0M661.4 1620.9h0M662.4 1621.1h0M663.4 1621.3h0M664.4 1621.6h0M665.4 1621.8h0M666.3 1622h0M667.3 1622.2h0M668.3 1622.4h0M669.3 1622.6h0M670.2 1622.9h0M671.2 1623.1h0M672.2 1623.3h0M673.2 1623.5h0M674.1 1623.7h0M675.1 1623.9h0M676 1624.1h0M677 1624.3h0M678 1624.5h0M678.9 1624.7h0M679.9 1624.9h0M680.8 1625.1h0M681.8 1625.3h0M682.7 1625.5h0M683.7 1625.8h0M684.6 1626h0M685.6 1626.2h0M686.5 1626.4h0M687.5 1626.6h0M688.4 1626.8h0M689.3 1626.9h0M690.3 1627.1h0M691.2 1627.3h0M692.1 1627.5h0M693.1 1627.7h0M694 1627.9h0M694.9 1628.1h0M695.9 1628.3h0M696.8 1628.5h0M697.7 1628.7h0M698.6 1628.9h0M699.5 1629.1h0M700.5 1629.3h0M701.4 1629.5h0M702.3 1629.7h0M703.2 1629.8h0M704.1 1630h0M705 1630.2h0M705.9 1630.4h0" stroke="#0000ff" stroke-width="10.8" stroke-linecap="round" fill="none"/>
<rect x="513.6" y="1225" width="9.8" height="9.8" fill="#000"/>
<circle cx="518.5" cy="1259.5" r="5.5" fill="#0000ff"/>
<text x="549.5" y="1237.3" font-size="23.2" text-anchor="start">Electron-only</text>
<text x="549.5" y="1267.3" font-size="23.2" text-anchor="start">Hole-only</text>
<rect x="157" y="1195" width="566.6" height="455.8" fill="none" stroke="#000" stroke-width="3.6"/>
<text x="157" y="1689.2" font-size="30" textLength="15.2" lengthAdjust="spacingAndGlyphs">0</text>
<text x="298.6" y="1689.2" font-size="30" textLength="45.6" lengthAdjust="spacingAndGlyphs">200</text>
<text x="440.3" y="1689.2" font-size="30" textLength="45.6" lengthAdjust="spacingAndGlyphs">400</text>
<text x="582" y="1689.2" font-size="30" textLength="45.6" lengthAdjust="spacingAndGlyphs">600</text>
<text x="723.6" y="1689.2" font-size="30" textLength="45.6" lengthAdjust="spacingAndGlyphs">800</text>
<text x="140.6" y="1204.4" font-size="30" text-anchor="end" textLength="38.6" lengthAdjust="spacingAndGlyphs">-22</text>
<text x="140.6" y="1318.4" font-size="30" text-anchor="end" textLength="38.6" lengthAdjust="spacingAndGlyphs">-24</text>
<text x="140.6" y="1432.3" font-size="30" text-anchor="end" textLength="38.6" lengthAdjust="spacingAndGlyphs">-26</text>
<text x="140.6" y="1546.2" font-size="30" text-anchor="end" textLength="38.6" lengthAdjust="spacingAndGlyphs">-28</text>
<text x="140.6" y="1660.2" font-size="30" text-anchor="end" textLength="38.6" lengthAdjust="spacingAndGlyphs">-30</text>
<path d="M157 1650.8L157 1660.4M298.6 1650.8L298.6 1660.4M440.3 1650.8L440.3 1660.4M582 1650.8L582 1660.4M723.6 1650.8L723.6 1660.4M147.7 1195L157 1195M147.7 1309L157 1309M147.7 1422.9L157 1422.9M147.7 1536.8L157 1536.8M147.7 1650.8L157 1650.8" stroke="#000" stroke-width="3" fill="none"/>
<path d="M227.8 1650.8L227.8 1655.4M369.5 1650.8L369.5 1655.4M511.1 1650.8L511.1 1655.4M652.8 1650.8L652.8 1655.4M152.4 1252L157 1252M152.4 1365.9L157 1365.9M152.4 1479.9L157 1479.9M152.4 1593.8L157 1593.8" stroke="#000" stroke-width="2.6" fill="none"/>
<text x="439" y="1725.6" font-size="36.3" textLength="274.9" lengthAdjust="spacingAndGlyphs">(V/L)<tspan dy="-12" font-size="24">0.5</tspan><tspan dy="12"> / (V/cm)</tspan><tspan dy="-12" font-size="24">0.5</tspan></text>
<text x="92.6" y="1422" font-size="36.3" transform="rotate(-90 92.6 1422)" textLength="340.6" lengthAdjust="spacingAndGlyphs">ln(JL<tspan dy="-12" font-size="24">3</tspan><tspan dy="12">/V</tspan><tspan dy="-12" font-size="24">2</tspan><tspan dy="12">) / mA cm/V</tspan><tspan dy="-12" font-size="24">2</tspan></text>
<path d="M936.8 1505.3L953.6 1493.5" stroke="#000" stroke-width="5" fill="none"/>
<path d="M968.3 1481.8L987.8 1465.8M1001.8 1455.8L1018.7 1445.2M1033.3 1436.1L1045.7 1428.5M1060.2 1419.3L1068.2 1414M1082.9 1405L1087.1 1402.6M1101.9 1393.8L1103.6 1392.7" fill="none" stroke="#000" stroke-width="5"/>
<use href="#mh" x="961.6" y="1487.2"/><use href="#mh" x="994.5" y="1460.4"/><use href="#mh" x="1026" y="1440.6"/><use href="#mh" x="1053" y="1424"/><use href="#mh" x="1075.4" y="1409.3"/><use href="#mh" x="1094.6" y="1398.3"/><use href="#mh" x="1110.9" y="1388.2"/><use href="#mh" x="1125.7" y="1378.8"/><use href="#mh" x="1139.3" y="1370.7"/><use href="#mh" x="1151" y="1363.4"/><use href="#mh" x="1161.5" y="1356.4"/><use href="#mh" x="1171.8" y="1350.1"/><use href="#mh" x="1181.8" y="1344.5"/><use href="#mh" x="1190.8" y="1339.2"/><use href="#mh" x="1199.9" y="1334.2"/><use href="#mh" x="1208.5" y="1329.6"/><use href="#mh" x="1216.5" y="1325"/><use href="#mh" x="1224.3" y="1320.8"/><use href="#mh" x="1232" y="1316.6"/><use href="#mh" x="1238.7" y="1312.9"/><use href="#mh" x="1244.5" y="1309.8"/><use href="#mh" x="1250.2" y="1306.8"/><use href="#mh" x="1255.7" y="1303.8"/><use href="#mh" x="1261.1" y="1300.9"/><use href="#mh" x="1266.4" y="1298.2"/><use href="#mh" x="1271.5" y="1295.4"/><use href="#mh" x="1276.5" y="1292.7"/><use href="#mh" x="1281.4" y="1290.1"/><use href="#mh" x="1286.2" y="1287.6"/><use href="#mh" x="1290.8" y="1285.2"/><use href="#mh" x="1295.4" y="1282.9"/><use href="#mh" x="1299.9" y="1280.8"/><use href="#mh" x="1304.4" y="1278.8"/><use href="#mh" x="1308.7" y="1276.9"/><use href="#mh" x="1313" y="1275.1"/><use href="#mh" x="1317.2" y="1273.4"/><use href="#mh" x="1321.3" y="1271.7"/><use href="#mh" x="1325.3" y="1270.1"/><use href="#mh" x="1329.1" y="1268.6"/><use href="#mh" x="1332.9" y="1267.1"/><use href="#mh" x="1342.9" y="1260.8"/><use href="#mh" x="1346.3" y="1259.3"/><use href="#mh" x="1349.7" y="1257.8"/><use href="#mh" x="1353" y="1256.3"/><use href="#mh" x="1356.4" y="1254.8"/><use href="#mh" x="1359.9" y="1253.4"/><use href="#mh" x="1363.3" y="1252.1"/><use href="#mh" x="1366.8" y="1250.9"/><use href="#mh" x="1370.3" y="1249.8"/><use href="#mh" x="1373.9" y="1248.7"/><use href="#mh" x="1377.4" y="1247.6"/><use href="#mh" x="1381" y="1246.6"/><use href="#mh" x="1384.6" y="1245.7"/><use href="#mh" x="1388.2" y="1244.8"/><use href="#mh" x="1391.8" y="1244"/><use href="#mh" x="1395.4" y="1243.3"/><use href="#mh" x="1399" y="1242.6"/><use href="#mh" x="1402.7" y="1241.9"/><use href="#mh" x="1406.3" y="1241.1"/><use href="#mh" x="1409.9" y="1240.1"/><use href="#mh" x="1413.4" y="1239.1"/><use href="#mh" x="1417" y="1238.1"/><use href="#mh" x="1418.5" y="1237.6"/>
<rect x="936.8" y="1195.1" width="564.7" height="455.6" fill="none" stroke="#000" stroke-width="3.6"/>
<text x="967.2" y="1692.1" font-size="30.1" text-anchor="start" textLength="30.5" lengthAdjust="spacingAndGlyphs">10</text>
<text x="998.5" y="1681.7" font-size="20.5" text-anchor="start" textLength="10.3" lengthAdjust="spacingAndGlyphs">0</text>
<text x="1138.4" y="1692.1" font-size="30.1" text-anchor="start" textLength="30.5" lengthAdjust="spacingAndGlyphs">10</text>
<text x="1169.7" y="1681.7" font-size="20.5" text-anchor="start" textLength="10.3" lengthAdjust="spacingAndGlyphs">1</text>
<text x="1309.6" y="1692.1" font-size="30.1" text-anchor="start" textLength="30.5" lengthAdjust="spacingAndGlyphs">10</text>
<text x="1340.9" y="1681.7" font-size="20.5" text-anchor="start" textLength="10.3" lengthAdjust="spacingAndGlyphs">2</text>
<text x="1480.8" y="1692.1" font-size="30.1" text-anchor="start" textLength="30.5" lengthAdjust="spacingAndGlyphs">10</text>
<text x="1512.1" y="1681.7" font-size="20.5" text-anchor="start" textLength="10.3" lengthAdjust="spacingAndGlyphs">3</text>
<text x="881" y="1661.5" font-size="30.1" text-anchor="start" textLength="30.5" lengthAdjust="spacingAndGlyphs">10</text>
<text x="912.3" y="1650.3" font-size="20.5" text-anchor="start" textLength="10.3" lengthAdjust="spacingAndGlyphs">0</text>
<text x="881" y="1547.6" font-size="30.1" text-anchor="start" textLength="30.5" lengthAdjust="spacingAndGlyphs">10</text>
<text x="912.3" y="1536.4" font-size="20.5" text-anchor="start" textLength="10.3" lengthAdjust="spacingAndGlyphs">1</text>
<text x="881" y="1433.7" font-size="30.1" text-anchor="start" textLength="30.5" lengthAdjust="spacingAndGlyphs">10</text>
<text x="912.3" y="1422.5" font-size="20.5" text-anchor="start" textLength="10.3" lengthAdjust="spacingAndGlyphs">2</text>
<text x="881" y="1319.8" font-size="30.1" text-anchor="start" textLength="30.5" lengthAdjust="spacingAndGlyphs">10</text>
<text x="912.3" y="1308.6" font-size="20.5" text-anchor="start" textLength="10.3" lengthAdjust="spacingAndGlyphs">3</text>
<text x="881" y="1205.9" font-size="30.1" text-anchor="start" textLength="30.5" lengthAdjust="spacingAndGlyphs">10</text>
<text x="912.3" y="1194.7" font-size="20.5" text-anchor="start" textLength="10.3" lengthAdjust="spacingAndGlyphs">4</text>
<path d="M988 1650.7L988 1659.7M1159.2 1650.7L1159.2 1659.7M1330.4 1650.7L1330.4 1659.7M1501.6 1650.7L1501.6 1659.7M927.8 1650.7L936.8 1650.7M927.8 1536.8L936.8 1536.8M927.8 1422.9L936.8 1422.9M927.8 1309L936.8 1309M927.8 1195.1L936.8 1195.1" stroke="#000" stroke-width="3.2" fill="none"/>
<path d="M950 1650.7L950 1655.5M961.5 1650.7L961.5 1655.5M971.4 1650.7L971.4 1655.5M980.2 1650.7L980.2 1655.5M1039.5 1650.7L1039.5 1655.5M1069.7 1650.7L1069.7 1655.5M1091.1 1650.7L1091.1 1655.5M1107.7 1650.7L1107.7 1655.5M1121.2 1650.7L1121.2 1655.5M1132.7 1650.7L1132.7 1655.5M1142.6 1650.7L1142.6 1655.5M1151.4 1650.7L1151.4 1655.5M1210.7 1650.7L1210.7 1655.5M1240.9 1650.7L1240.9 1655.5M1262.3 1650.7L1262.3 1655.5M1278.9 1650.7L1278.9 1655.5M1292.4 1650.7L1292.4 1655.5M1303.9 1650.7L1303.9 1655.5M1313.8 1650.7L1313.8 1655.5M1322.6 1650.7L1322.6 1655.5M1381.9 1650.7L1381.9 1655.5M1412.1 1650.7L1412.1 1655.5M1433.5 1650.7L1433.5 1655.5M1450.1 1650.7L1450.1 1655.5M1463.6 1650.7L1463.6 1655.5M1475.1 1650.7L1475.1 1655.5M1485 1650.7L1485 1655.5M1493.8 1650.7L1493.8 1655.5M932 1616.4L936.8 1616.4M932 1596.4L936.8 1596.4M932 1582.1L936.8 1582.1M932 1571.1L936.8 1571.1M932 1562.1L936.8 1562.1M932 1554.4L936.8 1554.4M932 1547.8L936.8 1547.8M932 1542L936.8 1542M932 1502.5L936.8 1502.5M932 1482.5L936.8 1482.5M932 1468.2L936.8 1468.2M932 1457.2L936.8 1457.2M932 1448.2L936.8 1448.2M932 1440.5L936.8 1440.5M932 1433.9L936.8 1433.9M932 1428.1L936.8 1428.1M932 1388.6L936.8 1388.6M932 1368.6L936.8 1368.6M932 1354.3L936.8 1354.3M932 1343.3L936.8 1343.3M932 1334.3L936.8 1334.3M932 1326.6L936.8 1326.6M932 1320L936.8 1320M932 1314.2L936.8 1314.2M932 1274.7L936.8 1274.7M932 1254.7L936.8 1254.7M932 1240.4L936.8 1240.4M932 1229.4L936.8 1229.4M932 1220.4L936.8 1220.4M932 1212.7L936.8 1212.7M932 1206.1L936.8 1206.1M932 1200.3L936.8 1200.3" stroke="#000" stroke-width="2.6" fill="none"/>
<text x="1219.5" y="1724.6" font-size="36.6" textLength="417.7" lengthAdjust="spacingAndGlyphs">Current density / mA cm<tspan dy="-11" font-size="24.1">-2</tspan></text>
<text x="867.2" y="1422" font-size="36" transform="rotate(-90 867.2 1422)" textLength="309.8" lengthAdjust="spacingAndGlyphs">Luminance / cd m<tspan dy="-10.8" font-size="23.8">-2</tspan></text>
<g clip-path="url(#ci)">
<path d="M1693.4 1294.3L1694.1 1288.5L1694.8 1284.2L1695.5 1289.5L1696.2 1295.1L1696.9 1290.7L1697.7 1287L1698.4 1283.3L1699.1 1292.4L1699.8 1295.9L1700.5 1287.4L1701.2 1286L1701.9 1281.2L1702.6 1282L1703.3 1286.9L1704 1289.2L1704.8 1277.9L1705.5 1286.3L1706.2 1291.4L1706.9 1294.7L1707.6 1289.8L1708.3 1288.1L1709 1289.9L1709.7 1289.1L1710.4 1287.3L1711.1 1285L1711.8 1282.6L1712.6 1285.6L1713.3 1296L1714 1287.3L1714.7 1294.7L1715.4 1290.9L1716.1 1296.2L1716.8 1290.5L1717.5 1292.6L1718.2 1288.5L1718.9 1274.9L1719.7 1284.1L1720.4 1283.3L1721.1 1292.8L1721.8 1290.9L1722.5 1286L1723.2 1288L1723.9 1286.5L1724.6 1287.2L1725.3 1292.6L1726 1286.9L1726.7 1291.5L1727.5 1281.1L1728.2 1288.2L1728.9 1285.1L1729.6 1287.2L1730.3 1283.7L1731 1289.5L1731.7 1284.1L1732.4 1287.4L1733.1 1282.4L1733.8 1283.6L1734.6 1286.1L1735.3 1291L1736 1285.5L1736.7 1285.2L1737.4 1280.2L1738.1 1287.3L1738.8 1285.3L1739.5 1285L1740.2 1285.8L1740.9 1286.4L1741.6 1286.7L1742.4 1290.3L1743.1 1293.5L1743.8 1291.4L1744.5 1286.3L1745.2 1281L1745.9 1281.7L1746.6 1281.5L1747.3 1282.6L1748 1283.3L1748.7 1285.7L1749.5 1283.9L1750.2 1279.2L1750.9 1286.6L1751.6 1290.7L1752.3 1280.3L1753 1284.4L1753.7 1282.6L1754.4 1282.5L1755.1 1291.4L1755.8 1278.6L1756.5 1277.7L1757.3 1283.8L1758 1283.3L1758.7 1285.9L1759.4 1291.3L1760.1 1289.3L1760.8 1286.6L1761.5 1282.6L1762.2 1283.1L1762.9 1286.1L1763.6 1281.4L1764.4 1289.2L1765.1 1284.7L1765.8 1282L1766.5 1287.2L1767.2 1296.2L1767.9 1294.5L1768.6 1288.6L1769.3 1285.6L1770 1280.5L1770.7 1290L1771.4 1288.3L1772.2 1285L1772.9 1287.5L1773.6 1299.3L1774.3 1287.2L1775 1277.8L1775.7 1280.3L1776.4 1289.5L1777.1 1290.1L1777.8 1287.3L1778.5 1277.1L1779.2 1281.7L1780 1285.2L1780.7 1280.2L1781.4 1285.6L1782.1 1279.1L1782.8 1287.9L1783.5 1289.8L1784.2 1285L1784.9 1280.7L1785.6 1282.6L1786.3 1284.7L1787.1 1295.3L1787.8 1293.1L1788.5 1292L1789.2 1291.3L1789.9 1285.9L1790.6 1288.5L1791.3 1284.3L1792 1286.1L1792.7 1288.5L1793.4 1287.2L1794.1 1285.4L1794.9 1283.1L1795.6 1288.2L1796.3 1288.7L1797 1294.3L1797.7 1282.3L1798.4 1279.7L1799.1 1285.7L1799.8 1289L1800.5 1293.7L1801.2 1288.4L1802 1286.7L1802.7 1278L1803.4 1283.3L1804.1 1289.6L1804.8 1300.2L1805.5 1298.8L1806.2 1272.7L1806.9 1298.9L1807.6 1314.2L1808.3 1314.7L1809 1324.5L1809.8 1318.6L1810.5 1336.7L1811.2 1331.9L1811.9 1340.5L1812.6 1341L1813.3 1335.9L1814 1332.3L1814.7 1340.2L1815.4 1353.2L1816.1 1338L1816.9 1335.8L1817.6 1340.6L1818.3 1337.7L1819 1324.6L1819.7 1324.4L1820.4 1329.9L1821.1 1318.6L1821.8 1345.5L1822.5 1335.4L1823.2 1326.3L1823.9 1340.5L1824.7 1338.6L1825.4 1339L1826.1 1351.8L1826.8 1342L1827.5 1347.6L1828.2 1349.3L1828.9 1358.8L1829.6 1350.4L1830.3 1362.9L1831 1354.4L1831.8 1368.4L1832.5 1369.6L1833.2 1377.4L1833.9 1370L1834.6 1379.6L1835.3 1388.9L1836 1375.2L1836.7 1378.8L1837.4 1378.8L1838.1 1403L1838.8 1420.5L1839.6 1426.8L1840.3 1377.8L1841 1371.8L1841.7 1431.4L1842.4 1418.6L1843.1 1416.6L1843.8 1414.8L1844.5 1460.6L1845.2 1431.4L1845.9 1424.7L1846.7 1403L1847.4 1409.5L1848.1 1404.6L1848.8 1441.6L1849.5 1447.3L1850.2 1414.8L1850.9 1436.3L1851.6 1401.5L1852.3 1438.9L1853 1424.7L1853.7 1422.6L1854.5 1433.8L1855.2 1460.6L1855.9 1424.7L1856.6 1460.6L1857.3 1429.1L1858 1413L1858.7 1450.4L1859.4 1447.3L1860.1 1457L1860.8 1453.6L1861.6 1457L1862.3 1464.4L1863 1460.6L1863.7 1460.6L1864.4 1424.7L1865.1 1453.6L1865.8 1464.4L1866.5 1436.3L1867.2 1464.4L1867.9 1482.1L1868.6 1450.4L1869.4 1429.1L1870.1 1447.3L1870.8 1453.6L1871.5 1482.1L1872.2 1464.4L1872.9 1468.4L1873.6 1460.6L1874.3 1460.6L1875 1464.4L1875.7 1460.6L1876.5 1460.6L1877.2 1453.6L1877.9 1487.4L1878.6 1477.2L1879.3 1453.6L1880 1460.6L1880.7 1444.4L1881.4 1523L1882.1 1441.6L1882.8 1482.1L1883.5 1468.4L1884.3 1468.4L1885 1499.5L1885.7 1464.4L1886.4 1460.6L1887.1 1468.4L1887.8 1506.4L1888.5 1441.6L1889.2 1460.6L1889.9 1472.7L1890.6 1444.4L1891.4 1477.2L1892.1 1493.2L1892.8 1457L1893.5 1464.4L1894.2 1460.6L1894.9 1482.1L1895.6 1441.6L1896.3 1477.2L1897 1499.5L1897.7 1506.4L1898.4 1477.2L1899.2 1506.4L1899.9 1460.6L1900.6 1487.4L1901.3 1472.7L1902 1464.4L1902.7 1477.2L1903.4 1487.4L1904.1 1493.2L1904.8 1468.4L1905.5 1477.2L1906.2 1477.2L1907 1499.5L1907.7 1482.1L1908.4 1545.3L1909.1 1477.2L1909.8 1487.4L1910.5 1499.5L1911.2 1506.4L1911.9 1514.2L1912.6 1482.1L1913.3 1523L1914.1 1533.2L1914.8 1605.9L1915.5 1523L1916.2 1506.4L1916.9 1506.4L1917.6 1506.4L1918.3 1472.7L1919 1506.4L1919.7 1493.2L1920.4 1545.3L1921.1 1506.4L1921.9 1482.1L1922.6 1533.2L1923.3 1523L1924 1545.3L1924.7 1523L1925.4 1493.2L1926.1 1514.2L1926.8 1651.7L1927.5 1514.2L1928.2 1514.2L1929 1523L1929.7 1482.1L1930.4 1506.4L1931.1 1499.5L1931.8 1506.4L1932.5 1523L1933.2 1477.2L1933.9 1506.4L1934.6 1506.4L1935.3 1487.4L1936 1506.4L1936.8 1533.2L1937.5 1523L1938.2 1560L1938.9 1514.2L1939.6 1514.2L1940.3 1533.2L1941 1499.5L1941.7 1493.2L1942.4 1579.1L1943.1 1545.3L1943.9 1493.2L1944.6 1506.4L1945.3 1523L1946 1560L1946.7 1533.2L1947.4 1533.2L1948.1 1605.9L1948.8 1533.2L1949.5 1533.2L1950.2 1545.3L1950.9 1514.2L1951.7 1545.3L1952.4 1533.2L1953.1 1545.3L1953.8 1579.1L1954.5 1545.3L1955.2 1579.1L1955.9 1545.3L1956.6 1477.2L1957.3 1560L1958 1487.4L1958.8 1533.2L1959.5 1545.3L1960.2 1560L1960.9 1533.2L1961.6 1651.7L1962.3 1560L1963 1533.2L1963.7 1605.9L1964.4 1533.2L1965.1 1533.2L1965.8 1533.2L1966.6 1545.3L1967.3 1523L1968 1651.7L1968.7 1533.2L1969.4 1545.3L1970.1 1523L1970.8 1579.1L1971.5 1533.2L1972.2 1579.1L1972.9 1560L1973.7 1533.2L1974.4 1533.2L1975.1 1545.3L1975.8 1523L1976.5 1468.4L1977.2 1545.3L1977.9 1523L1978.6 1681.7L1979.3 1681.7L1980 1545.3L1980.7 1523L1981.5 1533.2L1982.2 1651.7L1982.9 1560L1983.6 1523L1984.3 1605.9L1985 1605.9L1985.7 1579.1L1986.4 1506.4L1987.1 1545.3L1987.8 1499.5L1988.6 1579.1L1989.3 1579.1L1990 1545.3L1990.7 1579.1L1991.4 1533.2L1992.1 1545.3L1992.8 1579.1L1993.5 1545.3L1994.2 1514.2L1994.9 1514.2L1995.6 1560L1996.4 1533.2L1997.1 1499.5L1997.8 1533.2L1998.5 1560L1999.2 1560L1999.9 1533.2L2000.6 1533.2L2001.3 1605.9L2002 1579.1L2002.7 1651.7L2003.5 1523L2004.2 1605.9L2004.9 1514.2L2005.6 1533.2L2006.3 1579.1L2007 1523L2007.7 1605.9L2008.4 1560L2009.1 1545.3L2009.8 1579.1L2010.5 1681.7L2011.3 1506.4L2012 1545.3L2012.7 1523L2013.4 1545.3L2014.1 1651.7L2014.8 1560L2015.5 1560L2016.2 1651.7L2016.9 1560L2017.6 1545.3L2018.4 1506.4L2019.1 1560L2019.8 1560L2020.5 1560L2021.2 1605.9L2021.9 1560L2022.6 1560L2023.3 1579.1L2024 1560L2024.7 1560L2025.4 1493.2L2026.2 1560L2026.9 1579.1L2027.6 1545.3L2028.3 1533.2L2029 1545.3L2029.7 1560L2030.4 1579.1L2031.1 1560L2031.8 1545.3L2032.5 1579.1L2033.3 1545.3L2034 1499.5L2034.7 1506.4L2035.4 1579.1L2036.1 1499.5L2036.8 1533.2L2037.5 1681.7L2038.2 1579.1L2038.9 1560L2039.6 1605.9L2040.3 1605.9L2041.1 1533.2L2041.8 1545.3L2042.5 1514.2L2043.2 1560L2043.9 1579.1L2044.6 1545.3L2045.3 1545.3L2046 1579.1L2046.7 1545.3L2047.4 1533.2L2048.2 1545.3L2048.9 1579.1L2049.6 1523L2050.3 1605.9L2051 1605.9L2051.7 1545.3L2052.4 1560L2053.1 1523L2053.8 1560L2054.5 1533.2L2055.2 1579.1L2056 1651.7L2056.7 1545.3L2057.4 1579.1L2058.1 1533.2L2058.8 1579.1L2059.5 1579.1L2060.2 1605.9L2060.9 1579.1L2061.6 1533.2L2062.3 1523L2063 1560L2063.8 1514.2L2064.5 1545.3L2065.2 1545.3L2065.9 1579.1L2066.6 1514.2L2067.3 1523L2068 1533.2L2068.7 1651.7L2069.4 1533.2L2070.1 1545.3L2070.9 1533.2L2071.6 1545.3L2072.3 1560L2073 1545.3L2073.7 1579.1L2074.4 1533.2L2075.1 1514.2L2075.8 1651.7L2076.5 1605.9L2077.2 1506.4L2077.9 1545.3L2078.7 1651.7L2079.4 1523L2080.1 1545.3L2080.8 1579.1L2081.5 1605.9L2082.2 1545.3L2082.9 1533.2L2083.6 1523L2084.3 1533.2L2085 1499.5L2085.8 1533.2L2086.5 1560L2087.2 1579.1L2087.9 1523L2088.6 1523L2089.3 1579.1L2090 1560L2090.7 1523L2091.4 1560L2092.1 1506.4L2092.8 1651.7L2093.6 1605.9L2094.3 1579.1L2095 1514.2L2095.7 1560L2096.4 1560L2097.1 1533.2L2097.8 1560L2098.5 1605.9L2099.2 1560L2099.9 1499.5L2100.7 1523L2101.4 1523L2102.1 1605.9L2102.8 1560L2103.5 1533.2L2104.2 1533.2L2104.9 1605.9L2105.6 1579.1L2106.3 1605.9L2107 1579.1L2107.7 1579.1L2108.5 1545.3L2109.2 1506.4L2109.9 1545.3L2110.6 1545.3L2111.3 1493.2L2112 1651.7L2112.7 1579.1L2113.4 1560L2114.1 1545.3L2114.8 1545.3L2115.6 1605.9L2116.3 1545.3L2117 1545.3L2117.7 1523L2118.4 1579.1L2119.1 1514.2L2119.8 1533.2L2120.5 1605.9L2121.2 1560L2121.9 1523L2122.6 1579.1L2123.4 1545.3L2124.1 1545.3L2124.8 1560L2125.5 1533.2L2126.2 1579.1L2126.9 1605.9L2127.6 1605.9L2128.3 1533.2L2129 1560L2129.7 1545.3L2130.5 1560L2131.2 1579.1L2131.9 1579.1L2132.6 1651.7L2133.3 1514.2L2134 1560L2134.7 1579.1L2135.4 1514.2L2136.1 1545.3L2136.8 1533.2L2137.5 1560L2138.3 1545.3L2139 1651.7L2139.7 1514.2L2140.4 1579.1L2141.1 1579.1L2141.8 1560L2142.5 1681.7L2143.2 1605.9L2143.9 1545.3L2144.6 1605.9L2145.4 1523L2146.1 1493.2L2146.8 1560L2147.5 1579.1L2148.2 1579.1L2148.9 1605.9L2149.6 1533.2L2150.3 1651.7L2151 1605.9L2151.7 1605.9L2152.4 1579.1L2153.2 1560L2153.9 1506.4L2154.6 1605.9L2155.3 1523L2156 1651.7L2156.7 1523L2157.4 1579.1L2158.1 1545.3L2158.8 1560L2159.5 1651.7L2160.3 1605.9L2161 1533.2L2161.7 1560L2162.4 1545.3L2163.1 1579.1L2163.8 1579.1L2164.5 1579.1L2165.2 1579.1L2165.9 1651.7L2166.6 1560L2167.3 1523L2168.1 1560L2168.8 1533.2L2169.5 1579.1L2170.2 1523L2170.9 1545.3L2171.6 1523L2172.3 1506.4L2173 1605.9L2173.7 1560L2174.4 1533.2L2175.2 1514.2L2175.9 1514.2L2176.6 1506.4L2177.3 1579.1L2178 1605.9L2178.7 1579.1L2179.4 1545.3L2180.1 1545.3L2180.8 1579.1L2181.5 1605.9L2182.2 1579.1L2183 1579.1L2183.7 1533.2L2184.4 1545.3L2185.1 1579.1L2185.8 1579.1L2186.5 1560L2187.2 1545.3L2187.9 1560L2188.6 1533.2L2189.3 1579.1L2190.1 1605.9L2190.8 1560L2191.5 1533.2L2192.2 1651.7L2192.9 1579.1L2193.6 1579.1L2194.3 1523L2195 1651.7L2195.7 1533.2L2196.4 1545.3L2197.1 1514.2L2197.9 1605.9L2198.6 1560L2199.3 1579.1L2200 1545.3L2200.7 1560L2201.4 1523L2202.1 1560L2202.8 1651.7L2203.5 1533.2L2204.2 1545.3L2204.9 1514.2L2205.7 1560L2206.4 1560L2207.1 1605.9L2207.8 1560L2208.5 1579.1L2209.2 1533.2L2209.9 1560L2210.6 1560L2211.3 1545.3L2212 1523L2212.8 1545.3L2213.5 1605.9L2214.2 1533.2L2214.9 1651.7L2215.6 1579.1L2216.3 1533.2L2217 1533.2L2217.7 1651.7L2218.4 1651.7L2219.1 1579.1L2219.8 1545.3L2220.6 1482.1L2221.3 1651.7L2222 1533.2L2222.7 1681.7L2223.4 1579.1L2224.1 1545.3L2224.8 1499.5L2225.5 1651.7L2226.2 1545.3L2226.9 1533.2L2227.7 1523L2228.4 1605.9L2229.1 1560L2229.8 1605.9L2230.5 1605.9L2231.2 1514.2L2231.9 1545.3L2232.6 1605.9L2233.3 1533.2L2234 1533.2L2234.7 1560L2235.5 1533.2L2236.2 1523L2236.9 1533.2L2237.6 1506.4L2238.3 1533.2L2239 1545.3L2239.7 1560L2240.4 1533.2L2241.1 1523L2241.8 1523L2242.6 1523L2243.3 1579.1L2244 1533.2L2244.7 1533.2L2245.4 1579.1L2246.1 1523L2246.8 1605.9L2247.5 1560L2248.2 1605.9L2248.9 1579.1L2249.6 1545.3L2250.4 1545.3L2251.1 1651.7L2251.8 1523L2252.5 1579.1L2253.2 1579.1L2253.9 1560L2254.6 1533.2L2255.3 1560L2256 1514.2L2256.7 1545.3L2257.5 1523L2258.2 1545.3L2258.9 1605.9L2259.6 1545.3L2260.3 1605.9L2261 1579.1" fill="none" stroke="#545454" stroke-width="4.2" stroke-linejoin="round"/>
<path d="M1693.4 1264.8L1694.1 1268L1694.8 1264.9L1695.5 1265.1L1696.2 1257.5L1696.9 1263.5L1697.7 1265.7L1698.4 1264.8L1699.1 1263.7L1699.8 1268.9L1700.5 1266.6L1701.2 1260.8L1701.9 1261.3L1702.6 1262.4L1703.3 1260L1704 1260.7L1704.8 1265.5L1705.5 1259.9L1706.2 1258L1706.9 1259.8L1707.6 1261.7L1708.3 1258L1709 1260L1709.7 1258.5L1710.4 1263L1711.1 1264.8L1711.8 1262.5L1712.6 1267.6L1713.3 1265.8L1714 1266.6L1714.7 1265.6L1715.4 1268.5L1716.1 1262.1L1716.8 1261.1L1717.5 1264.5L1718.2 1262.9L1718.9 1259.4L1719.7 1256.8L1720.4 1260.3L1721.1 1257.8L1721.8 1258.6L1722.5 1263.7L1723.2 1260.1L1723.9 1261.9L1724.6 1255.5L1725.3 1264.5L1726 1261.3L1726.7 1261.3L1727.5 1255.3L1728.2 1262.4L1728.9 1262.2L1729.6 1267.5L1730.3 1260L1731 1263.7L1731.7 1262.8L1732.4 1263.3L1733.1 1259L1733.8 1260.4L1734.6 1257.5L1735.3 1259.6L1736 1259.1L1736.7 1260.4L1737.4 1259.9L1738.1 1260.8L1738.8 1261.5L1739.5 1258.6L1740.2 1261.1L1740.9 1260.9L1741.6 1257L1742.4 1260.3L1743.1 1256L1743.8 1260.9L1744.5 1254.6L1745.2 1257.5L1745.9 1259L1746.6 1256.6L1747.3 1261.8L1748 1260.8L1748.7 1256.2L1749.5 1260.8L1750.2 1257.6L1750.9 1259.6L1751.6 1256.3L1752.3 1261.8L1753 1264.8L1753.7 1261.2L1754.4 1256.4L1755.1 1263.8L1755.8 1263.1L1756.5 1266.2L1757.3 1260.5L1758 1257.1L1758.7 1259.8L1759.4 1265.6L1760.1 1256.8L1760.8 1261.2L1761.5 1261.1L1762.2 1258.7L1762.9 1262.4L1763.6 1263.8L1764.4 1260.4L1765.1 1259L1765.8 1255.7L1766.5 1253L1767.2 1256.1L1767.9 1255.2L1768.6 1260.9L1769.3 1253.9L1770 1257L1770.7 1255.1L1771.4 1254.8L1772.2 1255L1772.9 1256.7L1773.6 1253L1774.3 1258.7L1775 1255.7L1775.7 1254.3L1776.4 1255.8L1777.1 1259.8L1777.8 1253.4L1778.5 1254.1L1779.2 1252.9L1780 1249.6L1780.7 1253.8L1781.4 1254.7L1782.1 1255.1L1782.8 1254.6L1783.5 1250L1784.2 1256.4L1784.9 1255.2L1785.6 1254.9L1786.3 1252.7L1787.1 1254.8L1787.8 1257.4L1788.5 1259.4L1789.2 1257.3L1789.9 1255.9L1790.6 1254.9L1791.3 1250.4L1792 1251.6L1792.7 1252L1793.4 1251.6L1794.1 1255.1L1794.9 1252.9L1795.6 1251.3L1796.3 1257L1797 1252L1797.7 1258L1798.4 1252.5L1799.1 1254L1799.8 1256.8L1800.5 1259.2L1801.2 1257.9L1802 1252.4L1802.7 1251L1803.4 1256.7L1804.1 1253.4L1804.8 1249.6L1805.5 1252L1806.2 1251.2L1806.9 1258.3L1807.6 1269.1L1808.3 1282.5L1809 1289.1L1809.8 1280.8L1810.5 1298.4L1811.2 1303.1L1811.9 1317.4L1812.6 1313.1L1813.3 1309.2L1814 1304L1814.7 1306.5L1815.4 1338L1816.1 1318.3L1816.9 1307.7L1817.6 1327.8L1818.3 1309.3L1819 1314L1819.7 1297.3L1820.4 1312.8L1821.1 1308.5L1821.8 1305.2L1822.5 1320L1823.2 1311.7L1823.9 1309.2L1824.7 1308.9L1825.4 1316.1L1826.1 1318.1L1826.8 1309.3L1827.5 1318.7L1828.2 1333.5L1828.9 1319.4L1829.6 1322.9L1830.3 1323.4L1831 1324.1L1831.8 1321.8L1832.5 1334.1L1833.2 1319.6L1833.9 1329.5L1834.6 1322.1L1835.3 1344.6L1836 1332.4L1836.7 1337.5L1837.4 1337.1L1838.1 1348L1838.8 1347.1L1839.6 1361.6L1840.3 1349.6L1841 1336.9L1841.7 1344.3L1842.4 1342.6L1843.1 1371.8L1843.8 1347.8L1844.5 1354.6L1845.2 1360.7L1845.9 1353.3L1846.7 1361L1847.4 1353.2L1848.1 1360.7L1848.8 1358.7L1849.5 1370.7L1850.2 1348.8L1850.9 1374.1L1851.6 1367.7L1852.3 1363.3L1853 1358.8L1853.7 1372.1L1854.5 1376.2L1855.2 1390.9L1855.9 1371.7L1856.6 1377.8L1857.3 1390.7L1858 1381.1L1858.7 1385.1L1859.4 1388L1860.1 1386.8L1860.8 1394.4L1861.6 1397.2L1862.3 1384.4L1863 1384.4L1863.7 1372.7L1864.4 1377.8L1865.1 1382.1L1865.8 1409.5L1866.5 1426.8L1867.2 1406.2L1867.9 1416.6L1868.6 1433.8L1869.4 1409.5L1870.1 1431.4L1870.8 1385.6L1871.5 1394.4L1872.2 1395.8L1872.9 1414.8L1873.6 1407.8L1874.3 1424.7L1875 1406.2L1875.7 1436.3L1876.5 1411.2L1877.2 1407.8L1877.9 1429.1L1878.6 1397.2L1879.3 1409.5L1880 1414.8L1880.7 1390.5L1881.4 1441.6L1882.1 1416.6L1882.8 1424.7L1883.5 1422.6L1884.3 1411.2L1885 1433.8L1885.7 1447.3L1886.4 1416.6L1887.1 1447.3L1887.8 1457L1888.5 1493.2L1889.2 1460.6L1889.9 1404.6L1890.6 1422.6L1891.4 1433.8L1892.1 1418.6L1892.8 1468.4L1893.5 1457L1894.2 1414.8L1894.9 1424.7L1895.6 1436.3L1896.3 1414.8L1897 1413L1897.7 1441.6L1898.4 1441.6L1899.2 1464.4L1899.9 1441.6L1900.6 1457L1901.3 1453.6L1902 1464.4L1902.7 1453.6L1903.4 1477.2L1904.1 1450.4L1904.8 1416.6L1905.5 1429.1L1906.2 1472.7L1907 1460.6L1907.7 1433.8L1908.4 1444.4L1909.1 1433.8L1909.8 1477.2L1910.5 1499.5L1911.2 1457L1911.9 1453.6L1912.6 1450.4L1913.3 1464.4L1914.1 1477.2L1914.8 1457L1915.5 1460.6L1916.2 1447.3L1916.9 1433.8L1917.6 1453.6L1918.3 1450.4L1919 1477.2L1919.7 1453.6L1920.4 1472.7L1921.1 1450.4L1921.9 1487.4L1922.6 1450.4L1923.3 1453.6L1924 1472.7L1924.7 1438.9L1925.4 1487.4L1926.1 1450.4L1926.8 1457L1927.5 1487.4L1928.2 1487.4L1929 1468.4L1929.7 1472.7L1930.4 1444.4L1931.1 1482.1L1931.8 1460.6L1932.5 1482.1L1933.2 1468.4L1933.9 1450.4L1934.6 1493.2L1935.3 1487.4L1936 1493.2L1936.8 1523L1937.5 1493.2L1938.2 1460.6L1938.9 1477.2L1939.6 1477.2L1940.3 1493.2L1941 1493.2L1941.7 1487.4L1942.4 1487.4L1943.1 1464.4L1943.9 1460.6L1944.6 1482.1L1945.3 1472.7L1946 1487.4L1946.7 1464.4L1947.4 1468.4L1948.1 1533.2L1948.8 1499.5L1949.5 1472.7L1950.2 1506.4L1950.9 1514.2L1951.7 1514.2L1952.4 1487.4L1953.1 1472.7L1953.8 1560L1954.5 1477.2L1955.2 1487.4L1955.9 1472.7L1956.6 1499.5L1957.3 1506.4L1958 1487.4L1958.8 1506.4L1959.5 1487.4L1960.2 1477.2L1960.9 1499.5L1961.6 1460.6L1962.3 1487.4L1963 1472.7L1963.7 1506.4L1964.4 1499.5L1965.1 1493.2L1965.8 1493.2L1966.6 1514.2L1967.3 1472.7L1968 1460.6L1968.7 1506.4L1969.4 1499.5L1970.1 1506.4L1970.8 1523L1971.5 1499.5L1972.2 1514.2L1972.9 1523L1973.7 1472.7L1974.4 1482.1L1975.1 1487.4L1975.8 1468.4L1976.5 1560L1977.2 1506.4L1977.9 1499.5L1978.6 1506.4L1979.3 1493.2L1980 1487.4L1980.7 1579.1L1981.5 1482.1L1982.2 1523L1982.9 1523L1983.6 1514.2L1984.3 1523L1985 1523L1985.7 1468.4L1986.4 1482.1L1987.1 1579.1L1987.8 1450.4L1988.6 1533.2L1989.3 1493.2L1990 1472.7L1990.7 1482.1L1991.4 1499.5L1992.1 1499.5L1992.8 1545.3L1993.5 1514.2L1994.2 1472.7L1994.9 1499.5L1995.6 1514.2L1996.4 1499.5L1997.1 1493.2L1997.8 1477.2L1998.5 1523L1999.2 1514.2L1999.9 1523L2000.6 1493.2L2001.3 1506.4L2002 1523L2002.7 1482.1L2003.5 1523L2004.2 1523L2004.9 1533.2L2005.6 1472.7L2006.3 1499.5L2007 1533.2L2007.7 1560L2008.4 1514.2L2009.1 1514.2L2009.8 1506.4L2010.5 1499.5L2011.3 1523L2012 1523L2012.7 1523L2013.4 1514.2L2014.1 1545.3L2014.8 1499.5L2015.5 1523L2016.2 1506.4L2016.9 1482.1L2017.6 1514.2L2018.4 1545.3L2019.1 1560L2019.8 1482.1L2020.5 1499.5L2021.2 1523L2021.9 1499.5L2022.6 1487.4L2023.3 1487.4L2024 1506.4L2024.7 1477.2L2025.4 1560L2026.2 1545.3L2026.9 1506.4L2027.6 1545.3L2028.3 1579.1L2029 1533.2L2029.7 1487.4L2030.4 1533.2L2031.1 1477.2L2031.8 1523L2032.5 1523L2033.3 1487.4L2034 1545.3L2034.7 1533.2L2035.4 1506.4L2036.1 1605.9L2036.8 1506.4L2037.5 1453.6L2038.2 1514.2L2038.9 1514.2L2039.6 1605.9L2040.3 1560L2041.1 1514.2L2041.8 1605.9L2042.5 1545.3L2043.2 1493.2L2043.9 1523L2044.6 1482.1L2045.3 1523L2046 1560L2046.7 1523L2047.4 1533.2L2048.2 1506.4L2048.9 1533.2L2049.6 1545.3L2050.3 1523L2051 1560L2051.7 1545.3L2052.4 1506.4L2053.1 1523L2053.8 1499.5L2054.5 1506.4L2055.2 1506.4L2056 1487.4L2056.7 1545.3L2057.4 1506.4L2058.1 1523L2058.8 1523L2059.5 1477.2L2060.2 1506.4L2060.9 1506.4L2061.6 1523L2062.3 1482.1L2063 1545.3L2063.8 1506.4L2064.5 1533.2L2065.2 1506.4L2065.9 1493.2L2066.6 1499.5L2067.3 1545.3L2068 1545.3L2068.7 1545.3L2069.4 1533.2L2070.1 1499.5L2070.9 1523L2071.6 1514.2L2072.3 1514.2L2073 1545.3L2073.7 1506.4L2074.4 1533.2L2075.1 1523L2075.8 1533.2L2076.5 1464.4L2077.2 1499.5L2077.9 1545.3L2078.7 1579.1L2079.4 1545.3L2080.1 1545.3L2080.8 1523L2081.5 1464.4L2082.2 1493.2L2082.9 1523L2083.6 1579.1L2084.3 1499.5L2085 1493.2L2085.8 1523L2086.5 1523L2087.2 1472.7L2087.9 1514.2L2088.6 1560L2089.3 1560L2090 1499.5L2090.7 1560L2091.4 1514.2L2092.1 1523L2092.8 1499.5L2093.6 1560L2094.3 1514.2L2095 1506.4L2095.7 1506.4L2096.4 1545.3L2097.1 1545.3L2097.8 1499.5L2098.5 1514.2L2099.2 1545.3L2099.9 1533.2L2100.7 1579.1L2101.4 1533.2L2102.1 1514.2L2102.8 1605.9L2103.5 1514.2L2104.2 1514.2L2104.9 1545.3L2105.6 1468.4L2106.3 1545.3L2107 1560L2107.7 1499.5L2108.5 1523L2109.2 1545.3L2109.9 1545.3L2110.6 1514.2L2111.3 1579.1L2112 1523L2112.7 1560L2113.4 1506.4L2114.1 1533.2L2114.8 1523L2115.6 1514.2L2116.3 1560L2117 1493.2L2117.7 1523L2118.4 1523L2119.1 1487.4L2119.8 1523L2120.5 1523L2121.2 1533.2L2121.9 1499.5L2122.6 1514.2L2123.4 1523L2124.1 1499.5L2124.8 1499.5L2125.5 1545.3L2126.2 1514.2L2126.9 1523L2127.6 1523L2128.3 1533.2L2129 1533.2L2129.7 1560L2130.5 1579.1L2131.2 1506.4L2131.9 1545.3L2132.6 1499.5L2133.3 1545.3L2134 1506.4L2134.7 1560L2135.4 1506.4L2136.1 1514.2L2136.8 1545.3L2137.5 1533.2L2138.3 1533.2L2139 1514.2L2139.7 1499.5L2140.4 1514.2L2141.1 1514.2L2141.8 1506.4L2142.5 1545.3L2143.2 1493.2L2143.9 1545.3L2144.6 1533.2L2145.4 1499.5L2146.1 1482.1L2146.8 1487.4L2147.5 1579.1L2148.2 1560L2148.9 1514.2L2149.6 1499.5L2150.3 1506.4L2151 1560L2151.7 1499.5L2152.4 1499.5L2153.2 1506.4L2153.9 1523L2154.6 1605.9L2155.3 1506.4L2156 1506.4L2156.7 1545.3L2157.4 1605.9L2158.1 1545.3L2158.8 1533.2L2159.5 1533.2L2160.3 1506.4L2161 1493.2L2161.7 1533.2L2162.4 1472.7L2163.1 1523L2163.8 1560L2164.5 1533.2L2165.2 1499.5L2165.9 1506.4L2166.6 1499.5L2167.3 1482.1L2168.1 1545.3L2168.8 1506.4L2169.5 1487.4L2170.2 1487.4L2170.9 1493.2L2171.6 1533.2L2172.3 1533.2L2173 1605.9L2173.7 1533.2L2174.4 1514.2L2175.2 1514.2L2175.9 1560L2176.6 1499.5L2177.3 1560L2178 1523L2178.7 1523L2179.4 1499.5L2180.1 1523L2180.8 1533.2L2181.5 1506.4L2182.2 1506.4L2183 1579.1L2183.7 1545.3L2184.4 1523L2185.1 1579.1L2185.8 1533.2L2186.5 1545.3L2187.2 1487.4L2187.9 1499.5L2188.6 1468.4L2189.3 1493.2L2190.1 1523L2190.8 1487.4L2191.5 1523L2192.2 1533.2L2192.9 1514.2L2193.6 1514.2L2194.3 1533.2L2195 1514.2L2195.7 1605.9L2196.4 1533.2L2197.1 1579.1L2197.9 1487.4L2198.6 1533.2L2199.3 1493.2L2200 1533.2L2200.7 1506.4L2201.4 1506.4L2202.1 1523L2202.8 1514.2L2203.5 1523L2204.2 1514.2L2204.9 1523L2205.7 1545.3L2206.4 1477.2L2207.1 1605.9L2207.8 1681.7L2208.5 1545.3L2209.2 1493.2L2209.9 1579.1L2210.6 1605.9L2211.3 1523L2212 1514.2L2212.8 1493.2L2213.5 1545.3L2214.2 1533.2L2214.9 1477.2L2215.6 1523L2216.3 1545.3L2217 1523L2217.7 1514.2L2218.4 1506.4L2219.1 1560L2219.8 1533.2L2220.6 1545.3L2221.3 1487.4L2222 1545.3L2222.7 1560L2223.4 1545.3L2224.1 1545.3L2224.8 1560L2225.5 1506.4L2226.2 1506.4L2226.9 1579.1L2227.7 1560L2228.4 1533.2L2229.1 1579.1L2229.8 1533.2L2230.5 1560L2231.2 1506.4L2231.9 1499.5L2232.6 1579.1L2233.3 1523L2234 1545.3L2234.7 1533.2L2235.5 1523L2236.2 1533.2L2236.9 1523L2237.6 1579.1L2238.3 1506.4L2239 1487.4L2239.7 1523L2240.4 1579.1L2241.1 1523L2241.8 1506.4L2242.6 1533.2L2243.3 1545.3L2244 1605.9L2244.7 1514.2L2245.4 1545.3L2246.1 1523L2246.8 1545.3L2247.5 1506.4L2248.2 1523L2248.9 1533.2L2249.6 1514.2L2250.4 1560L2251.1 1579.1L2251.8 1514.2L2252.5 1523L2253.2 1545.3L2253.9 1560L2254.6 1477.2L2255.3 1533.2L2256 1514.2L2256.7 1545.3L2257.5 1514.2L2258.2 1493.2L2258.9 1487.4L2259.6 1545.3L2260.3 1533.2L2261 1533.2" fill="none" stroke="#0000ff" stroke-width="4.2" stroke-linejoin="round"/>
</g>
<path d="M2114.5 1239.3H2167.5" stroke="#545454" stroke-width="5" stroke-linecap="round"/>
<path d="M2114.5 1275H2167.5" stroke="#0000ff" stroke-width="5" stroke-linecap="round"/>
<text x="2190.8" y="1247.4" font-size="26" text-anchor="start">9</text>
<text x="2222" y="1247.4" font-size="26" text-anchor="start">V</text>
<text x="2182.8" y="1283.6" font-size="26" text-anchor="start" textLength="54" lengthAdjust="spacingAndGlyphs">10 V</text>
<rect x="1693.4" y="1195" width="567.6" height="456.7" fill="none" stroke="#000" stroke-width="3.6"/>
<text x="1693.4" y="1688.8" font-size="29.5" textLength="30.7" lengthAdjust="spacingAndGlyphs">10</text>
<text x="1835.3" y="1688.8" font-size="29.5" textLength="30.7" lengthAdjust="spacingAndGlyphs">12</text>
<text x="1977.2" y="1688.8" font-size="29.5" textLength="30.7" lengthAdjust="spacingAndGlyphs">14</text>
<text x="2119.1" y="1688.8" font-size="29.5" textLength="30.7" lengthAdjust="spacingAndGlyphs">16</text>
<text x="2261" y="1688.8" font-size="29.5" textLength="30.7" lengthAdjust="spacingAndGlyphs">18</text>
<text x="1635.9" y="1662.5" font-size="29.3" text-anchor="start" textLength="30.5" lengthAdjust="spacingAndGlyphs">10</text>
<text x="1667.1" y="1650.9" font-size="20.1" text-anchor="start" textLength="10.5" lengthAdjust="spacingAndGlyphs">0</text>
<text x="1635.9" y="1510.3" font-size="29.3" text-anchor="start" textLength="30.5" lengthAdjust="spacingAndGlyphs">10</text>
<text x="1667.1" y="1498.7" font-size="20.1" text-anchor="start" textLength="10.5" lengthAdjust="spacingAndGlyphs">1</text>
<text x="1635.9" y="1358" font-size="29.3" text-anchor="start" textLength="30.5" lengthAdjust="spacingAndGlyphs">10</text>
<text x="1667.1" y="1346.4" font-size="20.1" text-anchor="start" textLength="10.5" lengthAdjust="spacingAndGlyphs">2</text>
<text x="1635.9" y="1205.8" font-size="29.3" text-anchor="start" textLength="30.5" lengthAdjust="spacingAndGlyphs">10</text>
<text x="1667.1" y="1194.2" font-size="20.1" text-anchor="start" textLength="10.5" lengthAdjust="spacingAndGlyphs">3</text>
<path d="M1693.4 1651.7L1693.4 1660.7M1835.3 1651.7L1835.3 1660.7M1977.2 1651.7L1977.2 1660.7M2119.1 1651.7L2119.1 1660.7M2261 1651.7L2261 1660.7M1684.4 1651.7L1693.4 1651.7M1684.4 1499.5L1693.4 1499.5M1684.4 1347.2L1693.4 1347.2M1684.4 1195L1693.4 1195" stroke="#000" stroke-width="3.2" fill="none"/>
<path d="M1764.4 1651.7L1764.4 1656.5M1906.2 1651.7L1906.2 1656.5M2048.2 1651.7L2048.2 1656.5M2190.1 1651.7L2190.1 1656.5" stroke="#000" stroke-width="2.6" fill="none"/>
<text x="1984.8" y="1721.8" font-size="36" textLength="146.9" lengthAdjust="spacingAndGlyphs">Time / µs</text>
<text x="1622" y="1408.5" font-size="37.5" transform="rotate(-90 1622 1408.5)" textLength="282.3" lengthAdjust="spacingAndGlyphs">EL Intensity / a.u.</text>
</svg>
</body></html>
